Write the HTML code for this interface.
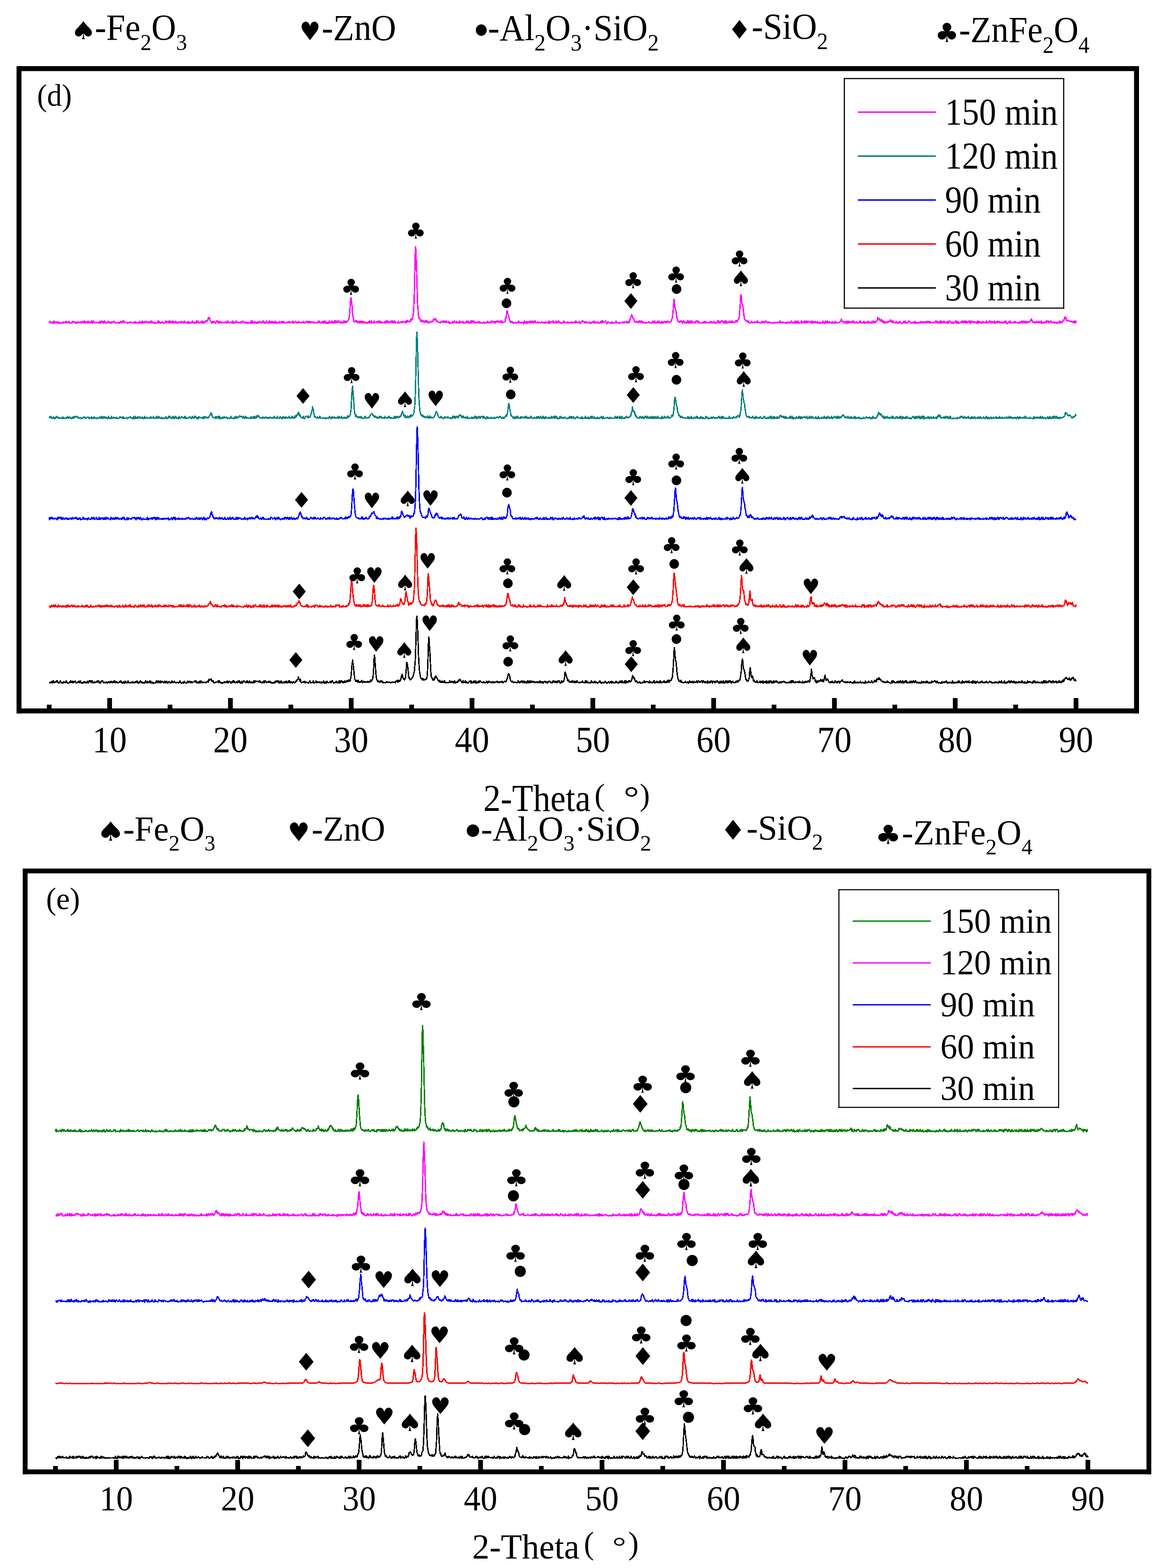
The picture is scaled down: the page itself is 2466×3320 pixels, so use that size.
<!DOCTYPE html><html><head><meta charset="utf-8"><title>XRD patterns (d) and (e)</title><style>html,body{margin:0;padding:0;background:#fff;width:2466px;height:3320px;overflow:hidden}svg{display:block}</style></head><body><svg width="2466" height="3320" viewBox="0 0 2466 3320"><rect width="2466" height="3320" fill="#fff"/><rect x="35.00" y="140.00" width="2376.00" height="10.50" fill="#000"/><rect x="35.00" y="1500.00" width="2376.00" height="10.50" fill="#000"/><rect x="35.00" y="140.00" width="10.50" height="1370.50" fill="#000"/><rect x="2400.50" y="140.00" width="10.50" height="1370.50" fill="#000"/><rect x="48.20" y="1839.00" width="2388.80" height="10.20" fill="#000"/><rect x="48.20" y="3111.30" width="2388.80" height="10.20" fill="#000"/><rect x="48.20" y="1839.00" width="10.20" height="1282.50" fill="#000"/><rect x="2426.80" y="1839.00" width="10.20" height="1282.50" fill="#000"/><rect x="99.20" y="1492.00" width="10.00" height="9.00" fill="#000"/><rect x="227.05" y="1478.00" width="10.00" height="23.00" fill="#000"/><rect x="354.90" y="1492.00" width="10.00" height="9.00" fill="#000"/><rect x="482.75" y="1478.00" width="10.00" height="23.00" fill="#000"/><rect x="610.60" y="1492.00" width="10.00" height="9.00" fill="#000"/><rect x="738.45" y="1478.00" width="10.00" height="23.00" fill="#000"/><rect x="866.30" y="1492.00" width="10.00" height="9.00" fill="#000"/><rect x="994.15" y="1478.00" width="10.00" height="23.00" fill="#000"/><rect x="1122.00" y="1492.00" width="10.00" height="9.00" fill="#000"/><rect x="1249.85" y="1478.00" width="10.00" height="23.00" fill="#000"/><rect x="1377.70" y="1492.00" width="10.00" height="9.00" fill="#000"/><rect x="1505.55" y="1478.00" width="10.00" height="23.00" fill="#000"/><rect x="1633.40" y="1492.00" width="10.00" height="9.00" fill="#000"/><rect x="1761.25" y="1478.00" width="10.00" height="23.00" fill="#000"/><rect x="1889.10" y="1492.00" width="10.00" height="9.00" fill="#000"/><rect x="2016.95" y="1478.00" width="10.00" height="23.00" fill="#000"/><rect x="2144.80" y="1492.00" width="10.00" height="9.00" fill="#000"/><rect x="2272.65" y="1478.00" width="10.00" height="23.00" fill="#000"/><rect x="112.40" y="3104.00" width="10.00" height="8.00" fill="#000"/><rect x="240.95" y="3091.00" width="10.00" height="21.00" fill="#000"/><rect x="369.50" y="3104.00" width="10.00" height="8.00" fill="#000"/><rect x="498.05" y="3091.00" width="10.00" height="21.00" fill="#000"/><rect x="626.60" y="3104.00" width="10.00" height="8.00" fill="#000"/><rect x="755.15" y="3091.00" width="10.00" height="21.00" fill="#000"/><rect x="883.70" y="3104.00" width="10.00" height="8.00" fill="#000"/><rect x="1012.25" y="3091.00" width="10.00" height="21.00" fill="#000"/><rect x="1140.80" y="3104.00" width="10.00" height="8.00" fill="#000"/><rect x="1269.35" y="3091.00" width="10.00" height="21.00" fill="#000"/><rect x="1397.90" y="3104.00" width="10.00" height="8.00" fill="#000"/><rect x="1526.45" y="3091.00" width="10.00" height="21.00" fill="#000"/><rect x="1655.00" y="3104.00" width="10.00" height="8.00" fill="#000"/><rect x="1783.55" y="3091.00" width="10.00" height="21.00" fill="#000"/><rect x="1912.10" y="3104.00" width="10.00" height="8.00" fill="#000"/><rect x="2040.65" y="3091.00" width="10.00" height="21.00" fill="#000"/><rect x="2169.20" y="3104.00" width="10.00" height="8.00" fill="#000"/><rect x="2297.75" y="3091.00" width="10.00" height="21.00" fill="#000"/><rect x="1786.00" y="165.10" width="466.70" height="2.40" fill="#000"/><rect x="1786.00" y="651.20" width="466.70" height="2.40" fill="#000"/><rect x="1786.00" y="165.10" width="2.40" height="488.50" fill="#000"/><rect x="2250.30" y="165.10" width="2.40" height="488.50" fill="#000"/><rect x="1774.60" y="1882.70" width="467.40" height="2.30" fill="#000"/><rect x="1774.60" y="2343.50" width="467.40" height="2.30" fill="#000"/><rect x="1774.60" y="1882.70" width="2.30" height="463.10" fill="#000"/><rect x="2239.70" y="1882.70" width="2.30" height="463.10" fill="#000"/><rect x="1816.00" y="235.90" width="165.00" height="3.00" fill="#ff00ff"/><rect x="1816.00" y="329.00" width="165.00" height="3.00" fill="#008080"/><rect x="1816.00" y="422.00" width="165.00" height="3.00" fill="#0000ff"/><rect x="1816.00" y="515.10" width="165.00" height="3.00" fill="#ff0000"/><rect x="1816.00" y="608.20" width="165.00" height="3.00" fill="#000000"/><rect x="1805.00" y="1948.90" width="165.30" height="2.80" fill="#008000"/><rect x="1805.00" y="2037.40" width="165.30" height="2.80" fill="#ff00ff"/><rect x="1805.00" y="2126.10" width="165.30" height="2.80" fill="#0000ff"/><rect x="1805.00" y="2215.20" width="165.30" height="2.80" fill="#ff0000"/><rect x="1805.00" y="2303.40" width="165.30" height="2.80" fill="#000000"/><path d="M104.2 683.1l0.8-3.2 1 0.4 1 3.3 1-0.1 1 0.1 1-1.7 1 1.4 1-1.9 1 3.2 1-5 1 3.7 1-1.7 1 1.7 1 0.2 1-1.4 1-0.8 1 2.1 1-0 1-1.8 1 2.3 1 0.4 1-2 1 1.4 1 0.9 1-0.8 1-0.2 1 0.5 1 0.3 1-1.2 1-2.1 1 2.3 1 0.4 1-1.4 1-0.9 1 2 1-1.6 1-1.2 1 2.7 1 0.4 1-1.4 1 0.3 1-2.1 1 3.6 1-0.5 1 0.2 1 0.6 1-1.5 1-1 1 1.7 1-3.8 1 1.3 1 0.5 1 0.5 1-1.3 1 3.3 1-2.4 1 0 1 2.7 1-2.1 1 1 1-2.1 1 2.2 1-0.3 1-0.8 1 1.4 1-2 1 1.5 1-1.3 1 1.6 1-3 1 1.1 1 1.6 1-1.7 1-1.5 1-0.5 1 4.7 1-3.3 1 1 1 1.1 1 0.7 1-3.8 1 3.9 1-2.2 1-1.7 1 4.2 1-0.9 1 0.8 1-1.6 1-3 1-0 1 4.9 1-0.9 1-2.1 1-1.9 1 2.6 1 1.6 1-1.2 1 0.7 1 0.2 1 0.4 1-1.5 1 0.2 1 0.8 1 0.1 1 0.8 1-0.6 1-3.3 1 3 1 0.9 1-4.2 1 1.9 1-2.3 1 3.4 1 0.5 1 0.8 1-4.3 1-0.4 1 4.2 1-0.1 1-1.9 1 2 1-0.4 1-0 1-0.7 1-2.2 1 2.6 1-2.1 1 2.5 1-1.1 1 2.3 1-0.4 1-2.9 1 2.3 1-1.8 1 0.1 1-1.9 1 1.2 1-0.5 1 2.6 1 0.4 1-0.1 1-0.2 1 0.5 1-0.4 1-0.3 1-0.7 1 0.9 1 1.1 1-1.3 1-0.6 1-2 1 1.2 1 1.8 1 0.1 1-4.1 1 1.7 1-1.7 1-0 1 4.1 1-1.5 1-0.2 1-0.2 1 0.1 1 0.8 1 0.1 1 1.5 1-1 1 0.4 1-0.8 1 0.6 1-1.8 1-0.5 1 1.3 1-0.1 1 0.6 1 0.5 1-0.2 1 0.2 1-1.3 1 0.9 1-1.4 1 2.4 1-3.1 1 2.7 1-0 1-0.4 1 0.2 1-1.1 1 1.1 1 0.4 1-0.2 1-3.7 1 3 1 0.9 1-0.8 1 1.1 1-4.8 1 4.7 1-2.2 1-0.2 1 2.4 1-1.8 1-1.7 1 1.3 1 0.5 1-1.7 1 1.9 1-0.4 1 0.9 1-1.6 1 2.2 1-2.6 1 2.3 1 0.4 1-1.7 1-2.7 1 1.4 1 2.7 1-2.1 1 2 1-0.2 1-0.3 1 1.9 1-2.2 1 1.2 1-0.2 1 0.6 1 0 1-0.4 1-2.6 1-1.6 1 3.6 1-2.6 1 2.8 1 1.2 1-1.8 1-0.7 1 1.4 1-1.1 1-0.7 1 2 1 0.5 1-0.9 1 0 1 0.1 1-2.7 1-1.2 1 3.9 1-2 1-0.5 1 0.5 1-0.8 1 2.8 1-2 1-1.9 1 1.7 1 2.4 1-1.9 1-1.6 1 2.2 1 1.3 1-4 1 4.5 1-2.1 1 1.2 1 0.8 1-3.8 1 2.1 1 1.7 1-2.3 1 1.8 1 1.1 1-0.9 1-1.1 1-0.9 1 1.1 1 0.2 1-1 1 1.2 1-2.9 1 2.4 1-0.3 1-0.6 1 2 1-0.2 1-4.2 1 2.8 1 1.1 1-1.1 1 1.2 1-1 1 1.2 1-1.1 1 1.8 1-4.4 1 3.6 1 0.7 1-0.9 1-0 1-0.6 1 1.2 1-1.7 1-2.7 1 4.6 1-1.8 1 1 1-0.6 1 1.7 1-0.5 1-1.9 1 1.2 1-3.7 1 4.1 1-0.9 1-3.2 1 4.1 1 0.1 1-0.7 1-0 1-2.1 1 1.7 1 0.8 1-1 1-3.1 1 0.5 1 5.1 1-2 1 0.5 1-2.2 1 1.5 1-3.9 1 1.1 1-0.3 1 0.8 1-0.8 1-2.7 1-4.2 1 0.6 0.3 1.5 0.7-2.9 1 4.2 1 2.4 1 2.1 1 1 1 0.7 1 2 1-4.3 1 1.3 1 1.6 1-2.6 1 1.5 1 0.2 1 2.7 1-1.6 1-1.5 1-2.3 1-0 1 0.2 1 4.3 1 0.8 1-3 1 1.3 1-2.2 1 2.4 1-0.6 1 1.6 1-2.1 1 1.4 1-1.1 1-0.3 1 1.2 1-0.9 1 0.8 1-1.9 1 0.6 1 1.6 1 0.1 1-4.1 1 3.7 1-2.4 1 1.4 1 1.4 1 0.1 1-0.8 1-0.4 1-0.8 1 2.4 1-0.5 1-0.3 1-3.7 1 5.3 1-2.7 1 1.4 1-1.4 1 1.4 1-1.2 1-2.8 1 2.8 1-0.2 1 0.2 1 1.4 1-1.8 1 1.4 1 0.5 1-0.6 1 0.1 1-2 1 1.9 1 0.4 1-3.9 1 1.1 1-0.7 1 1.6 1 1.5 1 0.2 1-0.1 1-2.5 1 2 1 1.3 1-1 1 1 1-1.4 1 1.3 1-0 1-1.2 1 0.3 1 1.2 1-3 1-1.8 1 4.7 1-4.7 1 4.1 1-0.1 1-0.3 1 0.9 1-4.1 1 1.9 1 1.7 1-0.3 1 0.9 1-0.9 1-2.5 1 3.5 1-0.9 1-0.7 1-2.2 1-0.7 1 3.5 1 0.2 1-1.6 1 1.3 1-0 1-2.9 1-1 1 3 1 0.8 1-1.5 1 2.8 1-1.4 1 0.8 1-4.3 1 1.9 1 1.4 1 0.4 1 1.7 1-3.5 1-1.8 1 4 1-2.1 1-0.1 1 2.9 1-3.4 1-1 1 2.7 1 0.6 1-1.9 1 3 1-1.3 1-2.4 1 3.4 1-3.3 1 2.7 1 1.2 1-1.4 1 0.6 1-1.5 1 1.5 1-3.3 1 3 1-1.4 1 1.3 1-0.2 1-3.1 1 2.4 1 0.8 1 0.6 1-3.7 1 1 1 2 1-0.9 1 1.4 1-0 1-0.2 1-1.4 1 0.1 1 1.3 1-2.3 1-0.2 1 1.5 1-2.1 1 2.8 1-0.2 1-1.2 1 1.2 1-2 1 2.9 1-4.4 1 4 1-0.5 1 0.9 1-2.4 1-1.6 1 0.5 1 0.6 1 3.1 1-0.6 1-0.2 1 0.3 1-3.3 1 2.2 1 0.5 1-1.2 1 1.9 1-0.1 1 0 1-1.8 1 0.4 1-0.6 1-1.2 1 3.6 1-0.6 1-0.7 1 1.3 1-0.5 1-2.9 1-0.2 1 0.1 1 2.5 1 0.2 1-2.8 1 2.9 1-1.1 1-2.4 1 3.5 1 0.1 1-0.4 1-1.4 1 0.2 1 0.8 1-1 1 2.5 1-0.6 1-0.9 1 1 1 0.3 1-0.1 1-0.2 1-0.5 1 0.6 1-1.3 1-3 1 3.6 1-3.1 1 2.4 1 1.4 1-0.6 1 0.5 1-2.5 1 2.7 1-4 1 1.8 1 2.8 1-3.3 1-1.7 1 4.2 1-3 1 3.7 1-1.9 1 1.8 1-2.3 1 2.4 1 0.6 1-2.9 1-2.6 1 4 1-2.4 1 1.7 1 0.6 1-1.7 1-2.2 1 4.5 1-2.2 1 0.6 1 1.8 1-4.6 1 0 1 4.2 1-4.3 1 3.5 1 0.3 1-3.7 1 3 1-0.3 1-2.8 1 0.5 1 1 1 3.1 1 0.1 1-3.8 1 3.3 1-1 1 1 1-0.6 1 0.7 1-4.6 1 4.2 1-0.8 1-0.1 1-3.2 1 3.7 1-1.3 1-0.3 1-2.1 1-0.9 1-0.4 1-5.2 1-7.4 1-14.8 1-13.9 0.9-5.5 0.1-0.5 1 5.5 1 9.4 1 16.8 1 8 1 2.3 1 7.6 1 1 1 0.3 1-0.3 1-3.3 1 2.9 1-1.8 1 3.2 1 1.8 1-0.1 1-4 1 2.1 1 1.4 1-3.6 1 3.9 1-3.8 1-0.7 1 4 1 0.3 1-2.8 1 2.9 1-2.8 1 2.9 1-2.8 1 1.8 1 0.5 1 0.4 1-1.2 1 1.9 1-1.1 1 0.1 1-1.9 1 2.5 1-4.5 1 3.8 1 0.6 1-4.1 1-0.3 1 3.8 1 0.5 1-0.7 1 0.6 1-0.3 1-3.8 1 2.6 1 0.6 1-0.6 1 0.9 1-2 1-0.1 1 2.4 1-0.6 1-3.3 1 2.6 1 1.1 1-3.8 1 3.6 1 0.8 1-2.4 1 2.2 1-0.3 1-1.1 1 0.8 1 0.5 1-0.2 1 0.1 1-3.3 1 3.3 1-0.1 1-4 1 4 1-3.9 1 0.4 1 3.2 1 1 1-2.1 1-0.6 1-0.7 1 2.1 1-2.7 1-0.4 1 4 1-4.1 1 3 1 0.8 1-0.1 1-3.9 1 1.2 1 3.7 1-1.5 1 0.3 1 0 1 0.2 1 0.7 1-3.1 1 2.7 1-0.5 1 0.2 1 0.1 1-2.4 1 0.8 1 1.4 1 0.2 1-0.3 1-2.7 1 1.9 1-0.3 1 0.8 1-0.1 1-0.8 1 1.7 1-5 1 4 1-0.3 1-3.8 1 2.5 1 0.2 1 0.2 1 0.4 1-2.1 1-3 1 2.7 1-4.9 1 2.6 1-2.3 1-5.2 1-5.8 1-16.5 1-26.3 1-43.6 1-42.9 0.7-11.9 0.3 1.6 1 22.2 1 31.1 1 38 1 29.3 1 11.9 1 13 1 4.8 1-1.5 1 1.7 1 4.8 1 1 1 0.3 1-3 1 3.4 1 0.6 1-0.3 1-2.7 1 4 1-0.6 1 0.8 1-4.5 1 0.1 1 1.3 1 2.4 1-1.6 1 3.2 1-2.2 1 1.7 1-0 1-0.5 1-0.3 1-1.7 1-0.4 1 0.8 1 0.9 1-3.1 1 0.5 1-4.6 1 1.8 1 0.6 1-0.9 1-2.3 1 4.2 1 2.6 1-1.5 1 1.4 1 0.4 1 1.7 1-0.5 1-0.2 1 0.9 1 0.4 1-1.1 1-1.9 1 0.8 1 0.4 1-0 1-2.4 1 3 1-1.8 1-1.1 1 3.5 1-0.5 1-1.8 1-1.1 1 2.9 1-0.1 1 0.7 1 1 1-3.5 1 2.9 1 1.1 1-1.2 1 1.2 1-0.5 1-0.8 1 0.7 1-3.2 1 3.6 1-1.7 1-0.7 1-2.2 1 1.3 1 1.7 1 0.3 1 0.3 1-2.8 1 3.2 1-1.8 1 1.4 1-0.7 1 0.8 1-3.8 1 4.1 1-1.1 1-0 1-0.9 1 0.4 1 0.1 1-1.4 1 3.5 1-1.2 1 1 1-1.5 1 1.4 1-0.1 1-0.7 1-3.4 1 2 1 0.7 1-2.7 1 4.1 1 0.8 1-1.2 1-0.1 1-3.2 1-0.6 1 4.5 1-4.6 1 0 1 1.6 1 1.1 1-2.7 1 3.4 1 0.6 1-0.7 1 1.3 1-2.1 1 1.2 1-0.9 1-0.1 1 1.7 1-4 1 3.9 1-2.9 1 3.3 1-2 1 1.5 1-0.7 1 0.6 1 1.1 1-0.7 1-1 1-1.3 1 2.5 1 0.5 1-0.9 1-0.5 1 0.3 1 0.1 1-2.6 1-0.3 1 0.5 1 2.4 1-0.9 1 0.4 1 0.9 1-3.2 1 1.9 1 0.6 1-3.7 1 1.5 1-0.3 1-0.8 1 1.1 1 2.6 1-0.6 1-2.8 1 3 1-0.6 1-0.9 1-2.5 1 0.3 1 1 1 2.3 1-2.4 1 0.9 1 1.4 1-3.4 1 2.1 1 1.6 1-3.7 1 3.2 1-1.7 1 2.4 1-1.3 1 0.4 1-0.5 1-0.3 1-7.1 1-0.4 1-7 1-8.5 0.7 1.1 0.3-1.1 1 5.4 1 2.2 1 5.1 1 2.9 1 4 1 3.3 1 1.3 1-0.1 1-2.2 1 0.9 1 0.2 1 2.6 1 0.5 1-1.4 1-0.1 1 0.2 1-1.2 1 1 1 0.7 1-0.2 1-1 1 0.2 1 0.2 1-3.6 1 3.8 1-0.5 1 1.1 1-0.5 1-1.5 1-0.2 1 1.5 1-1.1 1 0.8 1 1.5 1 0.7 1-5.6 1 1.6 1 2 1 1.3 1-0.4 1-4.1 1 5.2 1-1.7 1-2.3 1 1.7 1-1.5 1 1.9 1-3.7 1 4.3 1 0.2 1-1.6 1-2.8 1 3.5 1-2.5 1 2.9 1 0.4 1-4.2 1-0.2 1 0 1 3.9 1 0.5 1 0 1-0.6 1-1.6 1 0.2 1 2.2 1-1.5 1 0.4 1-0.1 1 0.2 1 0.2 1-1.6 1 1.1 1-0.2 1 1.1 1-1.4 1 1 1 1.4 1-2.7 1 1.4 1-2.5 1 2.4 1-0.1 1-0.5 1 0.5 1 0.3 1 1 1-5 1 4.7 1-0.9 1-1.8 1 0.7 1-0.5 1-0.5 1-1.2 1 2.3 1-2.9 1 4.3 1-1.2 1 0.7 1 0.2 1-1.1 1-2.8 1 4 1 0 1-2.3 1 0.5 1-2.3 1 1.1 1 2 1 0.8 1-0.8 1 0.7 1 0.9 1-1 1 0.1 1 0.1 1 0.1 1-3.8 1 1.9 1-0.6 1 2.7 1 0.3 1-0.5 1-0.8 1 0.8 1-0.1 1-2.5 1 1.6 1 1.4 1-0.4 1 0.2 1-0.9 1 1.2 1-0.7 1-1.8 1 1.6 1 0.7 1-0.2 1-0.7 1-0.9 1-0.8 1 2.1 1 0.8 1-4.4 1 2.7 1-0.2 1 0.2 1 1.5 1-0.5 1-0.8 1-1.9 1 2.4 1 2.2 1-1.8 1-1.1 1-2.2 1 1.3 1-1.9 1 0.2 1 0.2 1 1 1 3.2 1-3 1 0.6 1 1.8 1-1.8 1 0.4 1 1.4 1-0.3 1 0.1 1-0.8 1 0.8 1-1.6 1 2.7 1-1.2 1 1 1-0.9 1-1.6 1 1.2 1 0.1 1-0.2 1-3.4 1 4.4 1-3 1 3.3 1-0.8 1-0.7 1 1.1 1-1.2 1-1.2 1 2.6 1-0.8 1 0.2 1 1.2 1-1.2 1 0.4 1-3.7 1 3.8 1-4.2 1 3.9 1-3.9 1 2.3 1 0.2 1-0.8 1-0.3 1-1.2 1-0.2 1 3.9 1 0.7 1 1 1-1.7 1-2.1 1 0.9 1 0.6 1 0.5 1 0.3 1-0.3 1-1.1 1 2.2 1-3.1 1 2.8 1-1 1 0.4 1-0.2 1 0.5 1 0.1 1-0.7 1 0.6 1-4.4 1 3.9 1 0.2 1-0.2 1 0.4 1 1 1-1.6 1-0.9 1 1.8 1-1.1 1 0.8 1-0.8 1-0.9 1-0.3 1 0.1 1 1.5 1-2.6 1 2.4 1-1.1 1-0.9 1 1.8 1 0.7 1-2.4 1 2.2 1-0.3 1 0.1 1-3 1 1.9 1 1 1-4.3 1-3.9 1-3.6 1-0.6 1-3.3 0.1-1.1 0.9 0.7 1 4.7 1 2.5 1-0.9 1 2.7 1 4.7 1 0.7 1-0.2 1 1 1-1.1 1-0.5 1 0.7 1 1.4 1 1 1-2.4 1-1.8 1-0.3 1 3.7 1-0 1-3.4 1-0 1 2.6 1-0.9 1 2.3 1-1.9 1 1.9 1-0.4 1-0.1 1 0.3 1 1.1 1-0.9 1-1.4 1 0.9 1 0.2 1-1.3 1-0.6 1-0.3 1 2.5 1-0.6 1 0.2 1 0.4 1 0.5 1-1 1 0.5 1-4.2 1 3.7 1 0.1 1 0.1 1-3.9 1 4.3 1-0.6 1 0.5 1-0.5 1-0 1-2.7 1 3.7 1-1 1-3.7 1 4 1-0.2 1 0.5 1 1.2 1-1.8 1-2.9 1 3.1 1 1 1-2 1 0.4 1-2.3 1 0.2 1 2.3 1-1.2 1 2.2 1-4 1 2.2 1-2.3 1-0.1 1 2.7 1-0.3 1 0.3 1 0.5 1-1.7 1-1 1 0.1 1-4.2 1-2.3 1-8.4 1-10.7 1-13 0.8-8.1 0.2 0.8 1 9 1 8.2 1 3.7 1 4 1 7.3 1 7.6 1 1 1 5.2 1 0.3 1 0.6 1-0.4 1 2.1 1-3.8 1 1.5 1-0.2 1-1.1 1 3.7 1 1.4 1-2.7 1-2.3 1 0.5 1 3.2 1-0.3 1-0.7 1 2 1-0.9 1-0 1-4 1 4 1-4 1 3.6 1 1.2 1-4.8 1 4.3 1-2.1 1-2.1 1 4 1 0.5 1-3.4 1 2.4 1 1 1-0.1 1-0.4 1-2.6 1 2.5 1-1.7 1-2.1 1 0.6 1-0.4 1 0.4 1 4.2 1-4.1 1 2.1 1 0.9 1 0.7 1 0.4 1-0.4 1-0.8 1 0.9 1-0.3 1-0.1 1-2.1 1 1.8 1-0.1 1-3.3 1 3.4 1-1.6 1 2.1 1-1.5 1 0.4 1-0.1 1 0.7 1 0.4 1-0.5 1 0.2 1-2.9 1 0.3 1 3.1 1-2.4 1 1.8 1-1.5 1 1.5 1 0.7 1-3.5 1 1.3 1 2 1 0.4 1-1 1 0.5 1-0.6 1-1.7 1-2.1 1 3.8 1-3.6 1 0.6 1 3.1 1 0.9 1-3.3 1 0.6 1-2.1 1 0.1 1 1.6 1-1.7 1 4.3 1-1.2 1 0.7 1-3.8 1 2.2 1 3.4 1-5.3 1 3.9 1-2.5 1 2.2 1-0.9 1-0.9 1 1 1 1.2 1-4.1 1 2.3 1 1 1-1.8 1 2.1 1-4 1 3 1-0.4 1-0 1 1.4 1 0.1 1-1.6 1-0.5 1-2.7 1 1.9 1 1.5 1-2.7 1-1.5 1-1.7 1-1.2 1-4 1-14.9 1-13.5 1-17.6 0.5-0.1 0.5-0.7 1 14.8 1 6.5 1 1.9 1 3.1 1 11.1 1 8.2 1 5.8 1 1 1 2.4 1 1.3 1 0.2 1-0.3 1 0.2 1-1.8 1 3.8 1-0.4 1 1.9 1-0.3 1-0.4 1 0.4 1-1.3 1-1.9 1 2.9 1-0 1 0.1 1-0.7 1 0.8 1-1.5 1 0.4 1-0.1 1-1 1 1.8 1-0.2 1-3.2 1 3.6 1-1.9 1 1.8 1 0.4 1-0 1 0.3 1-0.6 1 0.5 1-0.2 1-3.2 1 3 1-2.8 1 2.1 1-1.4 1 2.5 1-0.8 1-3.2 1 1.6 1-0.5 1 1.9 1-1.5 1 2.9 1-0.2 1-1.7 1-0.9 1 2.2 1-0.1 1 0.1 1-0.1 1 0.7 1 0.1 1-0.9 1 1.2 1-0.6 1-0.2 1 0.3 1-1.3 1 0.9 1-0.3 1 0.7 1-0.2 1-1.8 1 0.4 1 1.2 1-1.2 1 0.4 1 0.1 1-3.3 1 3.9 1-1.3 1-0 1 1.1 1 0.7 1-2.4 1 1 1 0.5 1 0.1 1-0 1 0.7 1-1.3 1 2 1-1.3 1 1 1-0.7 1-2 1 1.9 1 0.1 1-1.4 1 1.3 1 0.1 1-0 1-3.8 1 2 1 0.5 1 1.9 1-2.2 1 2.3 1-2 1 1.8 1-4.4 1 4.9 1-4.1 1 1 1 3.1 1-1.1 1-3.6 1 0.8 1 3.8 1-0.9 1 0.5 1-0.1 1-0.3 1-4.1 1 3.4 1 0.4 1 0.1 1-1.8 1-0 1 2.2 1-4.2 1 4.2 1-0.5 1-1.2 1-2.7 1 4 1-0.9 1-2.4 1 1.6 1-1.1 1 0.2 1 1.9 1-0.9 1-0.7 1 2.2 1-3.7 1 5.1 1-0.8 1-4 1 2.5 1 1.4 1-1.3 1-1.7 1 2.9 1-2.1 1 1.9 1-0 1-0.1 1-2.6 1 3.4 1-0.6 1-1.7 1 2.4 1 0.2 1-2.4 1 1.3 1 0.1 1-0.4 1 0.9 1-4.3 1 4.3 1-0.4 1 0.7 1-0.7 1-3.9 1 3.6 1-1.4 1 1.7 1-4 1 3.4 1 1.1 1-2.7 1 2.1 1-1.7 1 1.2 1-0.4 1 0.3 1 0.9 1 0.4 1-3.3 1 2.3 1-0.7 1 1 1 1.1 1-0.5 1-4.2 1 3.8 1-0.3 1 0.7 1-0.7 1-0.1 1-0.1 1-0.3 1 0.2 1-0.5 1-1 1-1.6 1-0.1 1-4.2 1 3.7 1 1 1 1.7 1-2.2 1 3.5 1 0.7 1-0.4 1-2 1 2.2 1-3.7 1 3 1 1.1 1-0.9 1-3.8 1 4.3 1 0.3 1-2.1 1-1.9 1 0.7 1 2.5 1-0.6 1-0.4 1-2 1-0.9 1 3.7 1-3.1 1 3.2 1-1.5 1 2 1-0.2 1-1.4 1 1.5 1-2.7 1 2.4 1-0.4 1 0.1 1 0.2 1-0.5 1-2.3 1-1.1 1 4.5 1-1.4 1 0.7 1 0.5 1-1.2 1 1.3 1-0.6 1-2.9 1 4.3 1-2 1-0.4 1 1.6 1-1.8 1 0.4 1 1 1-3.1 1 3.7 1-2.3 1 1.6 1 0.6 1-0.7 1 0.1 1-2.1 1 2.9 1-1 1 0.2 1-4 1 4.4 1-3.3 1 3.5 1-2.2 1 0.6 1-1.5 1 0.4 1-0.5 1-2.2 1-6 1 1.8 1 1.7 1-1.3 1 3.6 1 0.5 1 0.6 1-2.9 1-0.1 1 5.4 1-0.6 1-1.2 1-1.1 1 5.5 1-1.8 1-1.2 1 2.5 1-1.9 1 0.5 1-1.3 1 2 1-1.5 1 1 1-2.2 1 0.4 1-0.2 1 0.5 1-4.4 1 1.9 1 1.2 1 3 1 0.1 1-3.8 1 2.2 1 2.3 1-0.6 1-0.2 1 0.4 1 0.6 1-3.6 1 1.7 1 1.4 1 1 1-0.7 1-0.4 1-2 1 2.2 1-2.7 1 2.3 1 0.7 1 1.4 1-1.1 1 0.3 1-1 1-0.8 1-2.6 1 3.3 1 0.8 1-4.5 1 3.1 1 0.8 1-0 1 0.8 1-2.4 1 0.6 1-2.8 1 1.1 1 0.5 1-0.9 1 3.1 1 0.1 1-0.3 1 0.9 1-0.8 1 0.1 1-1.7 1 1.5 1 1.3 1-1.3 1-3.3 1 4.6 1-0.8 1-0.5 1 0.9 1-0.5 1-0.5 1 1 1-1.6 1-0.3 1 1.8 1-0.9 1-2.5 1 2.7 1-1.1 1-0.5 1 1.6 1-2.4 1 1.5 1 1.5 1-1.9 1-0.8 1 0.2 1 2.3 1-1.5 1-2.2 1 2.7 1-2.3 1-0.3 1 3.1 1-1.5 1 1.7 1-2.7 1 2.6 1 0.3 1-0.4 1 0.1 1-1 1-0.2 1 1.9 1-0.4 1-1.2 1-0.4 1 1 1-3.5 1 1 1 2.7 1-1.8 1-1.4 1 2.3 1 2.1 1-1.5 1 0.2 1-3.5 1 4.9 1-5 1 3.8 1-2.4 1 2.5 1-0.7 1-2.3 1 2.6 1-2.4 1 2.6 1 0.3 1-0.1 1 0.2 1-0.3 1-3.4 1 4.1 1 0.4 1-1.3 1-3.6 1 1.1 1-0.7 1 0.2 1 3.5 1-0.8 1 2.2 1-1.4 1-1.9 1 2.5 1 0.4 1-0.6 1-1.5 1-2.3 1-0.7 1 0.1 1 4.6 1 0.5 1-2.1 1-2.1 1 3.7 1-0.7 1-0.1 1-0.4 1 0.2 1-1.4 1-1.3 1 2.4 1-1.7 1-1.6 1 4.3 1-0 1-2.1 1-2.3 1 3 1-2.2 1 3 1-2.6 1 2.8 1-2.2 1 0.6 1 0.1 1-2.4 1 0.7 1 3.2 1-2.8 1 3.5 1-3.7 1-1 1 2.1 1-0 1 1.1 1-1.9 1 2.5 1-2.1 1 1.9 1 0.2 1-0.8 1 0.4 1 1.4 1-4.8 1 2.9 1 1.8 1-4 1 2.6 1-0.5 1-1.3 1 2.6 1 1.4 1-2 1-0.9 1-1.8 1 3.2 1-0.4 1-1.4 1 1.4 1-0 1-1 1 1.6 1-4.3 1 4.2 1-1 1 0.6 1 0.2 1-2 1-1.1 1-0.9 1 1.9 1 1.9 1-2.6 1 3.3 1-1.3 1-1.1 1-0.2 1 2.4 1 0.3 1-4.6 1 3.9 1 0.9 1-0.3 1-1.1 1-2.8 1 2.8 1-2.9 1 2.4 1-0.6 1-1.2 1 2.8 1-1.1 1 1.2 1 0.1 1-2.2 1 2.3 1-0.9 1 1 1-0.5 1 0.3 1-3.2 1 2.5 1-0 1-3.2 1 5.5 1-1.2 1 1.2 1-2.1 1-1 1-0.5 1 0.9 1 1.3 1-4.2 1 2.8 1 1 1 0.6 1-1.9 1 1.4 1-0 1-0.9 1-0 1 1.2 1-3.7 1 3.8 1-0 1-1.6 1 0.4 1 0.2 1 0.5 1-0.5 1 0.6 1 0.7 1-2.9 1 2.5 1-0.5 1-2 1 1.7 1-3.5 1 4.7 1-0.5 1-0.8 1-3.1 1 3.5 1 0.8 1-3.8 1 3.4 1-0.5 1-2.4 1 2.6 1-0.2 1-1.7 1 1 1-1.3 1 0.5 1-1.7 1-0.4 1-0.3 1-4.2 1 3.6 1-0 1 3.7 1-0.1 1 0.4 1 1 1-2.2 1 1.9 1-0.3 1 1 1-3.5 1 0.6 1 0.8 1 1.7 1-0.3 1-3.3 1 3.1 1-0.8 1 0.3 1 1.1 1-4.3 1 5 1-2 1 0.7 1 1.1 1-2 1-0.4 1 1.1 1 0.8 1-1.7 1-1.6 1 2.1 1-3 1 1.5 1 0.2 1-1.5 1 3.8 1-0.1 1-1.6 1-0 1-2.3 1 0.8 1 2.4 1-0.1 1 0.7 1-0 1 0.1 1-2.5 1 2.5 1-0.1 1-0.6 1 0.7 1-0.2 1 1.4 1-2.5 1 1.1 1-0.7 1-0.5 1 2.2 1-4.9 1 3 1-0.1 1 1.7 1-3 1 0.3 1 1 1-1.7 1-3.6 1 1.8 1-1.8 1-6 0.8 1.9 0.2 1 1-2.5 1 4.8 1 2.3 1-0.3 1 1.2 1-1.5 1 0.1 1 1.7 1 0.7 1-0.3 1 0.5 1-0 1-0.2 1 1.4 1-0.6 1 1.8 1-0 1-2.9 1 4.1 1-2.4 1-2.4 1 4.8 0.65-4.8" fill="none" stroke="#ff00ff" stroke-width="2.8" stroke-linejoin="round" shape-rendering="crispEdges"/><path d="M104.2 885.2l0.8-2.5 1 0.7 1-0 1-1.8 1 4.4 1-0.4 1 0.5 1-0.9 1-2.4 1 2.4 1-1.3 1 2.6 1-1.7 1 0.9 1-4.2 1 1.5 1-0.2 1 2.4 1-1.6 1-0.1 1 1.8 1 0.2 1-0.3 1 0.3 1 0 1-0.2 1 0.3 1-2.3 1 2.9 1-3.1 1 2.4 1 0 1 0.6 1-0.9 1 0.1 1-0.6 1 0.8 1-0.6 1-3.3 1 2.6 1 1.4 1-2.7 1 2.3 1-1.5 1 0 1 1.8 1 1 1-1.1 1-1.6 1 1.6 1-1.3 1-1.3 1 2.7 1-3.3 1-0.6 1 1 1-0.2 1 0.1 1-1 1 3.2 1 0.4 1-1.5 1 2.1 1 0.5 1-0.5 1-1.5 1-0.2 1 2.3 1 0.2 1-1.1 1-0.1 1-0.1 1-1.6 1-1.3 1 2.4 1-1 1 2.3 1 0.1 1-1.4 1-1.1 1-0.1 1 0.3 1-0.4 1-0.1 1 3.3 1-0.7 1-1.6 1-0.4 1 2.5 1-3.8 1 3 1-0.1 1-0.9 1-1.1 1 2.8 1-3.4 1 2.1 1 0.8 1-0.4 1 1.4 1-1.2 1-0.9 1 1 1-0.3 1-0.1 1-0.2 1-2.4 1 2.5 1 0.2 1-1.5 1-2.3 1 3.8 1-1.5 1 2.4 1-4.4 1 1.7 1-1.6 1 3.3 1 0.6 1-2.8 1 0.3 1 2.4 1 0.5 1-2.1 1 1.2 1-3.7 1 4 1-0.1 1-0.3 1 1.1 1-0.5 1-4.3 1 3.7 1 0.3 1 0.5 1-2.4 1-0.1 1 0.9 1 0.9 1-1 1-0.2 1 1.4 1-1.9 1 3 1-0.6 1-0.7 1-0.1 1 0.7 1-1.6 1-1.8 1 1.5 1 0.5 1-1.5 1 1.1 1 1.8 1-0.7 1-3.2 1 3.9 1-1 1 0.5 1 0.4 1 0 1-0.9 1-0.6 1 0 1 1.9 1-0.9 1-1 1-1.5 1 0.7 1-0.4 1-0.6 1 0.7 1 2.5 1-0.7 1 0.7 1 1.2 1-0.5 1-4.8 1 4.4 1 0.8 1-1.2 1-4 1 3.6 1-1 1 1.1 1-0.1 1-3.1 1 1.2 1 2 1-2.3 1-0.4 1 2.7 1-0.8 1 0.1 1 1.1 1-3.3 1 2.9 1 0.3 1 0.7 1-0.3 1-4.5 1 4.5 1-1.9 1 1.3 1-1.5 1-0.2 1 1.9 1-0.3 1-0.4 1 0 1 0.2 1 0.2 1-1.7 1-1.7 1 1.9 1 1.9 1-1.5 1 0.8 1-1 1-2.5 1 3.8 1-0.2 1 0.7 1-0.4 1 0.2 1-4 1 2.8 1 1.1 1-4 1 4.6 1-3.1 1-0.3 1 1 1 1.6 1-0.1 1 0.2 1-2.1 1 3.6 1-1.3 1-0.8 1 0.8 1 0.9 1-1.1 1 0.3 1-2.4 1-1.5 1 3.2 1 1.5 1-1.2 1 0.5 1-2.3 1-2 1 2.9 1-2.8 1 0 1 1.9 1 2.4 1-1.2 1 1.5 1-3.7 1 2.1 1-3 1 2.6 1 2.3 1-3.2 1-0.7 1-1.1 1 4.2 1 0 1-1.1 1 1.2 1 0.3 1-0.2 1-4.3 1 4 1 0.2 1-0.4 1-0.5 1-3.1 1 0.8 1 0.3 1 1.8 1-0.3 1 1 1 0.6 1-4.6 1 3.9 1-2.9 1 2.8 1-0.1 1 0 1 0.9 1-0.9 1-1.1 1-1.1 1 0.8 1-1.3 1 1.7 1 0.7 1 1.6 1-1 1-4 1 3.2 1-1.7 1 2.3 1 0.3 1-4 1 2.5 1-2.5 1 2.1 1 1.7 1 1.4 1-2 1 1.5 1 0.4 1-4.7 1 1.2 1 0.2 1 1.4 1 0.2 1-1.1 1 0.6 1 0.2 1-1.6 1 3.7 1-4.1 1 2.8 1-2.7 1-0.8 1 3.5 1-2.7 1 0 1 2.3 1-0.3 1-1 1 1.4 1-2.3 1-2.2 1-1.2 1-1 1-1.7 1-3 1 2.2 1 5.2 1 2 1 0.5 1 0.5 1 0.9 1-0.1 1-1.6 1-0.7 1 4 1-4.1 1 2.1 1-2.4 1 2.8 1-1.1 1-2.5 1 5.6 1-5.6 1 3.2 1 1.8 1 0.6 1-2.6 1 1.5 1-3.2 1 1.9 1 0.6 1-2.5 1 1.9 1-1.3 1-0.2 1 1.2 1-1.1 1 0 1 2.9 1-0.8 1-0.1 1 0.2 1 0.9 1-0.7 1-1.2 1 0.3 1-3.1 1 4 1-0.1 1 0 1-0.2 1 0.3 1 0.9 1-2.2 1-1.6 1-0.3 1 3.4 1-0.7 1-3.7 1 3.6 1-1 1 0.9 1-2.7 1-0.1 1-1.7 1 1.7 1-0.8 1 1.1 1-1 1 0.6 1 0.7 1 1.6 1-3.2 1 4.1 1-1.2 1 1.7 1-1.7 1-2.7 1 4.2 1-1.4 1 1 1-0.7 1-0.4 1 1.5 1-0.4 1 0.3 1 0.1 1 0.4 1-3.3 1 2.9 1-2.2 1 0.3 1 2 1-3.2 1 3.1 1-2.2 1-2.1 1 4 1 0 1-0.2 1-4.7 1 3.2 1-0.3 1-3.8 1 1.7 1 0.3 1 1.6 1 1.8 1-0.4 1 0.7 1 0.7 1-0.3 1 0 1-2.6 1 0.3 1 0.4 1 1.7 1 0.5 1-1.6 1-0.4 1-1.3 1 2.5 1 0.1 1-0.9 1 1.4 1-0.1 1-2.1 1 2.4 1-0.8 1-1.9 1 1.3 1-0.5 1 1.9 1-0.7 1 0.1 1-1.7 1 0.5 1 0.9 1-3.5 1 2.3 1 1.5 1 0.2 1-0.4 1 0.4 1-4 1 2.3 1 1.5 1 0.3 1 0.3 1-0.5 1-3.4 1 1.1 1 2.1 1-0.4 1 1.7 1-3.2 1 2 1-3.5 1 3.4 1 0.3 1-1 1 1.1 1-3.7 1 2.5 1-0.2 1 0.1 1 1.1 1-1.5 1 0.7 1-3.1 1 3.3 1-0.7 1 1.3 1-0.1 1-0.1 1-3.5 1 2.9 1-2.2 1 2.6 1 0.1 1 1 1-3.7 1-1.7 1 3.3 1-4.5 1 0.1 1 0.9 1-4.7 1 0.9 0.7-0.9 0.3-3.2 1 3.7 1 3.4 1-2.4 1 5.9 1 0.3 1 0.7 1 0.1 1 0.7 1 0.7 1-4.6 1 4.2 1 0 1 1.1 1-2.2 1-2.8 1-0.3 1-0.1 1 0 1 2.3 1 0.9 1-3.5 1 3.3 1-0.9 1 0.8 1-2.1 1-5.3 1-0.5 1-7 1-2.2 0.5-5.8 0.5 3 1 1.5 1 8.2 1 5.8 1 3.1 1-1 1 2 1 1.1 1-0.4 1 0.6 1-2.2 1 2.1 1 0.7 1-0.8 1 0.4 1-3.9 1 3.9 1 0.7 1-0.8 1 0.1 1-0.7 1 0.1 1 1.3 1-0.7 1 0 1 0.8 1-0.4 1-0.8 1 1.5 1-0.4 1-0.4 1-0.2 1-1.2 1 2.2 1-1.6 1-0.8 1-2.2 1 3.9 1 0.4 1 0.4 1-2.3 1-1.8 1 3.5 1-1.5 1-1 1-0.3 1 2.5 1-1.8 1 1.5 1 0.6 1-1.3 1-0.2 1 1.5 1-1.8 1-2.5 1 4.6 1-2.8 1-0.5 1 2.1 1-0.7 1 1 1-3.5 1 3.9 1-0.6 1 1.3 1-2.2 1-0.2 1 2 1-0.6 1-1.8 1 1.4 1 0.4 1 0.7 1-2.8 1-3.1 1 3.7 1-1.8 1-0.6 1 0 1-2.2 1-4.2 1-7.7 1-19 1-18.9 1-8.9 0.2-3.3 0.8 8.7 1 12.9 1 13.4 1 16.4 1 7.7 1 2.2 1 4.2 1-4 1 2.5 1 1.7 1-0.7 1 2.5 1 0.2 1-2.5 1-0.2 1 2 1 0.4 1 0.4 1-3.7 1 4.5 1-0.4 1-0.1 1 0.7 1-0.2 1-0.2 1-3.2 1-1.2 1 2.8 1 1.9 1-0.7 1-0.4 1 0 1-0.1 1-1.7 1 2.2 1-1.7 1-2.2 1-3 1-1.1 1-1.2 0.8-0.3 0.2 0.4 1 0.2 1 2.2 1 2.3 1-1.8 1 1.2 1 3.9 1-1.4 1-1.2 1 2.4 1 0.4 1-0.8 1 2.5 1-0.1 1-2.3 1 0.6 1-2.5 1 3.7 1-3 1 0 1-1 1 4.2 1-0.3 1-1 1 0 1 1.5 1-0.3 1 0.5 1-4.5 1 3.6 1-0.1 1 0.5 1-0.5 1-1.9 1 2.2 1-0.3 1-3.5 1 1.2 1 1.7 1 0.9 1-0.4 1 0.6 1-1.3 1 1.2 1 0.1 1-0.2 1 0.4 1-1.3 1-3.1 1 4 1 0.7 1-3.6 1 2.4 1-3.8 1 2.6 1-1.4 1 2.6 1 0.4 1-1.3 1-2.3 1 1.3 1-1.1 1-2.9 1-2.5 1-1.8 0.5-0.4 0.5-3.5 1 4.8 1 2.3 1 2.5 1-0.9 1 4.1 1-3.9 1 3.7 1 1.3 1-1.3 1 0.4 1-3 1 3.8 1-1.5 1 0.2 1-2.3 1 2.6 1-0.5 1-4.7 1 1.9 1 1.6 1-2.6 1 0 1-1.8 1-2.3 1-7.9 1-7.1 1-21.3 1-37.1 1-50.9 1-41.4 0.4-6.3 0.6 9.9 1 27.7 1 39.7 1 37.9 1 27.6 1 15.5 1 9.8 1 3.7 1 3.4 1 1.4 1-1.3 1 3.3 1-2.1 1 0.5 1 3.3 1-1.5 1 2 1-1 1 1.4 1-1.1 1 0.5 1 1.1 1-4.3 1 1.5 1 3.5 1-1.9 1 1.1 1-3.9 1 3.7 1-0.9 1 1 1-1.6 1 1.7 1 0.2 1-0.5 1-0.3 1-2.4 1-0.3 1-2.3 1-4 1-2.7 0.4-1.2 0.6 2.3 1 0.7 1-0.1 1 6 1 2.4 1 0.8 1 1.3 1 0.2 1-1.8 1 2.1 1-4 1 2.5 1 1.3 1 0.4 1-0.2 1 1.4 1-2.1 1-1.5 1 0.7 1 1.7 1-1.7 1-0.1 1 1.6 1-0.9 1-1.6 1 1.3 1 1.4 1-0.3 1-0.3 1 1.5 1-1.4 1 0.3 1 1.5 1-0.4 1-4.8 1 3.4 1-3 1 3.4 1-3.9 1 2.3 1 1.8 1-1.1 1-3.1 1-0.1 1 2.2 1 1.3 1-0.2 1-3 1-2 1 1.2 1-0.3 0.3-2.1 0.7 1.1 1 1.2 1 3.2 1 0.1 1-3.2 1 4 1-3.4 1 2.7 1 1.2 1-0.8 1-0.7 1 2 1-1.1 1 0.9 1-3.8 1 3.9 1-0.6 1 1.4 1-0.1 1-0.9 1 0.6 1-0.4 1-0.8 1-0.8 1 2.4 1-1 1-1.7 1 2.1 1 0.5 1-0.5 1-4.1 1 3.6 1-3.6 1 3.9 1-3.1 1 3.9 1-0.9 1-0.3 1-3.4 1 2.4 1-1.5 1 3 1 0 1-3.4 1-0.4 1 0.5 1 0.1 1 3.2 1-4 1 3.2 1-2.7 1 1.3 1 3.1 1 0.1 1-0.2 1-1.2 1-2.7 1 2.9 1-2.2 1 2.9 1-0.4 1 0.2 1-0.8 1 1 1-0.8 1-1.5 1 1.7 1 0.3 1-0.3 1 0.6 1-0.1 1-2.7 1 1.1 1 1.9 1-0.9 1-1.3 1-0.8 1 0.3 1-0.8 1 2.4 1-0.1 1 0.2 1-2.8 1 0.6 1-1.6 1 0.9 1 3.2 1 0.4 1-0.1 1-0.4 1-2.2 1 2.4 1 0.3 1-1.6 1-2.3 1-0.2 1-2.4 1 2.5 1-2.1 1-5 1-6.7 1-8 0.7-5.5 0.3-0.2 1 4.3 1 6.6 1 5.9 1 4.4 1 5.6 1-0.5 1 0.6 1 2.6 1 0.2 1 1.5 1-2.9 1 0.1 1 3.9 1-1.5 1-1.1 1-2.8 1 4.3 1-0.6 1-3.5 1 2.5 1 1.2 1 0.2 1-0.3 1 0.6 1-3 1 3 1-1.9 1-0.9 1-0.7 1 2.6 1 0.3 1-0.8 1 0.5 1-2.4 1 2.8 1-3.6 1 0 1 4 1-1.6 1 1.9 1-2.7 1 0.8 1 1.3 1 0.6 1-1 1-3.4 1 0 1 2.5 1 1.5 1-0.5 1 0.6 1 0.4 1-0.3 1-2.2 1 0.7 1 0.3 1 1.3 1 0.2 1-3.5 1 2.7 1-3.1 1 3.4 1-2.9 1 1.8 1 0.9 1 0.1 1-3.9 1 1.2 1 2.5 1-0.7 1 1.7 1-4.7 1 0.2 1 3.7 1-1.5 1 3.2 1-4.4 1 1.2 1 0.6 1-1.4 1 1.3 1 1.5 1-0.3 1-0.3 1-2.3 1 2.1 1 0.6 1-1.4 1 1.8 1-4.5 1 2.8 1 1.5 1-1.1 1-2.2 1 1.3 1-2.3 1 4.6 1-4.6 1 3.6 1-2.1 1-1.4 1 4.4 1 0.2 1-0.8 1 1 1 0.2 1-1.6 1-2.6 1 3.1 1-1.5 1-2.4 1 2.8 1 1.1 1-0.2 1-1.1 1 1.2 1-1.9 1 1.1 1-1.7 1 1.9 1 0.4 1 0.7 1 0.3 1-0.8 1 0 1-1 1 0.8 1 0.2 1-3.9 1 2.8 1-2.2 1 3.7 1-3.2 1-0.4 1 1.8 1 1.7 1-3.7 1 3.5 1 0.6 1 0.1 1-1.3 1 0.5 1-2.4 1 0.4 1-1.7 1 2.5 1 0.5 1 0.3 1 0.6 1 0 1-0.1 1-1.1 1 1.2 1-0.5 1-2.7 1 4.3 1-1.1 1 0.1 1-0.7 1 1 1-0.6 1-4.1 1 4.7 1-0.9 1-0.6 1 0.7 1 0.7 1-3.2 1 3.7 1-0.7 1-0.5 1 0.3 1-3.3 1 3 1-3.9 1 3.7 1-3.6 1 2.7 1 1.1 1 0 1-2.5 1 2.7 1-0.3 1 0.5 1 1 1-2.6 1-0.3 1 2.3 1-1.9 1 1.2 1 1.2 1-0.7 1-2.1 1-0.9 1 1.6 1-2.9 1 3 1 1.3 1 0.5 1-4.6 1 3.9 1-0.1 1 0.3 1 0 1-0.3 1-1.3 1-0.2 1 0.4 1-1.4 1 2.5 1 0.4 1-0.7 1 1.5 1-3.6 1 0.9 1-0.1 1 2 1-0.4 1-0.4 1 0.7 1 0.1 1-0.7 1-0.4 1 0.8 1-3 1-1.1 1 2.2 1 1.5 1 0.1 1-3.8 1 2.8 1-0.7 1 0.9 1 1 1-4 1 3.7 1-0.5 1 1.9 1-5.2 1 1.8 1 1.9 1 0.5 1-0.1 1 0.7 1-2.4 1 1.8 1-1.7 1-0.1 1-2.6 1 3 1-0.2 1-0.6 1 1.6 1-0.5 1-1.2 1-2.4 1 0.3 1 0.4 1-6.3 1-1.9 1-5.1 0.9-7.3 0.1 3.5 1 3.2 1 3.8 1 1.4 1-1.5 1 6.9 1-0.9 1 5 1-1.8 1 3.1 1 0.7 1 0.2 1 0 1 0.8 1 0.1 1-1.9 1-2.1 1 2.6 1 0.3 1 1 1-3.5 1 0.2 1 3.5 1-1.1 1 0.6 1 0.8 1-4.6 1 0.5 1 2.1 1-2.5 1 3.9 1-1.2 1-2.5 1 3.6 1-1.1 1 1.6 1-2.4 1-1.2 1 3.6 1-0.1 1-0.5 1-3.6 1 3.9 1 0.2 1-0.5 1-3 1 4 1-1 1-3.4 1 3.3 1 0.2 1-2.4 1 3.1 1-4.5 1 2.3 1 1.5 1-0.6 1 0.3 1 0.2 1 0.6 1-0.7 1 1.1 1-4.6 1 4.2 1-0.3 1 0 1-2.3 1 1.8 1-3.6 1 3.8 1-0.8 1 0.4 1 0.2 1-3 1-0.3 1-0.3 1 4.1 1-1.9 1 1.5 1-0.1 1 0.2 1-0.8 1-2.4 1-2.5 1-1 1 2.8 1-3.3 1-7.4 1-10.8 1-13.6 1-5.3 1 4.6 1 6.8 1 5.1 1 4 1 6.8 1 6.1 1 0.9 1 4.9 1-0.1 1-0.4 1 4.8 1-2.1 1 0.7 1-1.9 1 3.5 1 0.1 1 0.3 1-0.8 1 0.7 1 0 1-0.8 1 1.1 1 0.4 1-0.4 1 0.1 1-1.3 1-2 1 3.2 1 1.5 1-3 1 1.4 1 0.6 1-0.4 1-3.8 1 4.7 1-0.2 1-0.8 1 1.9 1-1.6 1-2.6 1 1 1 0.4 1 1.1 1-0.1 1-3.8 1 3.2 1-2.7 1 4 1-1.4 1-0.2 1 0.5 1 1.9 1-1.3 1-3.7 1 2.2 1 1.8 1-2.6 1 3.4 1-2.7 1 0.6 1 1.2 1 0.3 1 0.4 1-1 1-3.8 1 1.7 1 1 1-1.2 1 2.6 1-1.6 1 3.1 1-1.6 1 0 1-0.3 1-0 1-1.5 1 1.8 1-2.6 1 2.3 1-2.2 1 1.9 1-1.8 1 0.9 1 1.4 1-0.7 1 1.3 1-1 1-0.7 1 1 1-0.1 1-2.4 1-0.5 1-0.6 1 3.7 1-0.1 1-2.1 1-0.2 1 3.3 1-4.9 1 0.9 1 3.6 1-3.6 1 3 1-0.2 1 0.6 1-0.2 1-0.3 1-0.4 1 0.9 1-0.8 1 0.4 1-0.1 1 0.2 1-0.2 1-4.1 1 4.8 1-0.2 1-0.9 1 0.3 1 0.3 1-1.6 1 1.7 1-0.9 1-2.2 1 0.8 1 1.5 1-0.4 1-0.4 1-1.1 1 1.9 1-3.8 1 1 1-2.2 1 1.3 1-1 1 3.5 1-3 1-6.8 1-3.4 1-10.4 1-18.8 1-13 0.4-2.4 0.6 4.7 1 10.7 1 6.4 1 5.4 1 2.3 1 9 1 6.5 1 6.9 1 3.7 1 0.9 1 0.6 1-0.9 1-0.6 1 2.6 1 0.3 1-1.5 1 2.2 1-0.3 1 0.1 1 0 1 0.4 1-4.1 1 1.5 1 2.4 1 1 1-0.7 1-1.6 1 2.7 1-5 1 3.7 1 0 1-1.4 1 2.4 1-1 1 0 1-1.6 1 2.4 1-2.1 1-1.4 1 2.2 1 1 1 0.2 1 0.7 1-0.8 1-1.6 1-2.4 1 1.1 1-0.4 1 3.2 1-0.1 1 0.9 1-0.7 1 0.3 1-0.6 1-1.8 1 1.7 1 0.2 1-1.8 1-2 1 1 1 3.7 1-4.8 1 3.9 1 0.7 1-0.7 1-2.7 1 4.3 1-5.1 1 2.6 1-0.8 1 2.2 1-0.6 1 0.4 1-3.6 1 3.3 1-1.5 1 1.1 1 0.4 1-3.7 1-1.4 1-1.5 1 3.6 1-0.1 1-0.9 1 1.6 1 0.8 1-2.9 1 4.1 1-2.2 1 2.4 1-3.6 1 3.5 1 0.6 1-2.5 1 1.7 1 0.4 1-0.1 1 0.2 1-1.6 1 0.5 1-2.9 1 4.1 1-3.9 1 2.2 1 2.3 1-4.6 1 4.8 1-2.4 1 2.5 1-2 1 0.9 1 0 1 1.2 1-0.9 1-3.3 1 1.3 1 1.5 1 0.1 1 0.4 1-4 1 3.5 1-2.6 1 3.7 1 0.1 1-4.5 1 4 1-0.5 1-1.4 1-1.1 1 0.7 1 0.2 1-2.1 1 2.9 1-1.6 1 2.1 1-0.3 1-3.1 1 3.8 1 1.6 1-2.1 1-0.3 1-3 1 3.8 1 0.6 1-1.2 1-3.2 1 3.8 1-3.4 1 1.8 1-0.3 1 2.2 1-0.8 1 0.8 1-0.6 1 0.6 1-3.2 1 3 1-0.2 1 1.5 1-0.9 1-4.4 1 3.9 1 0.9 1-1.2 1 0.2 1 0.2 1-0.1 1 0.1 1-2.5 1 3 1-1.3 1-1.5 1 2.6 1-4.2 1 3.5 1 0.1 1 0.3 1-2.2 1 3 1-2.5 1-2.3 1 2.8 1-1.1 1 2.6 1-2.6 1 2.5 1-0.3 1-0.3 1-3.6 1 4 1 1 1-1.7 1-1.6 1 0.2 1 1.1 1-2.8 1 1.1 1 0.1 1 2.4 1 0.7 1-4.6 1 4.1 1-3.8 1 0.2 1 3.8 1-0.5 1-1.7 1-1.7 1 2.6 1-1.4 1-0.9 1-1.4 1-2.3 0.4 0.6 0.6 1.4 1-1.3 1 2.9 1 1.2 1 1.6 1-2.2 1 1.3 1 0.1 1 1 1-0.9 1-2.7 1 3.2 1-0.1 1 0.9 1-2 1 1.9 1 0.3 1-3.3 1 2.9 1 0.5 1-0.1 1-0.1 1 0.5 1-4.4 1 2.1 1 2.5 1-3.9 1 3.1 1-1 1 1 1-1.4 1 0.1 1-0.9 1-0.2 1 4 1-1.5 1-0.3 1 0.1 1 0.9 1-0.8 1-0.1 1 1.4 1-0.9 1-2.2 1 2.1 1-0.4 1-0.1 1-1.2 1-0.5 1-0.8 1 2.2 1-0.2 1 0.4 1-0.5 1 0.5 1-1.8 1 0.1 1 2.6 1 0.7 1-2.7 1 1.4 1 0.7 1-3.3 1-1.4 1 4.3 1-0.2 1-0.3 1-0 1-0.6 1 0.5 1-1.2 1-0.4 1-3.9 1 0.7 1-4.3 1-3.3 0.7 1.8 0.3-0.2 1 3 1 1.2 1-2.7 1 0.8 1 3.5 1 1.1 1 0.9 1-1.6 1 4.7 1-1.5 1 1.7 1-4.1 1 4.5 1-3.1 1 2.4 1-0.2 1-3.6 1 3.7 1-1.6 1 0.8 1 1.6 1-0.7 1-2.3 1 1.5 1 0.4 1 0.9 1-4.2 1 4.1 1-4.1 1 3.2 1-1.2 1 2.7 1-1.2 1 0.8 1-0.8 1-2.7 1 2 1 0.3 1-1.8 1 3.2 1-1.1 1 0.6 1-3 1 3.1 1-4.1 1 0 1 5.2 1-1.4 1 1 1-4.2 1 3.7 1-2.2 1 0.8 1 1.5 1 0.4 1-3.8 1 3.1 1-1.1 1-2.8 1 3.5 1 0.2 1 0.5 1-1.9 1 1.8 1 0.7 1-0.9 1 0.1 1 0.8 1-1.1 1-2.1 1 0.5 1-2.2 1 0.8 1 2.1 1 2.2 1-2.1 1-2.4 1 3.1 1-3.7 1 4.2 1-1.3 1-1.4 1-1.5 1 3.6 1-3.6 1 3.8 1 1.1 1-1.3 1-3.5 1 3.7 1-3.9 1 3.7 1-3.7 1 5.2 1-5.2 1 5.1 1-1.5 1 0.8 1-1.6 1 0.9 1 0.1 1-1.8 1-0.8 1 2.7 1-3.4 1 4.4 1-0.5 1 0.2 1-2.2 1-1.1 1 2.5 1 0.2 1 0.4 1-2.6 1-1.1 1 3.2 1-0.3 1 0.1 1-0.3 1-1.2 1 2.6 1-1.4 1-2.9 1 2 1-4.7 1-1.3 1 3.9 1 0.2 1-3 1 5.4 1 0.3 1 0.9 1-1 1-0.7 1-0.3 1 0.6 1 1.8 1-3.9 1 3 1 0.3 1-3.9 1 3.3 1-0.6 1-1.2 1-1.5 1 3.6 1-1.7 1 3.5 1-1 1-4.3 1-0 1 3.7 1 0.5 1 0.4 1-0.1 1-0.5 1 0.8 1-1.2 1-0 1 0.8 1 0.1 1-0.1 1-0.5 1-0.3 1-1.5 1 2.7 1-1.1 1-0.3 1-0.7 1-1.3 1 2.4 1-3.3 1-0.6 1 2.5 1-2.5 1 1.2 1 1.2 1 1.4 1-0.8 1-3 1 3.4 1 0.8 1-0.2 1-2.3 1 2.4 1-2.7 1 0.4 1 1.2 1-2.9 1 4.5 1-0.5 1-0.3 1-1.2 1 2.1 1-0.6 1-3.7 1 3.5 1-2.6 1 2.5 1 0.4 1-1.9 1-1.9 1 3.2 1 1 1-0.5 1-0.2 1-0.1 1 0.5 1-2.4 1 2.4 1-3.1 1 3.2 1-0.1 1-3.5 1 1.1 1 1.9 1 0.2 1-0.2 1-0.3 1-0.5 1-1.9 1 3.1 1-0.6 1-0.1 1 1.1 1-3.8 1-0.8 1 3.6 1 1.3 1-0.6 1-2.9 1 3.8 1-0 1-1.1 1-1.5 1-0.8 1-0.5 1 4.2 1-1.4 1 0.3 1 0.1 1-2.6 1 0.9 1 1.5 1-1 1-0 1-2.6 1 3.5 1-1.9 1 2 1-1.5 1 1 1-0.6 1 0.6 1-3.6 1 4.1 1 0.1 1-0.3 1-1.5 1-0.7 1 1.8 1 0.4 1-0.2 1 0.2 1-1.8 1 1.3 1-0.7 1 0.4 1-0 1-2.5 1 3.1 1-1.4 1-0.1 1 1.7 1-4.1 1 2.9 1 1.5 1-3.2 1 1 1-0.3 1 1.8 1 0.1 1-0.6 1 1.4 1-1.4 1 0.3 1-1.9 1 2.2 1-1.5 1 2.4 1-0.4 1-2.4 1-1.6 1 1.3 1 3.1 1-0.3 1-0.3 1-3.3 1 3.4 1-1 1-0.5 1-0.1 1 1.2 1-0.8 1-1.3 1 1.6 1 0.5 1-1.9 1-1.8 1-0 1 4.4 1-1.5 1 0.4 1 1 1-0.6 1 0.3 1 0.2 1-0.3 1-1.9 1 2.2 1-0.3 1-0.3 1 0.6 1 0.2 1 0.2 1-0.6 1-3.7 1 4.4 1-3.1 1 2.6 1-0 1-2.4 1 0.5 1-0.2 1 1.4 1-1.9 1 2.4 1-1.2 1-1.5 1 2.3 1 0.6 1-4.2 1 3.8 1 0.5 1-2.1 1-1.5 1 1.7 1 2.1 1-1 1-0.5 1-0.8 1 2.5 1-0.1 1-1.3 1 0.4 1-1 1-1.7 1 3.6 1-0.1 1-0.4 1-4 1 3.6 1-2.4 1 3.9 1-2.2 1-1.6 1-1.2 1 3.8 1-4.2 1 4.2 1-4 1-0.2 1 3.6 1 0.9 1-4.6 1 2.6 1 1.8 1-2.1 1 1.9 1-1.2 1 1.1 1 0.8 1-3.2 1 2.1 1-0.5 1-0.4 1 0.3 1 0.3 1-1.6 1-1 1 0.1 1-0.4 1-2.2 1-5.7 1-1.1 0.6 2.7 0.4-1.6 1 1.5 1 1.9 1 2.6 1-0.5 1 1.4 1-2.3 1 0.4 1 0.3 1 1 1 1.1 1 2.7 1 0.6 1-1.2 1 0.7 1-2.5 1 1.8 1-1 1-0.5 1-1.8 0.6-0 0.4-3 0.65 3" fill="none" stroke="#008080" stroke-width="2.8" stroke-linejoin="round" shape-rendering="crispEdges"/><path d="M104.2 1095.1l0.8 5.6 1-4.3 1 2.2 1-3 1 2.2 1-2.6 1 3.5 1 0.5 1-1.8 1 0.4 1 1.2 1-0 1-1.9 1-0 1 2.1 1-0.1 1 1.1 1-4.9 1 3.7 1-3.3 1 2.2 1-2.6 1-0 1 2.8 1-2.7 1 4.2 1-3.8 1 4.1 1-1.8 1-1.8 1 2 1 0.8 1 0.2 1-0.3 1-2.8 1 0.4 1 2.3 1 0.8 1-2.6 1 2.7 1-0.7 1 0.2 1-2.4 1 1.3 1-0.5 1 0.4 1 1.2 1-1.8 1-2.1 1 3.4 1-1.6 1 1.7 1-2.6 1 0.9 1-0.5 1 1.3 1-2.8 1 3.9 1-0 1 0.2 1-1.9 1 1.9 1-0 1-2.2 1-1 1 1.4 1 3.2 1-1.2 1 0.1 1 0.1 1-0.6 1-3.9 1 3.9 1 0.3 1-2.2 1 1.5 1-0.1 1 0.8 1-0.5 1-1 1 2.4 1-0.3 1-3.7 1 0.5 1 2.4 1 0.4 1-0.6 1 0.7 1-0.6 1-3.8 1 3.2 1-2.4 1 2.9 1-1 1-2.5 1 4.3 1-0.7 1-0.1 1-0.9 1-2.9 1 1.9 1 2.7 1-0.8 1 0.4 1-0 1-4.2 1 4.3 1-1.3 1 1.1 1-2.6 1 1.3 1 0.5 1 0.3 1-2.8 1 3.4 1-0.1 1 0.3 1-4.1 1 3.5 1 0.5 1-0.5 1-3.9 1 3.7 1-2.1 1 1 1 1.1 1 0.4 1-0.2 1-0.1 1 1.4 1-5.2 1 1.4 1 1.9 1 0.5 1 0.4 1-2.9 1 2.5 1-1.3 1 2.1 1-1.9 1-2.7 1 3.8 1-2.1 1 1.9 1-2.6 1 0.1 1 2.4 1 0.6 1-1.1 1 0.5 1 0.6 1-1.5 1 0.1 1 1.7 1-0.6 1-3.7 1 1.7 1 1.7 1-3.3 1 3.9 1 1.5 1-0.4 1-0.3 1-1.7 1-1.7 1 3.9 1-4.2 1 3.5 1-1.5 1-0.5 1 0.1 1 1 1-0.4 1 1.2 1-1.4 1-1.8 1 0.1 1-1.3 1 1 1 0.8 1-1.8 1 3 1 1.5 1 0.7 1-4.7 1 1.7 1-0.7 1 2.2 1-1 1-2.8 1 2.8 1 1.6 1-0.5 1-3.6 1 4 1 1.1 1-0.2 1-0.6 1-2.9 1 1.7 1 0.7 1 0.4 1-0.8 1-0 1 0.3 1-0.2 1 0.3 1-4.1 1 5.3 1-2 1 1 1-2.4 1 1.9 1-1.1 1-0.4 1 0.8 1-1.9 1 3.4 1-3.3 1 2.5 1-1.1 1-2.7 1 0.9 1-1 1 5.3 1-0.9 1-3 1 3.1 1-0.7 1-3.7 1 1.5 1 2.8 1-1.8 1-0.4 1 1.4 1 0.2 1-0.4 1 1.4 1-1.4 1 1 1-1.6 1-0.1 1 1.7 1-2.2 1 0.7 1 0.9 1-1.8 1 2 1-0.1 1-0.4 1 0.2 1-2.8 1 4.5 1-1.5 1 1.2 1-1.1 1-0.9 1 0.6 1-2.3 1 1.5 1 2.7 1-1.1 1-4.5 1-0 1 3.5 1 1.2 1-4.7 1 5.2 1-2.2 1 0.7 1-0.5 1 1.3 1-0.6 1-2.7 1 2.9 1 0.6 1-1 1-0.1 1 0.2 1 0.5 1-1.8 1 1.3 1 0.7 1-1.2 1 0.3 1-0.2 1 1.5 1-0.7 1-1.5 1-1.2 1 1.4 1 0.5 1-1.4 1-0.6 1-1.4 1 2.6 1 1.4 1-1.5 1 2.5 1-1.5 1 0.4 1-0.3 1-1.1 1 1 1 1.1 1-0.8 1 0.4 1-0.6 1-0.9 1 1.6 1-2.5 1-1.3 1 3.3 1-2 1 2.8 1-0.7 1-2.7 1 3.6 1-0.9 1 0.3 1-3.4 1-0 1 3.2 1-0.7 1 2.1 1-3.9 1 1.2 1-2.4 1 4.9 1-2.6 1 1 1 1.7 1-1.5 1-0.5 1-2.1 1 1.3 1 0.6 1-1.8 1 0.2 1-1.6 1-3.1 1-5.1 1-2.1 1-1.4 1 7.8 1-0.6 1 4.9 1-1 1 4 1 0.2 1-0.2 1-2.3 1 1.8 1-1.3 1 1.1 1-1.6 1 2 1 0.9 1-1.6 1 1 1-3.3 1 3.7 1-0.4 1 0.5 1-3 1 0.7 1 0.6 1 2.4 1 0.2 1-1.7 1-1.1 1-1.8 1 4.9 1-1.2 1 1.1 1-0.5 1-0.5 1-2.5 1 2.7 1 0.2 1-0.3 1-3.3 1-0.5 1 4.7 1-1 1 0.2 1-3.2 1 1.8 1-2.5 1 4.3 1-0.8 1 0.4 1 0.4 1-0.6 1 0.7 1-4.5 1 2.6 1 1.7 1-0.3 1-4 1 3.9 1-2 1 0.2 1-1.2 1 1.1 1 1.7 1 0.2 1 0.9 1-1.3 1-0.3 1 0.5 1-0.1 1 0.8 1-4.5 1 3.9 1 0.4 1-0.3 1-0.3 1-1.9 1 3.5 1-3 1 1.7 1-0.3 1-2.6 1 0.6 1 2.3 1-0.4 1-3.7 1 0.3 1 1.2 1 2 1-2.3 1 1.3 1 1.2 1 0.1 1-2.3 1-0.4 1-2.8 1 2.3 1-4.1 1 4 1-2.3 1 2.6 1 2.4 1 0.7 1-0.3 1 0.2 1-2.3 1 2.7 1 0.6 1-1 1-3.6 1-0 1 4.1 1-0.3 1-0.9 1 1.2 1-0.3 1-0 1 0.6 1-0.4 1-0.1 1-0.9 1 1.4 1-1.1 1 1 1-0.1 1 0.2 1-4.4 1 0.6 1-0.2 1 1.2 1 2.1 1-0.3 1-0.5 1-0.4 1-0.4 1-2.2 1 5.7 1-1.6 1-2.1 1 1.9 1-0.2 1-3.7 1 3.2 1-3.1 1 3.6 1-0.6 1 1.3 1 0.7 1-1.2 1-0.4 1 0.4 1 0.7 1-2.6 1 1.4 1 0.2 1 0.6 1-4.2 1 0.1 1 2.8 1 0.9 1-0.7 1-3 1-0 1 3.6 1 0.3 1 1 1-4.9 1 4.4 1-2.9 1 0.9 1-2.1 1 3.8 1 0.6 1-1.6 1-0.6 1-1.8 1 3.9 1-0.9 1-0.2 1 0.7 1-0.9 1-2.2 1 1.7 1 0.7 1-2.7 1-2.8 1-2 1-4.6 1-0 0.4-2.6 0.6 0.3 1 4.6 1 3.3 1 3.4 1-1.9 1 4 1 0.9 1-0.9 1 0.3 1-1.2 1 2.3 1-0.1 1-1.4 1-2.6 1 2.5 1 2.1 1-1.4 1 1 1 0.8 1-0.8 1-0.1 1-1.5 1-2.1 1 0.4 1 0.8 1 2.3 1-0.7 1 0.4 1-3.4 1 3.8 1-0 1-4 1 2.1 1 1.8 1-0.8 1-0 1-0.1 1-1.4 1 1.1 1 0.9 1 0.3 1 0.9 1-0.9 1-3.2 1 2.2 1 1.1 1-0.3 1 0.4 1-1.3 1-2.9 1-0 1 0.7 1 1.1 1 2 1 0.7 1-0.9 1 0.4 1-2.3 1 1.6 1 0.8 1-1.5 1-2.5 1 4.2 1-3.4 1 1.3 1 1.5 1 0.5 1-0.6 1-0.5 1-1.3 1 0.2 1 0.9 1 1.3 1-1.3 1 1.1 1 0.4 1-2.9 1 2.6 1 0.4 1-1.1 1 1.6 1-1.4 1-1.1 1 1.3 1-0.9 1-3 1 0.2 1 1.1 1 0.8 1 1.8 1-0.3 1 0.1 1-0.4 1-0.3 1 0.9 1-4.3 1 4.2 1-1.7 1-1.7 1 2.3 1 0.3 1-0.9 1-3.8 1 1.6 1 1.1 1-2.7 1-0.4 1-2.8 1-10.3 1-16.4 1-19 1-8.9 0.2 0.7 0.8 0.5 1 16.1 1 14.1 1 11.7 1 9.5 1 4.7 1 2.4 1 0.9 1 0.3 1 0.8 1-0.9 1 2.6 1-0.5 1-0.6 1 0.6 1-0 1 0.5 1-2.3 1-2 1 4.4 1-3.5 1 3.8 1-1.3 1 1.8 1-2.6 1 1.1 1-0.3 1-2.6 1 1.5 1 1.4 1 0.5 1-0.8 1 0.4 1-0.4 1-4.2 1 0.7 1-0.2 1-3.5 1-1.1 1-3.3 1 1.4 1-0.6 1-2.1 1-1.1 0.5-0.6 0.5 2.2 1 2.9 1 3.1 1-0.5 1 2.1 1 5.1 1-0.8 1-2.6 1 3.4 1-0.5 1 1 1 0.5 1-1 1 0.5 1-0.1 1 1 1-0.2 1-0.7 1 0.3 1-1.5 1 1.9 1-2.3 1 0.4 1 1.1 1-1.2 1 1.4 1-0 1-0.1 1 0.9 1-0.9 1-1.7 1 2.8 1-2.5 1 1.8 1-0.3 1-0.3 1-0.3 1-2.6 1 3 1-3.9 1 3.7 1-0.9 1-0.5 1 1.8 1 0.3 1-0.8 1-1.4 1-0.5 1 2.1 1-4 1 3.6 1 0.2 1-3.2 1-0.5 1 2.9 1-3.7 1 0.6 1-4.3 1-7.2 0.8-0.5 0.2 1.4 1 1.6 1 4.6 1 1.5 1 1.7 1 2.9 1-1.1 1-1.4 1-0.3 1-2 1-0.1 0.7 0.2 0.3-0.9 1 2.5 1 0.6 1-2 1-0 1 2.9 1 2.9 1-5.1 1 1.6 1 1.1 1-2.6 1-0.3 1 1.2 1-1.4 1-5.6 1 1 1-9.4 1-12.4 1-28.3 1-46.5 1-55.8 1-31.3 0.1 1.2 0.9 16.2 1 33.5 1 45.8 1 39.6 1 24.6 1 14.9 1 6.2 1-0.3 1 4.3 1 3 1 1.4 1 1.6 1-0.3 1 0.6 1-0.3 1-0 1 0.4 1 1.4 1-5 1 2 1 0.1 1-1.7 1-5.3 1-7.7 1-3.5 0.5 1.7 0.5 0.6 1 4 1 2.2 1 3.1 1 2.2 1 4.5 1-0.6 1 3 1-1.8 1 1.2 1-0.2 1-0.4 1-5.7 1 2.1 1-5.2 1 1.1 0.1-2.1 0.9 2.5 1-0.6 1 4.1 1 2.5 1 1.2 1 1.9 1-1.2 1-1.5 1 1.7 1 0.9 1-2.7 1 4 1-2.1 1 1.4 1 0.5 1-1.6 1 2.1 1-0.7 1-0.9 1 1.7 1-0.6 1-1.5 1-1 1 3 1-2.8 1 2.4 1-0.5 1 0.7 1-2.3 1 2.4 1-1.2 1-0.2 1-0.9 1 2.5 1-2.6 1 1.8 1-3.4 1 3.6 1 0.1 1-0.4 1-0 1-0.3 1 0.5 1 0.1 1-1.3 1-2.1 1-3.4 1-0.6 1-0.5 0.2-0.6 0.8 0.1 1-2.3 1 2.1 1 4.3 1 2.8 1-0 1 0.7 1-1.2 1-2.1 1 3.8 1 1.4 1-1.3 1 1.2 1-3.2 1-0.6 1 1.9 1 1.9 1-1 1-3 1 3.6 1-0.2 1-1 1-0.6 1 1 1-0.6 1 0.3 1 0.9 1-0.3 1-0.7 1 1.4 1-1.2 1 0.2 1-0.9 1 0.3 1 1.6 1 0.2 1-1.5 1 0.7 1-0.3 1 0.6 1 0.5 1-1.5 1 0.7 1-1.6 1-1.1 1-0 1 0.2 1 3.1 1 0.9 1-1.1 1 0.4 1 0.1 1-2.6 1 2.8 1-3.4 1-0.4 1-1 1 1.1 1-1.1 1 4.1 1-0 1-2.9 1 3.3 1-3.6 1 2.9 1 1.2 1-5 1 4.4 1-4.4 1 4.6 1-0.4 1-1.1 1 0.5 1 1.1 1-1.4 1-0.1 1-0.7 1 2.3 1-0.7 1-0.4 1-2 1 1.5 1 0.6 1-0 1-3.8 1 4 1-1.3 1 2.2 1-5.2 1 2.4 1 2.4 1-2.8 1-2 1 1.2 1 1.7 1-2.2 1 2.1 1-1 1-1.2 1-3.2 1-4.4 1-12.3 1-5 0.7-1.6 0.3-0.3 1 3.1 1 5.6 1 3 1 8.6 1 4.5 1 0.7 1-0.6 1 4.4 1 0.8 1-0.4 1-0.3 1 0.8 1-1 1 1.1 1-2.7 1 3 1-0.1 1-0.8 1-1.4 1-0.6 1 2.7 1-0.5 1-1.2 1-2.1 1 4.1 1 0.2 1-2 1 1.4 1-3.4 1 3.1 1-0.6 1 1.3 1-1.2 1-2.3 1 3.1 1 0.7 1-3 1 2.3 1-0.3 1 0.6 1-2.7 1 2.8 1-0.2 1-0.4 1 0.1 1 1.5 1-2.7 1 1.9 1-1.5 1 1 1-0.3 1 0.5 1 0.2 1-1.1 1-0.1 1-2 1 1.2 1 1.7 1-3.2 1-0.9 1 2 1 1.8 1 0.6 1-0.9 1 1.1 1-2.9 1 2.1 1 0.2 1-1 1 1.5 1 0.4 1-0.9 1-3.2 1 3.5 1-2.6 1 3.3 1-1.2 1-1.2 1-2.5 1 4.9 1-1.2 1 0.6 1-1.3 1 1.1 1-0.6 1 0.7 1-0.1 1-1.3 1-2.6 1 3.1 1 0.2 1 0.6 1-4 1 5.1 1-0 1-0.9 1-1.6 1-1.2 1 0.9 1-0.4 1 1.5 1 0.6 1 0.4 1-1.8 1 1.7 1-1.7 1-0.7 1 2.1 1-0.1 1 0.1 1-2 1 1.2 1 0.9 1-1.1 1-2.9 1 2.9 1 0.4 1 0.5 1 0.4 1-0.7 1-0.1 1 0.3 1-3 1 3 1-0.1 1-0.6 1-0.8 1 2.5 1-1.8 1-2.4 1 3.8 1-1.7 1 1.2 1 0.3 1-1.2 1 0.6 1 1.4 1-1.1 1-2.3 1 2.3 1 0.1 1-0.3 1-0 1-2 1 2.3 1 0.2 1-1.9 1-1.3 1 0.6 1-0.4 1 2.3 1 0.3 1-0.9 1-1.2 1 0.3 1-1.9 1-2 1 2.3 1-3.2 1 2.7 1 3.3 1 0.4 1-0.1 1-2 1 0.7 1 1.5 1-0.7 1-1.4 1 0.6 1 2.4 1-0.4 1-0.1 1 0.6 1-3.2 1 2.4 1-0 1 0.2 1-1.3 1-0.6 1-0.2 1-1.4 1 3.6 1-4.2 1-0.1 1 4 1-0.1 1-1.7 1-1.5 1 3.2 1 0.4 1-4.2 1 3.9 1 1.6 1-3.2 1-1.1 1-1.2 1-0 1-0 1 4 1 0.3 1 0.4 1-4.7 1 3.9 1 0.9 1 0.3 1-1.8 1 0.5 1-1 1 1.4 1-0.1 1-1.7 1 1.3 1-1.5 1 1.4 1 0.1 1-1 1 1 1-0.6 1-0.6 1 1.4 1-0.3 1-0.3 1-1.3 1 1 1-0 1-0.5 1 1.3 1-1.1 1 1.4 1 0.8 1-2.3 1 2.4 1-1.3 1-3.8 1 1.9 1 2.5 1-2.5 1 1.1 1 1.2 1-0.6 1 0.4 1-0.2 1-1.1 1 1.9 1-3.2 1-1.6 1 3.7 1 0.5 1-0.4 1-3.3 1 3.3 1-1.6 1-2.6 1 4 1-0.9 1 0.4 1-0.6 1-1.4 1-1 1-5.2 1-4.8 1-7.6 0.6-0 0.4 1.2 1 0.6 1 6.5 1 0.2 1 4.6 1-0.8 1 6.2 1-1.5 1 3.5 1-0.8 1 1.6 1-0.1 1 0.2 1-1.7 1-0.1 1-0.5 1 0.8 1 1.3 1-1.9 1-1.8 1 3.8 1 0.3 1-2 1-2 1 3.6 1 0.2 1 0.5 1-0.3 1 0.2 1 0.1 1-3.4 1-0.5 1 2.8 1-0 1-1.7 1 1.8 1-0.2 1-1.2 1 1.6 1-3.2 1-0.3 1 3.3 1-0.6 1 1.4 1-0.3 1-0.7 1-0.8 1 1.3 1 0.7 1-2 1 1.6 1-1.6 1 1.4 1-0.1 1-0.2 1 1.6 1-4.7 1 3.8 1-1.7 1-0.5 1 2 1 0.5 1-2.6 1 2.3 1-0.7 1-1.3 1 1.6 1 0.8 1-0.8 1-1.8 1 1.9 1-2.9 1 3.3 1-0.5 1 0.5 1-0.7 1-4.3 1 1.8 1 1.6 1-0 1-3.6 1 2.6 1 0.1 1-5.1 1 3.2 1-4.1 1-6.5 1-11.6 1-18.2 1-16.4 0.7-2.5 0.3-2.5 1 12.9 1 12 1 4.5 1 5.6 1 10.5 1 5.8 1 5.2 1 3.1 1 3.3 1 0.2 1-2.4 1 2.3 1 1.4 1 0.6 1-0.3 1-3 1 3.1 1-3.4 1 0.1 1 1.9 1 3 1-0.9 1-3.3 1 3.5 1 0.2 1-0.5 1-3.5 1 4 1 1 1-2.1 1-0.2 1-0.8 1 1.6 1-0.7 1 1.2 1-2.6 1 2.3 1-1.2 1 1.8 1-3.9 1 2.7 1 1 1-0.4 1 0.9 1-0.4 1-2.4 1 0.5 1-0.5 1 0.3 1 2 1-0.5 1-3.4 1 3.7 1 1 1-1.1 1 0.3 1-0.2 1-0.1 1 0.7 1-1.6 1 1.1 1-1.5 1 1.9 1 0.2 1-0.4 1-3.9 1 4.9 1-3.9 1 2.6 1-2.8 1 3 1-1.1 1-0 1-2.8 1 3.7 1-0.5 1 1 1-1.2 1 1.1 1-0.4 1-0.9 1-0.4 1 1.9 1-0 1-3.3 1 3 1-0.7 1 0.5 1 1 1-1.1 1-0 1-3.7 1 5 1-1 1-1.7 1 1.8 1 1.1 1-3 1 1.1 1 0.9 1 0.1 1-0.2 1-0.8 1 0.5 1 0.3 1-1.2 1-1.7 1 2.9 1-4.1 1 3.6 1-1.3 1 0.4 1-0.2 1 0.6 1 2.1 1-1 1-2.7 1 2.7 1-0.9 1 1.1 1-0.7 1-4 1 3 1 1 1-0.2 1 0.7 1-2.3 1 1 1-1.9 1-0.3 1 1.6 1 0.1 1-0.3 1-1.1 1-1.3 1-4.7 1 0.5 1-8.4 1-11.4 1-19.3 1-18.2 0.4-1.3 0.6 5 1 14 1 7.1 1 5.2 1 3.1 1 9.1 1 4.5 1 6.2 1 6 1-1.1 1 3.5 1 1.6 1-1.3 1-2.4 1 3.4 1-4.6 1-0.8 0.8-1.1 0.2 2.5 1-0.7 1 5 1-0 1-1.6 1 1.7 1 1 1 1.7 1-0.7 1 1.3 1-1 1-0.9 1 1.1 1-1.4 1 1.2 1-2.1 1 2.4 1 0.9 1-0.2 1-0.4 1-0.5 1-0.2 1 0.8 1-0.8 1 0.7 1-1.9 1 2.5 1-3.8 1 2.1 1 1 1 0.5 1-2.1 1 1.8 1-2 1-2 1 3.1 1-0.2 1-0.8 1 1.8 1-4 1 3.7 1-1.9 1 0.8 1 1.3 1-3.8 1 2.3 1 1.6 1-0.1 1 0.9 1-0.6 1-3 1-0.1 1 3 1-2.5 1-0.8 1 0.5 1-1.2 1 4.6 1-2.1 1 1.5 1-2.6 1 2.5 1-1.1 1-1.8 1 3.5 1-0.7 1 0.1 1-0.7 1 1.3 1-3.2 1-1.4 1 3.7 1-1.6 1 3.3 1-1 1-2.6 1 0.9 1-0.9 1-1.6 1 2.9 1 0.5 1 0.2 1-0.7 1 1.9 1-5.1 1 5.1 1-0.4 1-1.4 1-2 1 0.9 1-2.3 1 4 1 0.1 1-1.8 1 2.2 1-1.4 1-0.7 1 0.5 1 2.2 1-1.3 1 1.4 1-3.6 1 2.4 1-2.7 1-0.7 1 4.1 1-3.1 1 1.2 1-2.6 1 4.4 1-0 1-0.3 1 0.8 1-1.7 1 0.9 1-1 1-0.4 1-1.2 1 2.9 1-2.7 1-0 1 2.4 1-0.3 1 0.5 1-4.1 1-0.6 1 3.2 1-1.3 1-2.1 1-1.9 1 1.2 1-3.2 1 5.4 1-1.5 1 2.7 1 0.1 1 1.5 1 0.8 1-0.8 1-1.4 1 1.7 1 0.7 1-1 1-0.1 1 0.8 1-0.6 1-1 1 0.4 1-1.7 1-0.6 1 2.8 1 0.6 1 0.7 1-3.6 1 1.5 1-1.6 1 3 1-0.8 1 0.7 1 0.1 1 0.4 1-0.9 1-1.3 1-0.7 1 1.3 1 0.7 1-3.9 1-0 1 1.2 1 2.1 1-2.7 1 3.4 1 0.4 1-2.4 1 1.1 1-2.1 1 3 1-1.2 1 1.4 1-0.5 1-1.3 1 1 1 0.7 1 0.3 1-0.7 1 0.3 1 0.3 1-1.2 1 0.8 1-3.8 1-0.9 1 0.6 1-1.7 1 3.5 1-0.8 1-2 0.4 1.1 0.6-1.3 1-0.8 1 1.4 1 0.5 1 3 1 0.3 1-0.3 1 0.6 1-2.1 1 2.5 1-0.2 1 0.5 1-2.7 1 2 1-0 1 0.7 1 0.9 1-1 1 1.3 1-1.5 1 0.8 1-3.9 1 3.5 1-0.4 1 0.3 1 0.5 1 0.3 1 0.7 1-1.3 1 1 1-4.1 1 3.6 1-0.5 1-0.4 1 0.1 1-2.8 1 2.7 1 0.3 1-0.2 1-3.7 1 1.8 1 3.2 1-1.3 1 0.6 1-0.7 1-1.5 1 1.4 1-1.3 1-2.2 1 4.8 1-1.3 1-0.1 1-1 1 0.8 1-2 1 2.2 1-1.1 1 2.1 1-1.5 1 1.3 1-2.3 1-2.3 1 3.7 1-1.1 1-0.8 1-1.6 1 1.4 1-1.1 1 3.2 1-0.4 1 0.8 1-4.9 1 4 1-4 1-0.2 1-3.2 1-2.6 0.8-2.1 0.2-0.1 1 1.7 1 4.3 1 0.7 1 1.1 1-4.1 1 4.2 1-2.3 1 5.2 1 1.2 1-0.5 1 0.8 1-2.6 1-0.3 1 3.5 1 0.1 1 0.1 1-1.8 1-1.2 1 0.7 1 1.7 1-0.5 1-1.9 1-2.1 1 2.1 1-3.8 1 2.7 1-0.3 1-1.4 1 4.3 1 1.3 1-0 1-0.5 1 0.8 1-0.6 1-3.4 1 3.7 1-3.5 1 1.1 1 2.9 1-3.1 1 0.2 1-0.3 1 1.9 1-0.2 1 1.2 1 0.2 1-0.6 1-1.7 1 2.2 1-4 1 3.9 1-1.2 1 1.9 1-4.5 1 1.6 1-1.3 1 4.1 1-4.4 1 2.2 1 1.8 1-0.2 1 0.8 1-1 1-2.4 1 2.9 1-1.7 1 1.9 1 1.1 1-1.8 1-3.7 1 0.5 1 3.5 1-3.7 1 0.6 1 1.6 1 1.3 1-2.7 1 2.5 1 0.2 1-2.9 1 3.1 1-2.2 1-1.8 1 4 1-1 1-0.9 1 2.7 1-1 1 0.1 1-0 1 0.2 1-3.7 1 3.8 1-0.5 1-1.5 1-2.1 1 4.7 1-0.2 1-0.2 1-0.6 1-2.4 1 2.4 1-0.5 1-3.2 1 3.8 1-0.6 1-3.2 1 1.7 1 2.4 1-0 1-3.2 1 3.6 1-0.2 1-2.6 1-1.3 1-0.3 1 4.3 1-2 1 3.3 1-1.5 1-4.2 1-0 1 1.8 1 2.5 1 0.2 1-3.6 1 2.8 1 0.5 1-2.4 1 0.1 1 2.3 1-0.2 1-3.9 1 4.3 1-3.3 1 3 1 0.1 1 0.2 1-0.7 1-0.2 1-1.8 1 2.4 1-1.6 1 1.5 1 0.1 1-2.2 1 0.5 1 2.3 1-1.6 1 1.7 1-0.5 1-4.4 1 0.3 1 3.4 1-1.7 1-1.6 1-0.4 1-0.1 1 4.2 1-0.5 1-0.4 1 2.1 1-1.2 1-1.5 1 1.1 1 0.3 1 0.4 1-0.4 1-0.4 1 0.3 1-3 1 0.8 1 2.9 1-3.2 1 2.2 1-1.7 1 2.3 1-2.6 1 2.6 1-2.9 1 2.4 1 0.2 1 0.8 1 0.2 1-3.2 1 2.9 1-0 1-1.8 1 0.9 1-1.3 1 2.3 1 0.6 1-0.9 1-3.1 1 2.4 1-1.1 1-0.2 1 0.9 1-0 1 0.5 1-0.6 1-0.3 1 1.2 1-1.8 1 1.4 1 0.1 1-0 1-2.3 1 2.2 1-2.9 1 3.5 1-2 1 2.4 1-1.2 1 0.5 1-0 1 0.4 1-0.7 1-1.3 1 2.6 1-1.2 1-0.6 1-1 1 0.6 1 1.7 1-3.2 1 3 1-1.8 1 0.8 1 0.8 1 0.3 1-0.5 1-3.6 1 1.9 1 1.9 1-2.1 1-1.9 1-0 1 4.8 1-2.9 1-0.3 1 2.6 1 0.8 1-4.4 1 3.4 1 0.8 1-0.4 1-2.5 1-1.8 1 1.3 1 2.9 1-3.7 1 4.4 1-3.8 1 0.2 1-1.4 1 1.3 1-0.4 1 2.5 1 0.5 1-0.3 1-3.5 1 4 1-0.4 1 0.3 1-2 1 0.4 1-2.4 1-0 1 0.9 1 0.6 1 2.3 1 0.9 1-1.5 1 0.3 1 1 1-1.3 1-1.8 1 3 1-2.8 1 1.2 1 1.4 1-0.7 1-1.6 1 2 1-0.1 1-3.3 1 1.8 1 0.1 1 1.7 1-2.1 1-1.7 1 4.2 1 0.5 1-0.6 1-0.5 1 0.6 1 0.5 1-4.9 1 3.9 1 0.3 1 1.4 1-4.3 1 3.4 1-4.4 1 1.8 1 0.8 1 0.8 1-2.5 1 2.7 1-1.3 1 1.3 1-0.1 1-3.9 1 0.9 1 3.4 1-0.1 1-0.8 1 0.3 1-1.3 1 1.5 1 0.5 1-2.8 1 2.2 1-1.8 1 2.3 1-4.2 1 2.9 1-0 1-0.3 1 2.1 1-2.8 1 2.1 1 0.4 1-1.8 1-2.6 1 4.1 1-4.1 1 5.2 1-2.4 1 1.2 1-1 1-3 1 1.9 1 2.8 1-4.7 1 4.3 1-0.4 1 0.3 1-1 1 0.4 1-3.7 1 2.7 1-0.8 1 1.8 1-2.9 1 3.6 1 0.2 1-3.3 1 0.4 1 1.7 1-3.4 1 4.2 1-4.2 1-0.1 1 4.5 1-2.4 1-0.5 1 2 1-0 1-0.1 1 0.6 1 0.4 1-3 1 1.4 1 0.4 1-1.2 1 1.9 1-0.1 1-2.5 1 1.9 1-1.2 1-1.4 1-0.9 1 4.2 1-0.3 1 0.6 1-0.6 1-2 1 1.5 1-4.2 1 3.2 1-0.4 1-3.4 1-8.3 1 0.3 0.5-1.3 0.5 1.2 1 4 1 0.1 1 5.9 1 0.8 1-1.8 1-1.5 1-1.7 1 2.4 1-0.9 1 4.5 1-0.6 1 0.2 1-1.1 1 3.5 1-0.6 1 1.8 1-1.3 1 0.3 0.65-0.2" fill="none" stroke="#0000ff" stroke-width="2.8" stroke-linejoin="round" shape-rendering="crispEdges"/><path d="M104.2 1282.6l0.8 2.4 1 0.5 1 0.8 1-1.7 1-3.2 1 2.9 1-1.2 1-1.2 1 3.1 1-4.2 1 4.2 1-1.6 1-2.7 1 3.7 1-0.3 1 0.6 1-1.1 1 2.3 1-1 1-4.1 1 3.1 1 0.7 1-1 1-0.1 1 0.6 1-1 1 2.6 1-2.6 1 1.9 1-2.4 1 1.9 1 0.7 1-0.7 1 0.7 1-3.2 1 2.5 1-2.1 1 2.9 1-4.4 1 3.8 1-3.5 1 1.2 1 2.8 1-1.6 1 1.2 1-1.4 1-2.5 1 1.8 1-0.9 1 3.4 1-1.4 1-0.4 1-1.7 1 3 1-1.8 1 0.3 1 2.2 1-0.3 1-1.8 1 1.9 1 0.1 1-3.1 1 1.5 1 0.8 1-0.4 1 0.6 1 0.1 1-0.1 1-1.2 1-2.2 1 3.5 1-0.3 1 0.1 1 0.8 1-1.5 1-1.5 1 2.7 1-2.7 1 2.5 1-3.2 1-0.2 1 3.2 1 1.2 1-1.2 1 0.7 1 0 1-0.8 1-3.4 1 3.3 1 0.1 1 1.1 1-0.8 1 0.5 1-2.3 1 1.7 1-0.4 1 0 1 0.1 1-2.4 1 1.1 1 1.4 1-0.6 1-0.9 1-2 1 3 1-3.1 1 3.9 1-0.3 1 0.8 1-3 1 2.7 1 0 1-2.8 1 2.5 1 0.1 1-2.8 1 2.4 1-2.4 1 2.5 1-2 1-0.8 1 2.3 1-3.3 1 3.9 1-0.2 1-0.3 1-2.2 1 2.6 1 0 1-0.9 1-2.4 1 3.3 1 0.6 1-0.8 1-1.6 1 1.9 1-0.6 1 1.6 1-1.4 1-0.1 1-1.2 1 0.7 1-1.1 1 2.6 1-2.3 1 2.8 1-0.8 1-3.1 1 0.6 1 3.3 1-2.7 1 1.7 1 0.2 1-1 1 0.2 1-3.1 1 4.4 1-0.7 1-0.2 1 1.2 1-4.1 1-0.9 1 4 1-1.4 1 1.1 1-0.8 1 1.1 1-2.5 1 2.8 1-4.1 1 2.4 1-2.7 1 4.8 1-1.2 1 0.9 1-0.8 1-1.1 1 1.7 1 0.3 1 0.2 1-1.7 1-2.6 1 0.3 1 2.7 1 0.8 1-0.5 1 0.9 1 0 1-3.7 1 2.8 1-1 1 1 1-3.4 1-0.3 1 4.1 1-0.3 1 0.2 1-3.6 1 0.2 1 3.2 1-3.8 1 3.5 1 0.9 1 0.7 1-1.4 1-0.9 1 1.2 1-1.3 1-2 1 2.9 1-2 1-1.6 1 2.5 1 1.6 1-1.4 1-0.3 1-2.3 1 3.9 1 0.8 1-1.9 1 0 1 1 1-1.7 1 0.7 1-2.2 1 3.5 1-0.1 1-0.5 1 0.3 1-3.3 1 1.7 1 1.3 1-3.6 1 2.4 1-1.2 1 0.5 1 2.1 1-0.1 1-0.1 1 0.8 1-0.5 1-2.3 1 1.3 1 1.4 1-4.2 1 4.3 1-2.2 1-0.2 1-1.3 1 3.6 1-0.6 1 0.2 1-2.9 1 1.8 1-0.1 1-0.3 1-2.2 1 1.9 1-0.5 1 2.8 1-2.4 1 2.6 1-3.2 1 1.9 1 1.1 1 0.2 1-0.8 1-0.4 1 0.7 1-0.1 1-0.1 1 0.2 1-0.3 1-0.9 1-2.4 1 1.5 1 2.1 1-4 1 0.6 1 3.1 1-2.8 1 3 1 0.1 1 0 1-4 1 3 1-0.4 1 0.5 1 0.7 1-1.7 1-0.5 1-1.7 1 4.1 1-4.1 1 1.7 1 3.1 1-3.8 1-0.9 1 0.6 1 2 1 0.2 1 2.1 1-2.5 1 0.4 1 1.3 1-1.4 1 1.2 1-4 1 4.4 1-0.3 1 0.9 1-1.2 1-0.8 1 0.3 1 0.7 1-2.7 1 1.6 1-2.3 1 3 1 1.2 1-1.2 1 0.7 1-2.9 1 2.5 1-0.2 1-0.3 1 1.2 1-0.8 1-2.5 1 2.5 1-0.3 1-0.7 1 0.8 1-0.6 1-1.8 1 0.5 1-1.9 1-1.5 1-1.1 1-0.6 1-3.8 1 1.9 1 5.2 1-1 1 0.6 1 0.8 1 2.9 1 0.9 1 0 1-0.7 1-3.4 1-0.2 1 3.7 1 0.1 1-3.1 1-0.6 1 4.2 1-1.8 1 0.8 1 0.6 1 0 1 0 1-0.2 1 1.1 1-1.1 1-1.8 1 0 1 0 1 1.1 1 0.3 1-3.1 1 3.8 1-0.6 1-2.6 1 2.9 1 1.1 1-0.5 1-0.1 1-0.2 1 0.2 1-2.7 1 0.6 1 0.5 1 1.5 1-2.8 1 0.1 1-1.2 1 4.1 1-0.4 1-3.5 1 4.1 1-1.4 1 0.1 1 0.4 1 0.9 1-0.9 1 1.3 1-4 1 3.3 1-0.8 1 0.3 1-0.4 1 0.1 1-0.7 1 1.3 1-0.3 1 1 1-0.1 1-0.1 1 0.1 1 0.2 1-0.5 1-2 1 0.6 1 1.3 1-1.1 1-0.1 1-2.7 1 4.7 1-1.8 1 1.6 1-4 1 3.2 1-1.2 1 0.5 1-1.1 1 3.7 1-1.2 1-1.1 1 1.2 1-2.3 1-1.7 1 4 1-0.6 1-1.9 1-2 1 1.1 1 0.7 1 2.4 1-0.8 1-0.2 1 0.8 1-1.5 1 1.3 1 0.1 1-3.9 1 3.7 1-3.7 1 3.9 1-0.2 1 0.8 1-0.5 1-4 1 3.5 1 1.5 1-4.8 1 4.1 1-0.4 1-0.2 1 1.3 1-4.9 1 0.5 1 3.3 1-1.1 1 1.1 1 0.2 1-0.3 1 0.9 1-0.7 1 0.1 1-4 1 4.6 1-4.1 1 1.3 1 1.4 1 0.8 1-4 1 0.1 1 3.5 1 0.1 1-0.6 1-3.1 1 4.2 1-0.9 1-2.5 1 3.7 1-1 1-2.7 1 3 1-0.3 1 1.1 1-2.1 1 1.8 1-0.6 1-1 1 1.1 1-2.4 1 0.3 1 0.6 1-1.3 1 2.5 1 1.4 1-3.6 1 0.2 1 2.2 1 0.3 1-3.4 1 3.1 1-0.1 1 0.1 1-3.9 1 4.1 1 1.3 1-1.8 1 0.6 1 0.6 1-1.5 1 0.5 1-2.4 1 2 1-3 1 0.2 1 1.6 1-2.5 1-3.5 1 0.2 1 0.2 1-2.8 0.5-0.4 0.5-2.3 1 4.3 1-0.4 1 4.6 1 1.4 1 1.1 1 0.4 1 0.4 1-0.6 1 1.3 1 0.3 1-0.6 1-0.2 1 0.5 1-1 1 0.2 1-3.1 1 4.7 1-4.7 1 5.4 1-0.4 1-1.6 1 1.1 1-0.4 1 0 1 0.7 1 0.1 1-0.7 1-0.8 1-0.6 1 1 1 0.3 1-2.7 1 4.1 1-1.6 1-2.6 1-0.8 1 1 1-0.4 1 0.8 1 2 1 1.6 1-1.2 1-0.2 1-3.6 1 3.7 1 0 1-1.6 1 2 1-0.7 1-1 1 1.2 1-0.2 1 1.3 1-0.4 1-0.7 1-2.6 1 2.9 1 0.2 1-0.1 1-1.8 1 2.2 1-1.1 1 0.4 1-0.3 1 0.5 1-0.5 1-2.9 1 3.1 1 0.2 1 1.4 1-2.7 1 1.4 1-1.1 1 0.5 1 0.7 1-0.2 1 0.5 1-4.7 1 1.8 1 0.2 1-0.9 1-0.5 1 1.3 1-0.4 1-1.5 1 4.9 1-1.5 1 0.7 1-0.5 1 1.8 1-1 1-2.6 1 2.6 1-2.1 1 1.7 1-0.6 1 0.9 1-0.7 1 0.5 1-2.4 1 2.2 1-2.3 1 0.7 1-0.8 1-4.3 1 1.9 1-2.9 1-7.3 1-13.5 1-14.2 1-15.3 0.3 2.5 0.7 3.7 1 11.1 1 13.5 1 9.9 1 5.8 1 5.9 1 2.4 1 0.5 1 2.1 1-3.8 1 0.9 1 2.3 1-1.6 1 2.5 1-4.1 1 3.7 1 0.3 1-3.8 1 4.2 1-2 1 1.9 1-0.2 1-0.1 1 0.2 1-3.9 1 0.3 1 3.5 1-3.8 1 3 1 0.3 1-1.4 1 2.1 1-4.1 1 4 1 0.2 1-3.9 1 3.5 1-0.7 1 0.4 1-0.9 1-1.4 1 1.4 1-4 1-4.7 1-15.3 1-15.4 0.8-3.8 0.2 0.2 1 6.1 1 10.2 1 14.7 1 7 1 2.8 1 2.2 1-0.1 1-0.2 1 1.3 1-1.6 1-2.2 1 3.4 1-0.8 1 1.2 1 0.1 1 0.4 1 0.4 1-2.2 1-1.2 1 2.7 1-0.3 1 1.3 1-0.8 1-0.9 1 0.8 1-0.2 1 0.8 1 0.2 1-0.8 1-3.7 1 3.8 1 0.8 1-0.6 1-0.3 1-3 1 0.3 1 3.1 1 0.1 1-0.6 1-0.2 1 0.7 1-3 1 2.6 1-1 1 0.7 1-1.4 1 1.2 1-0.7 1-2.5 1 2.3 1-3.1 1 3.9 1-1.4 1-0.7 1-2.2 1-4.7 1-7.1 0.6 2.4 0.4-1.6 1 5.5 1 0.8 1 4 1 0.6 1-1.1 1 2.4 1-4.4 1-1.7 1-9.7 1-9.5 0.5-2.2 0.5 1.4 1 7.1 1 5.2 1 7.1 1 0.3 1 7.5 1-1.1 1-1.5 1-2.1 1 0.6 1 2.4 1-3.9 1 2.3 1-1.4 1-2 1-3.8 1-11.3 1-11.6 1-30.6 1-48.7 1-41.2 0.6-9.4 0.4 5 1 22.4 1 35.7 1 37.2 1 27.5 1 15.8 1 8.4 1 4.5 1-1.4 1 4.2 1 2 1 1.4 1-0.3 1 1.4 1-0.3 1 0.3 1-0.1 1-0.9 1 1.7 1-5.3 1 1.6 1-0.6 1-3.4 1-11 1-17.6 1-28.1 0.7-3.6 0.3 1.8 1 12.8 1 12.3 1 13.8 1 15.3 1 3.1 1 3.8 1 3 1-2.2 1 4.1 1 0.1 1-2.8 1-2.6 1-3.3 1-2.8 0.6 0.5 0.4-1.6 1 3 1 0.8 1 4.4 1 3.2 1-0.4 1 0.2 1 0.5 1 2.1 1 0.4 1-2.1 1 1.6 1 0.1 1-1.9 1-0.1 1 1.4 1 1 1-3.3 1 3.9 1-0.7 1-0.4 1 1.4 1-0.5 1-2.2 1 1.8 1 0.7 1-4.2 1 3.4 1 0.1 1-3.7 1 4.8 1-0.6 1 0.2 1-3.4 1 3.3 1-4.3 1 3 1 0.4 1-1.7 1 2.1 1 0.5 1-0.3 1-0.5 1 0.6 1-1 1 0.1 1-1 1-1.1 1-4.7 1-1.1 0.4-0.1 0.6 4 1 1.3 1-1.7 1 0.2 1 1.6 1 3 1-1 1 1 1-2.5 1 0.3 1 1.7 1 0.8 1-3.8 1 3.1 1-1.5 1 0.6 1-0.6 1-0.9 1 3.1 1 0.1 1-1.8 1 3.6 1-2 1 0.3 1-2.2 1 0.9 1 1 1 0.7 1-0.7 1 0.1 1-0.5 1-0.3 1 1.1 1-1.9 1 1.7 1-1.4 1 0.4 1-2.3 1 3 1-3.5 1 3.8 1 0.4 1-2.2 1 2.4 1-1.8 1 0 1 0.4 1-0.5 1 0.4 1-2.5 1 3.1 1 1.4 1-1.2 1-2.3 1-0.4 1 0.8 1 1.5 1 0.9 1-4.3 1 4 1 0.4 1 0.9 1-5.3 1 3.6 1 1.3 1-3.4 1 0.4 1 2.9 1-3.1 1 1.8 1-1.6 1-1.6 1 3.6 1-3.9 1 3.6 1 0.4 1-3.2 1 3.3 1-0.3 1-2.1 1 2.5 1 0.4 1-1.6 1 0.6 1 0.4 1-2.6 1 3 1-2.5 1 2.4 1-1.8 1 1.8 1-2.3 1 1.3 1 0.2 1-0.6 1-0.1 1-2.2 1 1.7 1-2.2 1-1.2 1-4.2 1-7.1 1-7.7 0.9-4.5 0.1 0.4 1 2.7 1 6.1 1 4 1 1.9 1 4.7 1 5.2 1 1.3 1 0.5 1-1.7 1-0.8 1 3 1 0.2 1 0.4 1-0.4 1-3.1 1 4.2 1-1.8 1 2.2 1-0 1 0.4 1-0.7 1-3.7 1-0.4 1 2 1 1.7 1-2.3 1 3.1 1 0.2 1-0.3 1-0.5 1 1.2 1-0.8 1-4.2 1 3.8 1 0.2 1 0.2 1-1.9 1 0.1 1 1.2 1 0.2 1 1.5 1-0.5 1-0.7 1 0.1 1-0.2 1 0.1 1-4.1 1 1.5 1 3.1 1-2.2 1 0.8 1 0.6 1 0.2 1-0.6 1-3.3 1 4.1 1-0.3 1-0 1 1.1 1-1.2 1 0.6 1-0.9 1-0.3 1-3.1 1 3.9 1 0.1 1-1.7 1-2.3 1 3.6 1-0.8 1-0.1 1 0.2 1 1.2 1 0.2 1-0.1 1-0.2 1-0.7 1 1 1-0.1 1-0.6 1 0.1 1-0.1 1 0.9 1-4.6 1 3.8 1 0.1 1 0.4 1-1.4 1-1.4 1 2.2 1-0 1 0.1 1-3.9 1 2.5 1 1.4 1-0.4 1-2.1 1 2.1 1-0.4 1 0.3 1 0.3 1-1.2 1-2.5 1 2.7 1 1.1 1 0.4 1-0.6 1 0.3 1 0.2 1-1.9 1 0.7 1-1.9 1 1.3 1 1.1 1-2.5 1 0.8 1-3.3 1 1.2 1-5.8 1-5.7 0.3-3.8 0.7 4.4 1 5.7 1 1.1 1-0 1 5.2 1 1.4 1 0.6 1 0.6 1-0.6 1-1.1 1 1.3 1 1.5 1-3.8 1 0.7 1 2.9 1-0.3 1 0.7 1-4.1 1 3.5 1-1.2 1-0.1 1-1.8 1 2.6 1 0.4 1-1.5 1-0.9 1 2.5 1-0.3 1 1.1 1-4.2 1 3.6 1-2.5 1 0.2 1 0.2 1-0.4 1 2.7 1-1 1 0.9 1-0.4 1 0.4 1-4.1 1 3.2 1-1.8 1 2.7 1-4.1 1 3.7 1-0 1 0.1 1 0.9 1 0.3 1-1.9 1 1.3 1-0.6 1-3.8 1 3.8 1-3.8 1 2.8 1 1.5 1-2.1 1-1.3 1 0.8 1 2.3 1 0.3 1-2.8 1-1.6 1-0 1 3.8 1-0.1 1-0.8 1-1.9 1 1.5 1-0 1 1 1 1.9 1-1 1-1.2 1 1.4 1-4.6 1 4.1 1-2.2 1-0.6 1-0.5 1 3.6 1-0.7 1-3.7 1 3.3 1-1.8 1 3.8 1-2.8 1 0.6 1 0.6 1 1.1 1-0.7 1-0.3 1 0.1 1 0.4 1-3.3 1 0.3 1 2.5 1-3.7 1 4.3 1-1.6 1-2.8 1 2.1 1 1.6 1-1.4 1 1.3 1 0.3 1 0.2 1-0.7 1 0.2 1-0.9 1 1.4 1-1.3 1-1.6 1 2.8 1-4 1 4.1 1-0.1 1-0 1 0.4 1 0.2 1-0.2 1-0.7 1 0.4 1-4.1 1 3.6 1 0.1 1 0.1 1-1.5 1 0.8 1-0.6 1-1.2 1-1.8 1 4.1 1-2.5 1 1.3 1-0.9 1 0.2 1-3.7 1-3.4 1-4.7 1-3.7 0.6-3.3 0.4 2.8 1 3.6 1-0.3 1 3.7 1 3.6 1 2.4 1 1.6 1-0.9 1 3.1 1 0.8 1 0.3 1 0.4 1-0.8 1 0.5 1-2 1 2 1-2.9 1 2.7 1-0.3 1 0.2 1 0.1 1-3.7 1 4.1 1-0.1 1-0.2 1-1.7 1 2.2 1-4.1 1 4.1 1-0.3 1-0.6 1-0.2 1 1.1 1-2.7 1-1.5 1 3.5 1-1.7 1 0 1-1.8 1 3 1-0.5 1 1.3 1-1.1 1 1 1 0.1 1-0.1 1-2.3 1 2.4 1-2.3 1 2.2 1-2.9 1 3.6 1 0 1-2.3 1-2.1 1 3.8 1 1.2 1-4.1 1 1.4 1 1.7 1-3.8 1-0 1 3.6 1-0.2 1-1.9 1-0.1 1-1.6 1 2 1-2.4 1 3.8 1 0.3 1-0.2 1 0 1-0.5 1 0.3 1-2.5 1-1.1 1-1.1 1 3.6 1 0.2 1-1.2 1-1.2 1-0.7 1-3.6 1-4.6 1-9 1-15.3 1-23.8 1-10.5 0.1 0.9 0.9 6 1 10.9 1 9.9 1 6.2 1 8.8 1 8 1 9.8 1 4.4 1 3 1 0.3 1 1.1 1-3 1 3.1 1-0.9 1 2.8 1-0.9 1-1.3 1-2 1 1 1 3.2 1-4.3 1 4 1 0.1 1 0.1 1 0.6 1-0.5 1 0.2 1-0.1 1 0.1 1-0.2 1-1.3 1 1.6 1 0.3 1-1.7 1 0.9 1-1.1 1 1.8 1-0.5 1 0.5 1 0.3 1-0.6 1-0.2 1-0.3 1 1.1 1-2.1 1-0.7 1 1.7 1 0.6 1 0.3 1-2.3 1 2.3 1-3.1 1 3.8 1 0.1 1-1.9 1 1.4 1-2.7 1 2.2 1 0 1-0.6 1-1.8 1 0.5 1 1.6 1 0.1 1-1.7 1 2 1 0.1 1 0 1-4.4 1 0.6 1 2.2 1 1.1 1-1.3 1 2.2 1-1 1-2.1 1 1.6 1 1.1 1-0.8 1 0.1 1-3.2 1 1.3 1 1.5 1-3.4 1 3.9 1-3 1 1.6 1 1.1 1 0.3 1-1.6 1-2.3 1 4.7 1-1.5 1-1.9 1 2.8 1-0.1 1-3.8 1 3.5 1 0.1 1-1.4 1 0.3 1-0.6 1-0.1 1-2 1 2.5 1-1.3 1 2.8 1-1.2 1 1.1 1-3.9 1 2.6 1-2 1 3 1 0.5 1-2.6 1 2.1 1 0.9 1-0.9 1 0.3 1-3.9 1 3.4 1-1.9 1 0.4 1-1.6 1 1.6 1-0.2 1 0.2 1 1.9 1-1.2 1 0.8 1-0.2 1-1.2 1 1.1 1-1.5 1-2.9 1 1.4 1-3 1-0.4 1-6.8 1-9.9 1-18.5 1-16.6 0.5-6.8 0.5 2.4 1 17.9 1 9 1 3.1 1-1.4 1 9.3 1 10.5 1 4.2 1 2.5 1 4.5 1-1.7 1 1.2 1-0.4 1 2.4 1-2.3 1-2.4 1-11.6 1-9.8 0.3-4.4 0.7 4.2 1 15 1-0.4 1 1.5 1-3.3 1 6.9 1 4.8 1 1.9 1 0.9 1-3.2 1 3.4 1 1 1-2.1 1 1.9 1-1.3 1 1.7 1-1.3 1 1.5 1-0.1 1-1.2 1-1.3 1 1.7 1 0.4 1-3.7 1 3.8 1 1.7 1-3.1 1 1.7 1 0.6 1-3.4 1 0.5 1 2.1 1 0.1 1-0.4 1-2.3 1 3 1-3.7 1 2.5 1-0.4 1-2.7 1 3.8 1-1.6 1 1.4 1 2.1 1-1.9 1-0.1 1 0.1 1-2.9 1 3.2 1-1.5 1 0.4 1-0.2 1 2.2 1-0.9 1 0 1-3.9 1 3.8 1-1.5 1 0.9 1 1.4 1-0.2 1-1.2 1-1.1 1-2 1 3.7 1 0.7 1-0.9 1 1 1-3.9 1 3.2 1-0.2 1-3.8 1 3 1 1.7 1-1.7 1 1.2 1 0.5 1-0.3 1 0.4 1-1.9 1 1.5 1-0.3 1-2.4 1 2.2 1 0.2 1-0.4 1 0.5 1-0.4 1 0.2 1-2 1 2.1 1 0.4 1-0.3 1 1.2 1-1.4 1-1.8 1-2 1 3 1-2.1 1 4.1 1-4.3 1 2.1 1-1.8 1 3 1-1.1 1 0.5 1 0.6 1-0.2 1-3.4 1 4.4 1-0.9 1-1.1 1-2.2 1 3.8 1 0.1 1 0.5 1-2 1 0.6 1-0.1 1-0.1 1 1.1 1-3.6 1 0.2 1 2.7 1-0.8 1-0.6 1-2.4 1-9.7 1-6.1 0.5 1.1 0.5-2.8 1 10.1 1 5 1 0.6 1-2.4 1 0.4 1-0.3 1 6.6 1 0.6 1-2.1 1 1.8 1 1 1-4.1 1 3.8 1 0.3 1-0.3 1-1.5 1-0.2 1-0.7 1 1.5 1 1 1-3.7 1 3.4 1 0.1 1-2.3 1-1.6 1 1.9 1-2.7 1-3 0.3 0.2 0.7 0.8 1 0.9 1 1.7 1 3 1-6 1 0.7 1 5.4 1-3.2 1 4.8 1-4.2 1 3.9 1-1.5 1 0.7 1-0.9 1 2.4 1-4.5 1 1.8 1 1.3 1-2.5 1 3 1-3.6 1 0.3 1-0.3 1 4.1 1-1.2 1 2 1-1.9 1 1 1 0 1-2.7 1 2 1-2.8 1 3 1-0.9 1-2.1 1 1.3 1-1.3 0.2-0.8 0.8 1.6 1-1.3 1 2.4 1-1.6 1 2.6 1-3.5 1 4.7 1-3.8 1 3.7 1-4 1 3.1 1 1.3 1-2.6 1 1.6 1-0.2 1-0.1 1-1.8 1 2.1 1-1.6 1 2 1-0.3 1-1.3 1-1.9 1 2.8 1 0.3 1-1.2 1-0.3 1 1.9 1-4.3 1 4 1 0.5 1-0.9 1-0.9 1 1 1 0.4 1-0.4 1-1.3 1 1.8 1 0.1 1-0.9 1 0 1 1.1 1-4.4 1 1.3 1-1.3 1 1 1 3.6 1-4.6 1 4.7 1-0.5 1-1.4 1 1.2 1-2.2 1-0.5 1 2.3 1-3.7 1 4.7 1-2.5 1-0.6 1-1.7 1 1.3 1 3.4 1-2.7 1 1.8 1-0.8 1-0.9 1-1.8 1 3.3 1-1.7 1-1.5 1 0.2 1-0.5 1 2.6 1-3.5 1-3.2 1 0.9 1-3.1 0.6 1.2 0.4-1.9 1 2.1 1 2.8 1-1.2 1 0.6 1 2.5 1 0.1 1 1.1 1 1.6 1-2.8 1 3.5 1-0.5 1 1.9 1-1.3 1 0.9 1-1.8 1 1.1 1-2.4 1-1.3 1 4.9 1-1.4 1 0.3 1 0.3 1 0.2 1-0.5 1-1.3 1-0.2 1-1.1 1 2.5 1-2.5 1 0.8 1-0.9 1 0.1 1 0.9 1-0.7 1 2.7 1 1 1-0.5 1-2.1 1 1.1 1 0.5 1-3.6 1 1.3 1-1.7 1 4.4 1-0.5 1-1.4 1-1.2 1-1.3 1 2.5 1-2.5 1 0.4 1 2.5 1-2.8 1 2.3 1-0.2 1 2.1 1-0.1 1-0.1 1-1.4 1 1.7 1 0.5 1-1.2 1-3.7 1 3.3 1 1 1-0.4 1-1.6 1-1.3 1 1.6 1-2.6 1 1.5 1 2.8 1-3.6 1 3.3 1-3.4 1 2.3 1 2.1 1-0.1 1-1.2 1-0.6 1-2.3 1 1.3 1-2.1 1 1.7 1 1.6 1 1 1-4.2 1 0.8 1 0.2 1 3 1-3.2 1 4.1 1-2.8 1 1.4 1 0 1 2.1 1-5.6 1 4.4 1-0.2 1-0.3 1 0.1 1 1 1-3 1 1.8 1-0.5 1 1.4 1-1.9 1 0.7 1-3.4 1 3.9 1 1 1-1.6 1-0.8 1-1.9 1 1 1 2.4 1-0.8 1 0.9 1-2.1 1-2.4 1 4.3 1 0.2 1-0.3 1-1.2 1-1.8 1 0.3 1 0.2 1-2 1-0.5 1-1 1 3.1 1 2.8 1-2.7 1 2.5 1 0.9 1-0.9 1-0.1 1-0.2 1 1 1-0.3 1-0.3 1-0.4 1-0.3 1 1.6 1-3 1 3.1 1-1.5 1 0.5 1 1.8 1-1.2 1-0.5 1-0.4 1 0.5 1-0.8 1 0.8 1 0.1 1-2 1-1.9 1 4 1-0.1 1-1.2 1 1.6 1-2.5 1 1.9 1-3.7 1 4.4 1-0.8 1 0.8 1-1.5 1 1.3 1 0.5 1-0.3 1-0.2 1-0.6 1 0.8 1-2 1 1.5 1-0.1 1 0.1 1-0.3 1-3.7 1 4.4 1-0.7 1-0.3 1-0.6 1 1.3 1 1.3 1-3.2 1 0.1 1-0.7 1 0.8 1 2 1-3.9 1 3.3 1-1.2 1-2.6 1 0.7 1 3.5 1-0.8 1-3.2 1 1.1 1 2.4 1 0.9 1-0.3 1-0.5 1-0.7 1-2.6 1 0.3 1 4 1-0.9 1 0.3 1-0.2 1-1.7 1 1.2 1 0.8 1-4.3 1 4 1 0.3 1-0.4 1-4.1 1 1.9 1 2.2 1-1 1 1.2 1-2.8 1 1.4 1 2.4 1-2 1-2.4 1 3.8 1-1.1 1 0.4 1-1.3 1 2.1 1-3.1 1 2.2 1-3.5 1 1.5 1 2.1 1 0.6 1-0.3 1-3.7 1 0.9 1 1.5 1-0.2 1 1.1 1 0.4 1-0.2 1 0 1 0.3 1-1.1 1-3.1 1 5 1-2.7 1 1.4 1 0.9 1-1.7 1-2.8 1 4.6 1-1.3 1 1.2 1-3.5 1 1.2 1 1.1 1 0.4 1-2.3 1-0.4 1 3.2 1 0.4 1-1 1-2.3 1 2.2 1-3.7 1 3.6 1 0.4 1-1.2 1 1.8 1-0.3 1-0.4 1 0.2 1-4.1 1 1.2 1 1.6 1 1 1-2.9 1-0.4 1 3.2 1 0.9 1-2 1 1.1 1 0.2 1-0.3 1-2.4 1 2.6 1-0.1 1 0.3 1 0.2 1 0.2 1-2.3 1 1.4 1 0.5 1-0.1 1-1.1 1-0.6 1 1.3 1-0.2 1-0.8 1 1.8 1 0.5 1-4.7 1 2.3 1-2 1 4.1 1-1.1 1-3 1-0.2 1 2.5 1-1.7 1 2.1 1 1.3 1 0.2 1 0.2 1-0.6 1-3.1 1 2.9 1-3.9 1 0.9 1 0.7 1 2.7 1-0.6 1-2 1 2.5 1-2.8 1-0.7 1 1.5 1 2.4 1-1.9 1 1.7 1-4.4 1 4 1-0.1 1-0.5 1 0.6 1-2.6 1 1.4 1-2.8 1 4.6 1-1.1 1-0.8 1 1 1 0.7 1 0.1 1-1.9 1 1.4 1 0.8 1-0.3 1-1.4 1-0.7 1 1.2 1-1.6 1 1.4 1-0.5 1 1.5 1-0.4 1-2.4 1 1.2 1-0.7 1-1.1 1 4.2 1-3.3 1-0.2 1 1.4 1-0.4 1 1.5 1-2.3 1 0.2 1 0.7 1-1.3 1-1.8 1 3.1 1 0.7 1-0.6 1-3 1 1.2 1 2 1-0.1 1-1 1 1.7 1-0.3 1-2.1 1-0.1 1 0.4 1-2.1 1-2.9 1-7.2 1 1 1 1.6 1 4.2 1 3.4 1 1.8 1-1.5 1-5.5 1 3 1-1.3 1 2 1-2.6 1 3.3 1-0.4 1 0.2 1-3.9 1 2.9 1 4.7 1-1 1 1.6 1-0.1 1 0.7 1-0.9 0.65-3.1" fill="none" stroke="#ff0000" stroke-width="2.8" stroke-linejoin="round" shape-rendering="crispEdges"/><path d="M104.2 1446.2l0.8-0.3 1-1.6 1 1.3 1-1.7 1-0.6 1 2.9 1-3.5 1 2.9 1-4 1 1.8 1 2.1 1-0.8 1-0.1 1-0.3 1-2.5 1 2.1 1-2.4 1 2.1 1 1.7 1 0.9 1 0.1 1-1.7 1-1.1 1-1.9 1 4 1-0.7 1 0.8 1-0.3 1 1.4 1-3.4 1 2.2 1-0.4 1-1.1 1 0.3 1 1.7 1-4.6 1 1.8 1 0.7 1 1.7 1 0.6 1 0.1 1-1 1-0.6 1 0.9 1-4.2 1 2.9 1-1.6 1 0.2 1 2.9 1-3.2 1 1.4 1 2 1-2.7 1-0.8 1 0.2 1-0.2 1 3.6 1-0.9 1 0.2 1-0.5 1-0.1 1-2.4 1 0.9 1 2.4 1-2.8 1-1.4 1 2.8 1 1.9 1-0.6 1-0.4 1 1.1 1-1.1 1 0.8 1-2.8 1 0.3 1 1.7 1 0.8 1-1.6 1 1.2 1-0 1-3.1 1 3.2 1 0.4 1-2.9 1-1.7 1-0 1 1.7 1-1.7 1 3.8 1-3.8 1-0.1 1 3.9 1-1.3 1 1.9 1-0.2 1-2.1 1 2.2 1-1.3 1-0.6 1 0.8 1-2 1-1.3 1 3.2 1-2 1-1.2 1 4 1 0.1 1 1.3 1-2.8 1-1.5 1 1.5 1-2.4 1-0 1 1.5 1 2.1 1 0.6 1-0.9 1-1 1 1.3 1 0.2 1 0.1 1-2 1 2.9 1-1 1-0.5 1-1.5 1-0 1 1.9 1 0.2 1 0.5 1-3.8 1 1.4 1 0.9 1 1 1 0.3 1-3.7 1 2.9 1-1.2 1-2.4 1 4.7 1-0.5 1-1.5 1-0.7 1 2.3 1-0.7 1 0.4 1-0 1-1.4 1 0.4 1-2.3 1 1.4 1-2.1 1 4.2 1-1.6 1 2 1 0.2 1-0.1 1-2.8 1 1.3 1 1.7 1-4.4 1 0.8 1 2.5 1-0 1-0.1 1 0.8 1-4.4 1 3.9 1-0.2 1 0.1 1 0.3 1 0.1 1-1.4 1 1.7 1-0.2 1-0.1 1-2.6 1 2.7 1-0 1-1.5 1 1.6 1-0.6 1-2.4 1 1.1 1 0.9 1-3.5 1 3.9 1 0.1 1 0.9 1-1.4 1-1.4 1 2 1-4.1 1 1.2 1 0.2 1 3.1 1-1.5 1-0.2 1 2.4 1-1.5 1 0.2 1 1 1-2.4 1-2.4 1 1.8 1 2.4 1-0.4 1-2.8 1 3.3 1-1.4 1 0.7 1-0.4 1-3.2 1 4.7 1-3.8 1 2.1 1 0.7 1 1.1 1-1.9 1 1 1 1.7 1-1 1-0.1 1-0.2 1-0.3 1 0.2 1-4.2 1 1 1 2.7 1-3.4 1-0.2 1 2.3 1 2.1 1-1.8 1-2.6 1 4.2 1-0.7 1-2.2 1-0.6 1 0.8 1 1.1 1 1 1 0.4 1-2.9 1 0.2 1 2.6 1 0.1 1-3.5 1 0.6 1 3 1 0.6 1-1.5 1-1.7 1-0.3 1 0.3 1 3.1 1-1.3 1 0.4 1 0.3 1-4.2 1 3.6 1-0.6 1 0.8 1-1.9 1-1.2 1 3 1-0.1 1 0.3 1 0.4 1-0.6 1-0.9 1 0.7 1 0.2 1 1.2 1-2.1 1 0.4 1-3.2 1 4.1 1 0.5 1 0.4 1-0.9 1-0.4 1-0.6 1 1.7 1-0.7 1-2.8 1 2.3 1 0.3 1 0.1 1 0.9 1-0.2 1-0.7 1-3.2 1 0.1 1 2.9 1-1.6 1 0.5 1-1.8 1 3.3 1-1.1 1-1.7 1 3.1 1-0.8 1-0.6 1-0.5 1-0.2 1-0.2 1-0.9 1-1 1 2.4 1-2.7 1 4 1-0.2 1-0.9 1 1.3 1 0.5 1-0.2 1-3.7 1 3.2 1 0.5 1-4.6 1 2.7 1 0.4 1 1.2 1-1.3 1 1 1-1 1 0.6 1 0.1 1-0.7 1 1.1 1-0.4 1 0.1 1-1.6 1-1 1-0.7 1 2.6 1-6.1 1 2.2 1-1.6 1-0.7 1 0.7 1-1.5 1 4.2 1 0.7 1-0.8 1-0.4 1 4 1 0.3 1 0.6 1-0 1-2 1 0.5 1 0.2 1-0.8 1 0.1 1-2.1 1-0.7 1 4.2 1-4.1 1 1 1 3.1 1-1 1 0.8 1 1 1-1.3 1 1.3 1-1.3 1 0.9 1-0.5 1-2.2 1 1.7 1 0.9 1-1.2 1-1.1 1-0.7 1 3 1-3.3 1 2.8 1 0.3 1-3.2 1 1.3 1-0.2 1 1.3 1 1.7 1-2.5 1-0.2 1 1.4 1-3.6 1 3.2 1-3.3 1 0.7 1 3.4 1 0.1 1-0.4 1-0.2 1-1.8 1 2.2 1 0.4 1-4.4 1 3.5 1-0.7 1-2.8 1 3.2 1 2.1 1-2.9 1 1.6 1-2.9 1 3.8 1-1.9 1-1.4 1-1.5 1 1.1 1 0.1 1 2.2 1 0.1 1 0.7 1-3.1 1-1.1 1 1.9 1 2.2 1 0.4 1-0.6 1-4 1 3 1 1.2 1-0.4 1-2.4 1 2.6 1-0.2 1 0 1 0.3 1-4.3 1 4 1-1.5 1-2.5 1 2.5 1-0.4 1-0.9 1-0.6 1 0.6 1 0.8 1 0.6 1-0.1 1-2.8 1 4 1-2.3 1 2.3 1 0.6 1 0.2 1-1.7 1 1.8 1-2.1 1 1.4 1-3.8 1 4.3 1-3.4 1-0.7 1 1.3 1 2.5 1-1.4 1 0.5 1 0.6 1-2.4 1 2.4 1-0.8 1-2 1 2.9 1 0.1 1-0.9 1 1 1 1.3 1-1.3 1-0.3 1 0.7 1 0.5 1-2.5 1 1.7 1-2.2 1 0.4 1-2.3 1 2.1 1-0.8 1-1.1 1 3.7 1-3.1 1-0.2 1 4.3 1-0.5 1-1.2 1-3.1 1 3.8 1 0.7 1 0.2 1-2 1 0.2 1 1.1 1-1.3 1 1.1 1-3 1 3.8 1-0.7 1-3 1 3.2 1 0.2 1-0.5 1-3.8 1 2.9 1-2.8 1 4.1 1-0.5 1-1.9 1 1 1 1.1 1 1.1 1-2.9 1-0.6 1 0.6 1 2.3 1-0.4 1-0.8 1-0.2 1-4 1 2 1-2.4 1-1.7 1-1.3 0.7-4.1 0.3 2.1 1 2.1 1 1.5 1 3.7 1-3.7 1 5.4 1 1.3 1-0.3 1-1.1 1 0.7 1-1.5 1 0 1 1.6 1-2.3 1 3.8 1-2.4 1 0 1 0.3 1 1 1 0.3 1 0 1 0.8 1-0.8 1-3 1-0.8 1 3.8 1 0 1 0 1-0.3 1 0 1-1.2 1-2.3 1 4.9 1-0.7 1-0.4 1-0.3 1-1 1-2.6 1 4.2 1-2.2 1 1.6 1-0.2 1-0.6 1-1.4 1 1.8 1 1.1 1-1.9 1 0 1 2.3 1-2.2 1 1.1 1 0.1 1-0.4 1-3.4 1 4.8 1-1.6 1 1.8 1-1.4 1-2.2 1 3.5 1-4 1 1.6 1 1.2 1 0 1-0.1 1-0.1 1 0.2 1-2.6 1 0.6 1 2.6 1-3.3 1-0.9 1 0 1 2.7 1 2 1-0.8 1-0.3 1 0 1 0.9 1-2.6 1-0.8 1 3.3 1-0.5 1 0.2 1-1 1-2.7 1 4.4 1-5 1 0.9 1 3.4 1-4.4 1 0.4 1 1.5 1 0.5 1 1.7 1-2.1 1 1.9 1-1 1-2.4 1 2.9 1 0.1 1-2 1-1.1 1-0.3 1 2.6 1-3.9 1-0.3 1 3.3 1-2.7 1 1.6 1-4.1 1-5.3 1-11.8 1-12.4 1-7.2 0.2-3.6 0.8 5.6 1 5.6 1 11 1 11 1 7 1 2.1 1 3.1 1-0.7 1-1.6 1 0.9 1 2.8 1-4 1 2.2 1 2.2 1-1.8 1 1.9 1-0.3 1-0.6 1-3.2 1 0.1 1 4.6 1-1.1 1 0.2 1-1.8 1 0.7 1 1.4 1-1.3 1 1.4 1 0 1-2 1 0.8 1 0.9 1-2.1 1 1.9 1 0.1 1-0.5 1-1.9 1 1.8 1-4.3 1 3.2 1-1.7 1-2.5 1-1.5 1-7.6 1-16.3 1-21.3 0.6-4.9 0.4 3.1 1 12.2 1 13.8 1 12.9 1 7.9 1 2.7 1 2.2 1 1.4 1-1.8 1 2.6 1-0.5 1 1 1-3 1 1.6 1 0.6 1-2.1 1 0.4 1 3.4 1-1.5 1 1.3 1-0.3 1-0.1 1 0.7 1-0.1 1-1.2 1 0 1-1 1 1.4 1 0.2 1-0.1 1-0 1 0.3 1-0.8 1 1 1-0 1 0.3 1-1.3 1 0.7 1-0.3 1-0.4 1 0.8 1-1.1 1 0.3 1-0 1 1.3 1-3.7 1 1.1 1-0.2 1-2.4 1 4.2 1-4.4 1 3.5 1-2.5 1-1.3 1 2.3 1-3.6 1-2.4 1-5.1 0.8 0.8 0.2-4.6 1 4 1 3.5 1 3 1-1.9 1 4.1 1-2.9 1-0.2 1-9.6 1-10.9 1-14.1 0.3 0.6 0.7 3.2 1 4.9 1 9.6 1 10.8 1 5.1 1-0.9 1 4 1-1 1-0.3 1-1.4 1-1.2 1-1.5 1-1.2 1-3.8 1-3.7 1-3.2 1-11.9 1-11.4 1-27.2 0.5-21.4 0.5-15.3 1-28.6 0.4-1.6 0.6 4.5 1 22 1 28 1 30.5 1 17.4 1 13.8 1 5.9 1 6 1 3.3 1-0.3 1 2 1 1.3 1-3.4 1 3.5 1 0.7 1-0.7 1 0.2 1-0.4 1-1.5 1 0.6 1-1.4 1-4.3 1-12.8 1-25.5 1-34.8 0.8-10.7 0.2 1.3 1 16.3 1 13.7 1 23.9 1 19.4 1 10 1 0.5 1 3.7 1 1.1 1 2.3 1-3.3 1 2.1 1-1.3 1-6 1 0.4 1-1.5 1 3.5 1 1 1 2.5 1 1 1 2.1 1 1 1 1.2 1-3.3 1 4.3 1-1.7 1 1.2 1-2.3 1 3.1 1-2.9 1 2.9 1-1 1 0.6 1-3.7 1 4.6 1-0.4 1 0.9 1-0.6 1-0.5 1 0.1 1 0.4 1-0.1 1-0.3 1-0.2 1-3.5 1 2.9 1 0.7 1 0.3 1-1.6 1-1.5 1 3 1-2.2 1 1 1 2.5 1-5.2 1 1.7 1 3 1 0.3 1-1.6 1 0.4 1-1.6 1 0.8 1-3.8 1 2 1-2.4 1-1.2 0.2 1.6 0.8-1.9 1 2.9 1 1.3 1 1.1 1 2.1 1-0.6 1-4.3 1 4.1 1 0.3 1-0.3 1 0 1-3.8 1 4.5 1-0.3 1-1.9 1 2.6 1-0.1 1-0.3 1-0.4 1-2.8 1-0.7 1 1.9 1-2.5 1 5 1-3.8 1 2.9 1-1.5 1 1.2 1 0.9 1-3.7 1-0.7 1 2.8 1 1.2 1-4.2 1 5.2 1-2.1 1 1.1 1-0.1 1-2.8 1 2.6 1-2.7 1 1.8 1-2.7 1 1 1 0.3 1 1.9 1 0.1 1 0.6 1-1.7 1-0.7 1 2.2 1-1.4 1 1.5 1-0.5 1 0.8 1-0.8 1-2.6 1 1.9 1 1.9 1-2.7 1 1.7 1-3.2 1 1.4 1 0 1 1.8 1-0.5 1 0.8 1-0.7 1-1.6 1 2.9 1-0.8 1-2 1 2.5 1-0.6 1-1.3 1 0.4 1-0.7 1-0.4 1-1 1 3 1-1.4 1 0.2 1 1.8 1-0.5 1-2.1 1 0.9 1-0.8 1 1.6 1-0.1 1-2.3 1 3.6 1-0.3 1-1.3 1-0.7 1-1 1-0.3 1 0.8 1 0.6 1-3.3 1-2.1 1-3.4 1-4.9 1-3.6 1 0 1 4.5 1 0.5 1 6.5 1 3.2 1 1.7 1 0.4 1 0 1-1.3 1 2.4 1 0.9 1-0.2 1-1 1 0.7 1-0.4 1 0.7 1 0 1 0 1 0.1 1-0.7 1-3.3 1 3.6 1-0.3 1 1.6 1-2.4 1 1.3 1-3.2 1 1.9 1-2.1 1 3.9 1-2.3 1-0.5 1 2.4 1-3 1 3.7 1-1.6 1 0.9 1-2.2 1 3.3 1-3.4 1-1.5 1 4.3 1-2.9 1 2.8 1-2.8 1-0.5 1 3.5 1-4.4 1 3.6 1-0.2 1-1.7 1-0.4 1 2 1-1.4 1 0 1 2.4 1-1.5 1 0.1 1 0.4 1-1.5 1 2.1 1 0.8 1-2.8 1 0.6 1 0.9 1 0.5 1-3.9 1 3.2 1 1.1 1-1.6 1-0.4 1 2.3 1-2.6 1 3.1 1-1.2 1-2.4 1-0.6 1 1.8 1-1 1 2.5 1-0.8 1-1.4 1 2.9 1-2 1-0.8 1-1.1 1 0.8 1-0.6 1 0.4 1 2.8 1 0 1-0.2 1 0.4 1-2.9 1-1.5 1 0.4 1 2.5 1-2 1 2.4 1-1 1-1.5 1 3.5 1-0.4 1-1.5 1-2.5 1 1.9 1-0.3 1-1.6 1 3.7 1 1.2 1-0.8 1-0.2 1-4.4 1 3.6 1-0.3 1-0.5 1-1 1-2.8 1-6.3 1-10.8 0.6 0.1 0.4 2.3 1 2.9 1 3.5 1 2.9 1 3.2 1 4.3 1-2.4 1 1.7 1 2.2 1 1.4 1-1.9 1 0.2 1 1.3 1 0.3 1-3.7 1 3.9 1-2.4 1-0.7 1 3.6 1-1.2 1-1.9 1 2.3 1 1.1 1-2.4 1-2.2 1 2.5 1 0.4 1 1.3 1-0.4 1-1.2 1 2 1-0.3 1-0.8 1 0.2 1-0.2 1 0.2 1-3.3 1 3.4 1 0 1 0.5 1 0.1 1-0.5 1-3.7 1 1 1 3.5 1-4.5 1 3.5 1 1 1-1.6 1 1.3 1-0.2 1 0.3 1-0.6 1 1.3 1-3.7 1-1.3 1 3.7 1-0.2 1-0.9 1 1.2 1 0.1 1-1.9 1-0.8 1 2.7 1-1.9 1 0.9 1 1.1 1-0.3 1 1.3 1-0.6 1-1.4 1-0.6 1-1.2 1-0.9 1 4.2 1-1.5 1 1.9 1-1.1 1 0.4 1-1.5 1 1.2 1-0.2 1 0.4 1-0.3 1-3.1 1 1.2 1 1.7 1 1.2 1 0.1 1-1.2 1-0.9 1-0.5 1 0.8 1 1.1 1 0.6 1-3 1 0.6 1-1.5 1 3.9 1-2.6 1-0.2 1 2.3 1 0 1 0 1-0.1 1-0.6 1 0.2 1-3.3 1 2.1 1 1.4 1-1 1 1 1 1.1 1-2.3 1 1.2 1-3.3 1 2.9 1-3.3 1 1.3 1 2.9 1-4.6 1 3.8 1-0.2 1 0.7 1-0.4 1-4 1 3.2 1 2.4 1-5.6 1 3.1 1 0.9 1-2 1 0.6 1 1.2 1-4.1 1 2.2 1-1.5 1 1.8 1-0.1 1-1.8 1-1.5 1-3.8 1-5.7 0.4 1.8 0.6-0.8 1 3.6 1 2 1-1.6 1 4.7 1 2.2 1 0.7 1-1.6 1 0.4 1 3.3 1 0.1 1-0.2 1 0.4 1-0.7 1-1.8 1 2.2 1 1 1-0 1-0.1 1-0.8 1-1.4 1 2.1 1-1.8 1-0.6 1-2.4 1 4.5 1-0.9 1-1.5 1 0.7 1-1 1 1 1-0.8 1 1.7 1-0 1 1.1 1-4.8 1 4.5 1-1.2 1-0 1 0.8 1 0.6 1-1.7 1 1.7 1-3.6 1-1.1 1 0.4 1 5 1-2.8 1 0.8 1 0.3 1-2.2 1 2.4 1-1.6 1 1.8 1 0.2 1-2.1 1-1.2 1 3 1-4 1 3.7 1 0.5 1-0.2 1-0.1 1-2.1 1-0.2 1 1.5 1-3 1 3.8 1-1.8 1 0.3 1 2.2 1-2.4 1 1.1 1-4 1 3.8 1-3.8 1 1.7 1 2.1 1-4.2 1 0.6 1-0 1 0.1 1-5.3 1 0.4 1-10.3 1-12.5 1-18.8 1-18.5 0.5-4.6 0.5 3.7 1 14.5 1 8.3 1 4.5 1 8.9 1 12.6 1 6.3 1 7.3 1 0.5 1 3.9 1 1 1 0.2 1 0.4 1-3.3 1 4.5 1 0.5 1-0.8 1 0.1 1 1.3 1-0 1-0.5 1-0.4 1 0.1 1-2.1 1 2 1 0.6 1-0.5 1-0.7 1-0.7 1 3.4 1-2.1 1-0.5 1-2.7 1 3.5 1-0.5 1 1.5 1-3 1-0.5 1 3 1-0.8 1 0.5 1-2.8 1 2.7 1-0.6 1-0.1 1 0.7 1-0.7 1-3.1 1 3.6 1 0.5 1-3.2 1-0.9 1 1.3 1 2.2 1 0.1 1-1.5 1-1 1-1 1-0 1 4.4 1-2.8 1-1.5 1 1.8 1 1.7 1 0.5 1-2.1 1-0.2 1 0.9 1 1.5 1 0.7 1-4.9 1 4.3 1-0.6 1 0.9 1-3.3 1 2.6 1-0.5 1-3.4 1 1.1 1 1.6 1 2.2 1-3.7 1-0 1-0.5 1 2 1 1.7 1-0.5 1-2.8 1 0.3 1 0.6 1-2 1 0.8 1 2.1 1-0.1 1 2 1-0.9 1-2.8 1 3.7 1-2.2 1-1.5 1 2.6 1-1.7 1 2.2 1-4.3 1 3.9 1 1.3 1-2.7 1 1.5 1-3.9 1 1.8 1 2 1-3.9 1 3.8 1 0.7 1-3.7 1-0.7 1 3.6 1-2.6 1-1.2 1 4.1 1 1.5 1-3.4 1 1.5 1-2.4 1 1.7 1 0.7 1 0.4 1 0.1 1-0.5 1 0.2 1-2.8 1 0.1 1 1.9 1-3.6 1 2.9 1-0.2 1-3 1 0.7 1-0.3 1-5.3 1-7.7 1-6.3 1-15.6 1-9 0.2-1.8 0.8 0.9 1 13.7 1 7 1 0.8 1 4.3 1 5.7 1 7 1 4.5 1-0.6 1 3.2 1-0.3 1 1.1 1-1.3 1-2.6 1-3.6 1-14.4 1-5.9 0.1-1.1 0.9 8 1 7.7 1 5.4 1-2.5 1-0.4 1 5.8 1 4.1 1-2.3 1 4.4 1-0.5 1 1.8 1-0.2 1-0.3 1-3.7 1 4 1-0.9 1 2.1 1-0.9 1-0.3 1-2.2 1 0.8 1 2.4 1-3.5 1 0.8 1-0.3 1 2.8 1-4.4 1 5 1-1.3 1-0 1-1.3 1 0.9 1 0.8 1-4 1 5 1-0.9 1-0.2 1-2.8 1 1.7 1 2.1 1-4.9 1 3.7 1-3 1-0.6 1 3.9 1-1.2 1 2 1-0.6 1-4.1 1 3.8 1-2.6 1 2.4 1-1.7 1 0.1 1-2 1 2.2 1 1 1-1 1 1.9 1 0.3 1 1.1 1-3.5 1 1 1 0.9 1-2.5 1 1.2 1 1.3 1-2.1 1 0.4 1-0.5 1-0.9 1 1.9 1-0.8 1 1.8 1 0.7 1-0.6 1-0.3 1 0.9 1-0.7 1-0.8 1 1.4 1-0.6 1-0.6 1 0.6 1-3.1 1 3.9 1-4.4 1 3.9 1-3.9 1 3.2 1-3.2 1 3.6 1 0.1 1 0.7 1-0.4 1-2.3 1 1.4 1-0.1 1 0.5 1-0 1-1.7 1 1.3 1 0.9 1-3.3 1 2.8 1-0 1-0.6 1 0.9 1-0 1 0.3 1-3.1 1 3.4 1-1.6 1 1.7 1-0.1 1-3.6 1 2.5 1-1.6 1 1.3 1 0.2 1-2.2 1 1.2 1-2.2 1 0.4 1 2.4 1-0.7 1-6.4 1-5.2 1-7.3 0.8-8 0.2 3.7 1 9 1 4 1 4.2 1-2.4 1-0.9 1 0.7 1 3 1 5.4 1-3.3 1 4.6 1 1.3 1-1.7 1-3.3 1 2.4 1 0.3 1-2.9 1 1.2 1-1.8 0.9 1.2 0.1-2.8 1 3.1 1 0.6 1-3.2 1 3.9 1-3.3 1 4 1-2.8 1-4.9 1-5.2 0.2-1.1 0.8 3.7 1 3.1 1 4.2 1-2.7 1-1 1 2.2 1 0.4 1 3.8 1 0.9 1 0.8 1-0.2 1-1.5 1 2.6 1-2.5 1 1.5 1-2.5 1 2.9 1-0.8 1 1 1-0.4 1-1.2 1-2.8 1 2.3 1 0.9 1 1.3 1-2.2 1 1.9 1-3.1 1 0.5 1-0.7 1 4 1-1.2 1-1 1-1.3 1-0.9 1-0.6 0.2-1.3 0.8-0.7 1 3.3 1 1.5 1-0.1 1-0 1 0.5 1 1.3 1-2.3 1 0.6 1-0.1 1 1.9 1-2.9 1 2 1-0.9 1 0.1 1 1.7 1-0.6 1-2.1 1 1.6 1-0.5 1 1.6 1 0.4 1-1 1 1.8 1-4.1 1 2.8 1-4.2 1 4.2 1-0.4 1 0.8 1 0.1 1-1.4 1-0.8 1 2.2 1-2.1 1 1.5 1 0.2 1-0.8 1-2.3 1 2.7 1 0.2 1-0.6 1 0.7 1-1.7 1 1.6 1-0.3 1 1.3 1-1 1 0.8 1-4.6 1 3.9 1-0.6 1-0.1 1 0.3 1 0.1 1-2 1-1 1 0.8 1 1.4 1 0.8 1-0.4 1-1 1-2.7 1 2.9 1 1.1 1-0.1 1-0.5 1-0.2 1-3.8 1 2.4 1-1.3 1 1.7 1-0.2 1-5.4 1-0.8 1 1.1 1-1.4 1 2.2 0.7-4 0.3-0.1 1 4 1-0.4 1-0.3 1 3.3 1 0.6 1-0 1 1.7 1-1.5 1 2.5 1-0.6 1 0.3 1-0.8 1 1.3 1 0.7 1-0.8 1-0 1-3.1 1 3.2 1-2 1 2 1-0 1 0.2 1 1 1-0.1 1 0.3 1-1.2 1-3.8 1 4.7 1-3.2 1-1.4 1 3.4 1-1.7 1 2.1 1 0.4 1 0.1 1-0.1 1-1.9 1 0.8 1 1.1 1-3.1 1 2 1 1.3 1-1.5 1-2.9 1 0.2 1 4.1 1-2.1 1 1.1 1-2.8 1-0.4 1 5.5 1-4 1 3 1-1.4 1-3.1 1 0.1 1 4 1-4.1 1 3.9 1-0.4 1 1 1-0.5 1 0.4 1-2.5 1 2.2 1-2.9 1 3 1-3.1 1 0.7 1 1.9 1-1.5 1-2.1 1-0 1 3.7 1-0.1 1-2.8 1-0.8 1 1.6 1 2.7 1-0.2 1-0.4 1-0.6 1 1.4 1 0.4 1-1.9 1 0.8 1-0.4 1 1.2 1-0.7 1-2.9 1 2.6 1 0.7 1-2.6 1 2 1-2.4 1 1.1 1 1.1 1 0.2 1-2.6 1 2.7 1-1.5 1-2 1 3.6 1-0 1-0.4 1 1 1-2 1 1.6 1-0.2 1 0.6 1-3.8 1-0.5 1 2.9 1-1.1 1 0.4 1-1.7 1-0.8 1-0 1 2 1-0.9 1 3 1-2.6 1-0.9 1 3.8 1-0.6 1 0.8 1-0.9 1 0.2 1 0.7 1 0.3 1-1 1 0.9 1-3 1 2.3 1 0.2 1-1.2 1-0.1 1 1.3 1-2.3 1 0.7 1-0.2 1-2.4 1 3.8 1-0.5 1 1.4 1-2.1 1 1.6 1-0.1 1-0.6 1-0.4 1 0.6 1-0.1 1 0.2 1 0.9 1-4.8 1 3.9 1-0.8 1 1.6 1-0.6 1-1.3 1 1 1 0.5 1-0.5 1-0.6 1 0.7 1 0.5 1-3.7 1 2.9 1-3.7 1 2.8 1 1.9 1-0.3 1-0.1 1-1.9 1 2.4 1-4.6 1 3.9 1-1.9 1-0.8 1 2.9 1-0.3 1-1 1-2.2 1 0.8 1 2.1 1-2.5 1 2.3 1-1.6 1 2.4 1-4.4 1 3.7 1 0.2 1-0.2 1-0.9 1-1.1 1 2.4 1 0.9 1-4.9 1 4 1-3.4 1 3.4 1 0.3 1-3.1 1 3.3 1 1.1 1-4.2 1 0.8 1-1.2 1 1.8 1 1.5 1 0.1 1-0.7 1-0.6 1 0.8 1-1 1-2.1 1 2.1 1-1.7 1 2.8 1 0.1 1 0.2 1-1.7 1 1.6 1-1.3 1 1.5 1-1.7 1-1.9 1 2.4 1 0.5 1 0.5 1-0.3 1 0.2 1-2.9 1-0.1 1 0.7 1 1.7 1-1.5 1 1.3 1 1.5 1-0.5 1 0.3 1-0.9 1 0.4 1-1.3 1 1.9 1-1.8 1-0.9 1 1.8 1 0.4 1-0 1-1.3 1 0.5 1 1.9 1-4.4 1 2.5 1-0.6 1 1.3 1-2.8 1-1.3 1 4.2 1-0.8 1 0.3 1 0.1 1 0.3 1-3.9 1 4.7 1-1.8 1 0.7 1 0.9 1-1.6 1 1.5 1-3.1 1 0.2 1 0.1 1-1.8 1 4.3 1-0.5 1-1 1-2.7 1 1.9 1 0.8 1-0.7 1-0.4 1 2.5 1-3.5 1 0.5 1 2.6 1 0.3 1 0.7 1-2.8 1 1.8 1 0.3 1 0.3 1-0 1-2.6 1 2.8 1-2.9 1 1.3 1-0.2 1 0.9 1 0.8 1-4.4 1 0.7 1 2.9 1-0.5 1 0.1 1 2.2 1-3.5 1 2 1-0.2 1 1.3 1-0.9 1 0.2 1-4.3 1 3.8 1-0.2 1-2.1 1 2 1-1.5 1-0.5 1 1.8 1 0.3 1 0.9 1-0.4 1 0.7 1-4.2 1 2.5 1-3 1 2.9 1-2.2 1 3.6 1 0.2 1-1.4 1 0.3 1-2.1 1 3 1 0.1 1-0.6 1-1.2 1 1.1 1 0.2 1 0.4 1-0.5 1-1.9 1 1.6 1 1 1-0.9 1-3.8 1 3.7 1-3.6 1 4 1-0.2 1-3.9 1 4.2 1-0.4 1-0.1 1-1.6 1 1.6 1-3.7 1 0.3 1 0.6 1 1.1 1-0.8 1 3.4 1-2.6 1 2.2 1-0.7 1-3.7 1 1.3 1 2.9 1-1.6 1 0.3 1-2 1 2.3 1 1 1-3.2 1 3.7 1-1.7 1 0.7 1-0.1 1-3.8 1 4.1 1-0.3 1-1.9 1 2.9 1-0.8 1-3.4 1 2 1-0.5 1-4.4 1 3.5 1-3.1 1-1.3 1-2.8 1-0 0.6 0.5 0.4-1.3 1 2 1 0.7 1 1.8 1-1.6 1 1.8 1-2.9 1-0.6 1 4.4 1 0.6 1-0.8 1-2.4 1-2.1 1 1 1-1.4 1-0.4 1 3.2 1 3.1 1-0.8 1-1.1 1 2.8 0.65-1.2" fill="none" stroke="#000000" stroke-width="2.8" stroke-linejoin="round" shape-rendering="crispEdges"/><path d="M117.4 2394.1l0.6-2.7 1 4.9 1-4.9 1 3.6 1 0.6 1 0 1 0.2 1-0.7 1-2.1 1 0.6 1-0.1 1 2.7 1-0.1 1-4.7 1 1.2 1-1.2 1 0.7 1 3.6 1-3.8 1 1.5 1 1 1 1.1 1-0.6 1 0.2 1-2.3 1 1.8 1-3.3 1 4.2 1-1.7 1-0.1 1 1.9 1 0.2 1-3.3 1 1.2 1 1.4 1-1.1 1 1.5 1-1.1 1 1 1-0.9 1-1.9 1 2.6 1-2.3 1 2.8 1-0.5 1 0.8 1-0.9 1-0.2 1 0.3 1 0.1 1-3.4 1-0.2 1 4.3 1-3.7 1 4.1 1-0.8 1-0.4 1-0.4 1 1.1 1-0.3 1-0.7 1 0.7 1 0 1-2.1 1-0.6 1 2.3 1-0.1 1 0.1 1 0.3 1 0 1 0.4 1-2.3 1 1.6 1 0 1-0.6 1-0.7 1-2.2 1 3.6 1 0.2 1-0.8 1 1.1 1-3.7 1 0.9 1 0.5 1 1.8 1-1.9 1-0.7 1 1.3 1 1.4 1 1 1-3.5 1 2.6 1 0.3 1-2.7 1 1.3 1 1.8 1-0.9 1 0.1 1-2.6 1 3.8 1-1.2 1-0.2 1-3.5 1 4.2 1 1.2 1-1 1-1.6 1-1.3 1-1.6 1 2.6 1 1.5 1-2.7 1 2.2 1 0.1 1-0.2 1-3 1 3.7 1-0 1-0.7 1-0 1 0.6 1-0 1-1.6 1-2.3 1 1.5 1 0.1 1-1.3 1 4.4 1-0.3 1-0.6 1 0.3 1-0.2 1-0.8 1 1 1-0.6 1 1.1 1-0.8 1-3.9 1 3.6 1-1.1 1-0.9 1 2 1-1.7 1 0.9 1-1.2 1 2.2 1 0.5 1-0.3 1-0.3 1-1.7 1 1.5 1 0.1 1-0.1 1-2.8 1 3 1-4 1 4.5 1-0.4 1-2.5 1 0.8 1 1.9 1-0.5 1 0.4 1-2.6 1 0.7 1 1.9 1-1.5 1 1.2 1-0.2 1-0.2 1 0.6 1-1.4 1-0.1 1-0 1-1.6 1 2.8 1 0.9 1-0.7 1-0.9 1 0.5 1-1.4 1-0.6 1 2.1 1-0 1 0.6 1-3.2 1 2.7 1 0.6 1-0 1-0.5 1-3.9 1 1.8 1 3 1-1.1 1-0.8 1-0.8 1 0.7 1 1.3 1-1.5 1 1.4 1 1.2 1-1.1 1-0 1-2.8 1-0.2 1 3.3 1-1.2 1 0.2 1 1.2 1 0.5 1-1.4 1-0.4 1 0.7 1 1.6 1-1.9 1 0.4 1 0.2 1-0.4 1 0.6 1-2.1 1 1.2 1 0.4 1-1 1 0.7 1 1 1-0.9 1 0.2 1 0.9 1-0.7 1-1.5 1 1.5 1-3.8 1-0.2 1 3.8 1-1.6 1-2.3 1 3.9 1 0.4 1-0.3 1 0.6 1 0 1-1.5 1 0.8 1-0.9 1-0.6 1 1.8 1-0.4 1 0 1 0.4 1 0.1 1-1.4 1 0.8 1-0.9 1-1.5 1-0.1 1 3.2 1-0.2 1-0.4 1-0.5 1-2 1 3 1-0.4 1-0.9 1-2.4 1-0.4 1 4.1 1-0.6 1 0.4 1-2.6 1 1 1 1.3 1 0.1 1-1.1 1-1.7 1 2.9 1-0.3 1-0.4 1 0.2 1-0.8 1 1.6 1-0.3 1 1.1 1-1.7 1-2.4 1 4 1-1.1 1-2.6 1 2.3 1 1.3 1-4.2 1 3.9 1-4.3 1 3.7 1 0.1 1-0.6 1 0.1 1-1.4 1 0.2 1 1.3 1-3.3 1 1.5 1 1 1 0.3 1 0.4 1 0 1-1.7 1 0.5 1 1 1-2.3 1 2.6 1-1.2 1-1.1 1 2.9 1-0.6 1-3.8 1 4.3 1-3.5 1 3.5 1-1.7 1 1.7 1-0.4 1-0.2 1 0.1 1-2.8 1 0.4 1-0.1 1 1.5 1-3.1 1 1 1 1.6 1 1.4 1-2.7 1-0.3 1 0.6 1-2.8 1-2.2 1-0.5 1-4.1 1-0.5 1 1.1 1 3.5 1 2.7 1 1.4 1-1.8 1 0.6 1 4.3 1 0.7 1-0.4 1 0.4 1-0.2 1-1.2 1 1.7 1-2.1 1-0.3 1-1.7 1 0 1 1.2 1-1.2 1 4 1-1 1 0.3 1-0.7 1-1.4 1 2.7 1-3.9 1 0.6 1 2.2 1-0.3 1 1.9 1 1 1-1.7 1-0.8 1 0.2 1 1.4 1-0.5 1-4 1 1.9 1 0.3 1 1.7 1-2.1 1-1.3 1 1.3 1 2.1 1-1 1 1.3 1-0.5 1-1.6 1 1.8 1-0.2 1-3.6 1 3.5 1-2 1 2.1 1 0.5 1-0.9 1 0.3 1 1.1 1-0.7 1-0.7 1-4.2 1 3.3 1-1.5 1-3.1 1-1 1-0.3 0.4-3.9 0.6 0.7 1 6.5 1-2.3 1 2.4 1-0 1 2.7 1-1.4 1-1.5 1 0.2 1 0 1 1.1 1 0.3 1 0 1 3.1 1-4.4 1 3 1-0.1 1 0.4 1-0.8 1 2.7 1-2.1 1 1.5 1-0.2 1 0.6 1-0.1 1-2.6 1 1.7 1-0.2 1 0.1 1 0.7 1-0.3 1 0.4 1-0.7 1 1.3 1-1.3 1-2.5 1-0.6 1 0.1 1 1.6 1 1.9 1-2.9 1 0.9 1 0.6 1 1.5 1-1.8 1-2.4 1 1.6 1 1.9 1-1.5 1 1.3 1-0.5 1-1.6 1 1.2 1 0.6 1-0.8 1 1.5 1 0.1 1-2 1 1.5 1-2 1 2.2 1-4.8 1 1.9 1-4.9 1 4.5 0.5-0.8 0.5-4.4 1 3.9 1 0.8 1 1.4 1 0.6 1-0.5 1 2.2 1-0.5 1-3.1 1 2.7 1 0.9 1-0.6 1-2.3 1 2.7 1 0 1-1.3 1-0.9 1-1.5 1 3.7 1-1 1-1.6 1 3.8 1-1.7 1-0.8 1 1.1 1 0.5 1-2.1 1-1.8 1 2.7 1-0.4 1-1 1-4.7 1 0 0.2 2.9 0.8 1.2 1 1 1 0.2 1 0.7 1-0.4 1 1.8 1-0.6 1-1.4 1 2.5 1-4.8 1 2.1 1 0.1 1 2.2 1-0.3 1-3.4 1-0.1 1 3.2 1-5.6 1-0.5 1-1.2 1 1.6 1-0.8 1 2.6 1-0.3 1-1 1 2.6 1-0.5 1 2.9 1 0.7 1-0.8 1-2.4 1-1 1 3.7 1-0.7 1 1 1 1 1-1.5 1-0.6 1 1.1 1-0.2 1 1.2 1-1.6 1-3.2 1 3.3 1-1.6 1 0.3 1 1.5 1-1.4 1 0.6 1-5.1 1 1.6 1-0.4 1-1.3 0.7-5 0.3 2.1 1 1.7 1 3.7 1 1 1 1.6 1-2.9 1 3.5 1-3.8 1 2.4 1 1.6 1-3.4 1 4.8 1-0.9 1-0.4 1-2.9 1-0.1 1 1.6 1 2.2 1-1.1 1 0.2 1-4.2 1 2.7 1-3 1-3.9 1 1.2 1-4.4 1 0.4 0.3-0.6 0.7 0.5 1 1.9 1 2.4 1 2.8 1-2.2 1 5.1 1-0.5 1 1.2 1 1.6 1-3.9 1 1.9 1 1.8 1-0.5 1 0.7 1-1.9 1-2.8 1 0.6 1 4 1 0.3 1-2.6 1-2.2 1 3.3 1-2.4 1 3.6 1-0.9 1-1.2 1 1.4 1-0.1 1-1.9 1 2.1 1 0.3 1-2.6 1 1.2 1 1.3 1-1.8 1 1.4 1-2 1 1.5 1 0.3 1 0.3 1-1.2 1 0.5 1-3.8 1 3.5 1 0.8 1-4.7 1 4.8 1-5.4 1 3.8 1-4.6 1 2.6 1-2.8 1-1.5 1-5.6 1-12.9 1-17.4 1-24.2 1-8.6 1 7.8 1 17.2 1 18.9 1 11.2 1 11.6 1 4.2 1 2.2 1 0.7 1-1 1 2.5 1 0 1 0.5 1-0.4 1 1.9 1-2.8 1-0.7 1 3 1-0.5 1 0.6 1-3 1 1 1-2.1 1 3.8 1 0.5 1-0.2 1 0.5 1-1.4 1-0.2 1-1.5 1 1.3 1 1.2 1-3.4 1 1.7 1-0.6 1 2.9 1-0.3 1-0.1 1-0.2 1 1.3 1-4.5 1 3.1 1-2.3 1 0.2 1-1.7 1 2.1 1 0.5 1 1.5 1-0.9 1-3.2 1 4.8 1-0.7 1-1.3 1-2.8 1 4.3 1-0.4 1-0.8 1-3.1 1 4.2 1-0.6 1-2 1 2.4 1-1.5 1-0.1 1 1.3 1-1.2 1-2.6 1 3.1 1 0.8 1 0.2 1-1.3 1-2 1 2.1 1-0.5 1-2.7 1 3.9 1 0 1-2.1 1 0.2 1-2.9 1-3.4 1 0.2 1-0.2 0.5-1.7 0.5 0.2 1 2.5 1 2 1-0.4 1 3.2 1 1.7 1-2.1 1 2.5 1 0.2 1-2.1 1 2.4 1-0.4 1 0.6 1 0.4 1-1.9 1-2.7 1 4.2 1-3.5 1 0.2 1-0.9 1 4.3 1-0.3 1-4.1 1 3.5 1-0.1 1-1.8 1 0.2 1 2 1-0.3 1-1.9 1 0.8 1 1.2 1-3.9 1 0.9 1 2.3 1 0 1-3 1 3.9 1-2.5 1 0.6 1-0.4 1-3.3 1 0.7 1-3.4 1 2.6 1-2.7 1 0 1-6.6 1-2.1 1-11.6 1-24.7 1-41.5 1-60.5 1-59.6 0.6-7.9 0.4 4.6 1 32.9 1 44 1 48.4 1 41.3 1 21.7 1 11.9 1 4.2 1 5.9 1-1.5 1 0.9 1 4.3 1 1.1 1 0.6 1-1.7 1-1.5 1 4.6 1 0.6 1-1.3 1-0.2 1-0.9 1 2.5 1-2.3 1-0.8 1 4.1 1-0.9 1-1.8 1-0.3 1 2.4 1 1 1-0.8 1 0.5 1-0.7 1-3 1 3 1-1 1 0.9 1-3.9 1 1.4 1-2.4 1-8.5 1-1.7 0.7-1.9 0.3 3.4 1-2.9 1 3 1 7.2 1 2.9 1 1.9 1-2.1 1 4.3 1-1.8 1-2.5 1 3.2 1-3 1 3.4 1 0.4 1-2.5 1 2.4 1-0.3 1 0.6 1 0.6 1-0.6 1-2 1-0.9 1 2.7 1-0.9 1 1.5 1-0.5 1 0 1 0 1-0.4 1-0.6 1-2.1 1 1.1 1 0.6 1 2.2 1-0.3 1-0.8 1-0.1 1-1.5 1 3.2 1-1.8 1 0.1 1 0.6 1 0.4 1-1.3 1 0.8 1-1.4 1 2.8 1-0.8 1-4.2 1 2.9 1 1.2 1-0.3 1 0.7 1-4.4 1 0 1 1.2 1-0.7 1 1.8 1-2.1 1 1.7 1-1.9 1 3.4 1 0.2 1 0.3 1-0.1 1 0.8 1-4.4 1-0.2 1 1.6 1-0.7 1 1.9 1-0.7 1 2.3 1-0.9 1 1.3 1-0.9 1-0.3 1 0 1 0.6 1-4 1 0.7 1 2.9 1 0.5 1-0.5 1-2.8 1 3.8 1-3.4 1 2.1 1 0.2 1-2.8 1 2.4 1 0.4 1-3.3 1 4.3 1-4.7 1 4.1 1 0 1-4.1 1 0 1 0.5 1 3.7 1 0.9 1-2.3 1 0.6 1 0.5 1-0.3 1 0.4 1-2.7 1 2.2 1 0.1 1 1.4 1-2.3 1 1.8 1-3 1 1.8 1 1.5 1-1.1 1 0.5 1-2.3 1 0.2 1-1.4 1 3.2 1-1.9 1 2.3 1-1.9 1 1.1 1-0.8 1 0.6 1-2.5 1 2.8 1-0.1 1-3.6 1 3.5 1 0.3 1 0.2 1-0.8 1 0.1 1-1.7 1 1.8 1-2 1 1.9 1-3.8 1 3.4 1-1.9 1 0.5 1 1.6 1-3.9 1 2.1 1-4.1 1 0.5 1-6.1 1-8.9 1-8.8 0.6-2.7 0.4 0.3 1 5.3 1 4.7 1 6.2 1 3.7 1 4.3 1 3.4 1 0.4 1-1.3 1 2.3 1 2.9 1-0.8 1 0.2 1-2.1 1 0.8 1-1 1 3.1 1-4.8 1 3 1-3.4 1-0.3 1-0.2 1-2.2 1-3.3 0.3-1.3 0.7 3.8 1 1.3 1 2.2 1 0.9 1 1.5 1 0.8 1-0.9 1 2.3 1 0.7 1-0.4 1-0.1 1-0.4 1 0.1 1 0.4 1-1.5 1 1.3 1 0.1 1-1.3 1-4.5 1 3.3 1-4.6 1 4.3 1-1.1 1 3.8 1-0.4 1-3.1 1 4.5 1-0.1 1-1.2 1 0 1 1.9 1-0.2 1-1.5 1 0 1-1.1 1 1.9 1-1.6 1-1.3 1 3.7 1-3.3 1 0.6 1-1.3 1 3.3 1-0.2 1-0.2 1 0.5 1-2.7 1 1.8 1 1.3 1-1.3 1 1.4 1 0.3 1-0.4 1-0.7 1-0.3 1 0.3 1-1.3 1-2.3 1 4.3 1-1.7 1 0.3 1 1.5 1-0.5 1-0.8 1 0.4 1 0.6 1-2.3 1 1.2 1-0.9 1-2.1 1 4.4 1-3.2 1 1.2 1 1.7 1-0.5 1 0.2 1 0.6 1-2.7 1 2.4 1 0.9 1-3.4 1 2.3 1-1.2 1 0.4 1 0.7 1 0.1 1 1.5 1-1.5 1 0.5 1-2 1 1.8 1-0.1 1-0.7 1 1.1 1-0.3 1-0.2 1-1.2 1 1.9 1-2.8 1 1.9 1 0.3 1-1.2 1-1.6 1-0.3 1 3.4 1-3.9 1 3.1 1-3 1 3.8 1-0.7 1 0 1 0.8 1-0.6 1-2.4 1-0.5 1 1.1 1 0.9 1 0.9 1-3.9 1 4.5 1-0.1 1-0.2 1-1 1 0.7 1-2.1 1 2.9 1-3 1-1.7 1 1.6 1 2.3 1 0.2 1-3 1 3.8 1-0.7 1 0.7 1-1.1 1-3.7 1 3.9 1-2.8 1 3.2 1-0.4 1 0 1-2.8 1 3.1 1-0.1 1-0.5 1-3.6 1 3.5 1-3.5 1 2.7 1 1.1 1-2.9 1 3.1 1 0.3 1-0.9 1 1.3 1-0.2 1-0.3 1-0.6 1-2.3 1-0.3 1 2.8 1-0.6 1 0.7 1 0.8 1-1.9 1 1.4 1-2.2 1 2.1 1 0.3 1-1.5 1 1.1 1 0.6 1-3.3 1 1.6 1 0 1 0.6 1 0.5 1 1.5 1-1.5 1-0.1 1-1.3 1 1.9 1-2 1 1 1-3.3 1 3.9 1-0.5 1-0.6 1-0.8 1-1.6 1 1.9 1 2 1-4.5 1 4.9 1-2.8 1-1.6 1 3.5 1-0.5 1 0.1 1 0.7 1-1.6 1 1.5 1-1.4 1-0.7 1-1.1 1-0.6 1 2.2 1-0.2 1 1.3 1-0.1 1-2.2 1 0.3 1 0.7 1 1.1 1-2.4 1 3.2 1-0.4 1-0.9 1-2.2 1 3.5 1-0.1 1 0 1-2.5 1-0.2 1-1.7 1-0.1 1 4.4 1-0.7 1 0.1 1 0.4 1-1 1 0.3 1-0.9 1 0.3 1 0.2 1-3.3 1-2.1 1-2.3 1-4.5 1-4.6 0.4-1.2 0.6-0.8 1 2.8 1 3.9 1 1.9 1 4.8 1 0.3 1 3.4 1 0.9 1 1.1 1 1 1-3 1 1 1 1.7 1 0.4 1-0.6 1-2.4 1 0.8 1 1.2 1-2 1 1.4 1 1.5 1-2.2 1 1.5 1 0.6 1-3.2 1 1.7 1 2 1-2.8 1 1.3 1 0.7 1 0 1 0.4 1 0.3 1-1.6 1-0.4 1 1.3 1-0.8 1 0.8 1 0 1-1.4 1 0 1-2.1 1 3.6 1-1.1 1 0.9 1-0.6 1-2.4 1 1.9 1 1.5 1-0.3 1 0.1 1-0.3 1 0.3 1-0.1 1-0.2 1-0.9 1 1.3 1-0.7 1 0.1 1-1.9 1 1.4 1-0.7 1 0.6 1-2 1 2.7 1 0.9 1-1.8 1 1.4 1 0.8 1-2.6 1 1.1 1-0.5 1-0.7 1 1.1 1-2.6 1 2.3 1 0.2 1-0.4 1 1.3 1-2.7 1 1.8 1-2.1 1 0.5 1-0.8 1-0.4 1-5.8 1 1.5 1-8.6 1-12.6 1-17.2 1-16.4 0.2 2.5 0.8 1.8 1 13.4 1 7.3 1 3.7 1 9.7 1 8.9 1 2.4 1 5.2 1 4.2 1 0.3 1 0.5 1-2 1 2.3 1 1.5 1-2.1 1 2.3 1-1.6 1 1.8 1 1.7 1-5.5 1 4.3 1-2.9 1 0.9 1 1.8 1 0.5 1-4.4 1 3.1 1-2.4 1 2.2 1-1.4 1 1.7 1 1.4 1-0.3 1-1.4 1 1.7 1-0.5 1-0.2 1-2.6 1-1.1 1 5 1-2.3 1-2.6 1 4.5 1-0.2 1-3.5 1 2.3 1 0.8 1-0.9 1-1.2 1 1.4 1-0.6 1 0.4 1-0.4 1 0.4 1-0.5 1 1.2 1-2.8 1 2.9 1 0.1 1 0.6 1-0.5 1-1 1 0.6 1-1.6 1 2.3 1-0.4 1 0.9 1-1.1 1-2.5 1 1.1 1 1.4 1-1.5 1 0.5 1 1.3 1 0.1 1 0 1-1.8 1-0.3 1 0.4 1 1.2 1-3.7 1 3.6 1-1.3 1 0.8 1-2 1 3.6 1-2.4 1 1.4 1 0 1 0.6 1-0.2 1-3.4 1 0.8 1 3.1 1-1.6 1 0.9 1-2.9 1 1.5 1-0.7 1 1.8 1-0.2 1 0.6 1 0.6 1-0.6 1-3.3 1-0.3 1 3.8 1-0.1 1-0.1 1 0 1 0.3 1-0.4 1-2 1-0.2 1-1.9 1 3.7 1 1.4 1-1.1 1 0.3 1-0.5 1 0.3 1-2.8 1 2.7 1-0.6 1-3.6 1 3.5 1 1 1-3.3 1 0.9 1-0.4 1-0.5 1 2 1-0.3 1-1.5 1 0.9 1-1.4 1-4.7 1 0.5 1-8 1-14 1-16.7 1-18.9 0.6-7.5 0.4 5.7 1 9.4 1 16.3 1 3.2 1 3.1 1 8.1 1 6.9 1 9.4 1 3 1 4.2 1 0.4 1 1.3 1-0.3 1-0.8 1 0.2 1 0.1 1 1.8 1-1.6 1 1.7 1-3.3 1 3.3 1-2.8 1 3 1-1.7 1 1.1 1 1.6 1-2.5 1 2.1 1 0.7 1-1.6 1-2.2 1 0.9 1 2.3 1 0.6 1 0.7 1-1.4 1-0.1 1-0.3 1-2.9 1 3 1 0.6 1 0 1-0.1 1-0.1 1-1.2 1 1 1-0.2 1-0.2 1-0.3 1-1 1-1.2 1 3.4 1-0.5 1-0.2 1 0.1 1-1.9 1 0.2 1 2 1-4 1 2.5 1-0.4 1 2 1-2.2 1 2 1 0.4 1-0.9 1 0.9 1 0 1-1.8 1-0.8 1 2.3 1-2.6 1-0.5 1 0.1 1 1.8 1 1 1-3.7 1 3.7 1-1.3 1-1.5 1-1 1 2.8 1 0.1 1-0.6 1 0.7 1-2 1 0.1 1-1.1 1 3.6 1-1.8 1 2.2 1-0.2 1-3.6 1 3.5 1 1.1 1-0.9 1 0 1 0.9 1-1.8 1-1.5 1 2.4 1-2.7 1 3.7 1-3.1 1 1.7 1-3.5 1 3.4 1 0.1 1 0 1 0.2 1 0.1 1-1.9 1 0.9 1 0 1 0 1 1.2 1-4 1 4.2 1-2.8 1 2.3 1-2.6 1 2.6 1-2.7 1 1.3 1-1.5 1-0.8 1 3 1 0.1 1 2 1-1.7 1-2 1 2.3 1-0.5 1 0.4 1 1.1 1-3.3 1 2.5 1 0.5 1-3.3 1 1.3 1-0.3 1 1 1 0.9 1-2.6 1 2.7 1-1.3 1 1.3 1 0.1 1-2.7 1 2.5 1-4.1 1 4.4 1-3.4 1 2.8 1-2.1 1 0.1 1 3 1-2.7 1 1.7 1 0.4 1-3.1 1 1.6 1-0.1 1-2.3 1 0.9 1 2 1 0.9 1-4 1 3.9 1 0.6 1-4.6 1 0.1 1 4.6 1-2.1 1 1.9 1-2.5 1 1.9 1 0.6 1-3.2 1 2.9 1-1.7 1 1.5 1-4 1 1 1 2.9 1 1 1-2.4 1 1.6 1-3.4 1-0.8 1 3.4 1-2 1 3.1 1-2.4 1-2.1 1 4.5 1-2.8 1 1.1 1-1.4 1 1.8 1 0.3 1-2.8 1 2.6 1-1.1 1 2.1 1-2.1 1-0.9 1 1.4 1-0.8 1 0.5 1-1.6 1-0.9 1 0.5 1-2.9 1 2.6 1 3.3 1-3.9 1 4.8 1-0.1 1-0.1 1-0.6 1-3.5 1 3.8 1-1.5 1 2.3 1-0.6 1-3.9 1 0.5 1 0.9 1-1.4 1 2.2 1 0.1 1 2 1 0.3 1-0.6 1-0.2 1 0.3 1-2.3 1-1.8 1 3.5 1 1.2 1-0.3 1-3.3 1 0.6 1 1.3 1-0.9 1-1.2 1 2.5 1-0.6 1 1.1 1 1.1 1-1.7 1 0.3 1-0.9 1 1.4 1-1.5 1 0.1 1 1.3 1 0.3 1-0.2 1-1.3 1-1.2 1-1.5 1 3.6 1-1.3 1-1.6 1 3.5 1-2.2 1 1.8 1-0.1 1-2.1 1 2 1-1 1 1.6 1-0.8 1 0.6 1-0.5 1-3.8 1 3.3 1 0.3 1 0.1 1 0.2 1-4.1 1 3.9 1-4.2 1 3.5 1-3.5 1 1.7 1-0.9 1-3.3 1-7.1 1 1.3 1 3.2 1-1.7 1 5.9 1-0.1 1-4.4 1 5.2 1 0.9 1-0.4 1 1 1 0.7 1 2.4 1-2.8 1 2.7 1-0.8 1 1.2 1-4.2 1 3.8 1-0.2 1 0.3 1-1.5 1 1.7 1-1.3 1-0.6 1-4.6 1 2.8 1-0.5 1-0.1 1-1.2 1-0.1 1 3 1 0.3 1-1.9 1 3.3 1-0.8 1 1.6 1-0.3 1 0.5 1-4 1 1.5 1 0.2 1 2.5 1-1.1 1 0.8 1 0 1 0.5 1-0.5 1-3.9 1 3.9 1-2.2 1-0.7 1 1.2 1-0.7 1 2.7 1-4.2 1 0 1 3.2 1 0.8 1 0.1 1 0.4 1-2.6 1-0.5 1-1.4 1 4.5 1-3.2 1 0.4 1 2 1 0.5 1-1.4 1-2.7 1 4.4 1-0.4 1-0.1 1-0.3 1-2.8 1 3.1 1 1.3 1-0.8 1 0 1-1.6 1 0.2 1 1.3 1-2.6 1 3.1 1-1.2 1-3.4 1 4.3 1-2.6 1-1 1 2.9 1-0.8 1 1.5 1-1.9 1 1.7 1-0.5 1-1.4 1 1.3 1 0.5 1-0.7 1 0.2 1 0.4 1 0.8 1-1.2 1-2.3 1 2.6 1 0 1-0.1 1-1.3 1 2.1 1-2.9 1-1.7 1 2.4 1 1 1-0.9 1-0.2 1 1.4 1-0.1 1-0 1-1.4 1-2.3 1 3.2 1-3.2 1 4.2 1-2.5 1 2.3 1-0.8 1 0.3 1 1.3 1-1.2 1-1.1 1 0.2 1 1.8 1-0 1-2.6 1 2.3 1-4.3 1 2.8 1-0.1 1 1 1 0.5 1-1.3 1 0.9 1-3.7 1 3.1 1-0.2 1-1.9 1 0.2 1 3.8 1-5 1 4.7 1-0.4 1-0.5 1 0.4 1-4.2 1 3.4 1 1 1-0.5 1 0.3 1-0.1 1-1.5 1-0.4 1 1.5 1 0.8 1-0.5 1-2.8 1 0.9 1 1.6 1-2.1 1 3.2 1-0.9 1-0.6 1-0.6 1-1.8 1 2.3 1-0.5 1 0.3 1 1.2 1-0.7 1-3.6 1 1.7 1 2 1-0.4 1-3.4 1-0 1-0 1 0.4 1 3.3 1-0 1 1.1 1-4.3 1 0.1 1-0.5 1 4 1-4 1 2.1 1 1 1-0.4 1 1.6 1-0.8 1 0.7 1-0.3 1-1 1 1 1-2.2 1 2.4 1-0.1 1-0 1-1 1-0.2 1-1.8 1 2.8 1 0.2 1-1.3 1-2.7 1 1.3 1 3.6 1-1.8 1 0.7 1-0.1 1-2.4 1 1.9 1 0.3 1 1.1 1-1.1 1 0.5 1-1.4 1-1.9 1 3.4 1-0.5 1-1.8 1 2.8 1-0.6 1 0.5 1-0.6 1-0.4 1 0.2 1-3.7 1 1.4 1 1.4 1-2.3 1-0.6 1 3.8 1-0.1 1-1.2 1-1.7 1 4.2 1-1.5 1-3.4 1 3.2 1-3.1 1-0.1 1 1.4 1-1.3 1 3.1 1 1.6 1-1 1-3.8 1-0 1 1.8 1 2.9 1-1.5 1 1.7 1-1.9 1-3 1 4.2 1-0 1-0.3 1-0.1 1-1.9 1 0.6 1-1 1 2.8 1-3.9 1 1.3 1 2.5 1-0.2 1-0 1 0.8 1-4.7 1 1.7 1 1.4 1-2.7 1 3.2 1-0 1-3.5 1 4.1 1-0.1 1 0.6 1-0.8 1-3.3 1 3.2 1-3.9 1 3.9 1-1.1 1 1.5 1-2.7 1-1.6 1 3.7 1 1 1-1.2 1-2 1 2.6 1-4.1 1 4.4 1-2.6 1-1.9 1 2.5 1-2.4 1 2 1 1.7 1-0 1-3.8 1 4.8 1-2.1 1 1.4 1-0.3 1-2.6 1 2.8 1 0.4 1-4.4 1-0.4 1 2.5 1 0.1 1-1.1 1-2.7 1-0.8 1 0.4 1 0.7 1 2.8 1-0.7 1 2.1 1-0.6 1 1.3 1-0.9 1 1.6 1-0.5 1 0.7 1-2.3 1 1.9 1 0.1 1-0 1 0.1 1 0.1 1-2.2 1 0.2 1-1 1 2.7 1-1.1 1 2.1 1-3.6 1 2.9 1-3.9 1 1.4 1-1.8 1 2.2 1 1.9 1-4.1 1 0.4 1 0.3 1-0.6 1 3.5 1 1.7 1-1.5 1 0.2 1-2.1 1 2 1-1.8 1 2.2 1-3.5 1 1.2 1 2.2 1-4 1-0.1 1 1.9 1 2 1-1.4 1 0.6 1 0.8 1-0.3 1 0.1 1 0.8 1-1 1 0.7 1-0.8 1 0.1 1-2.3 1 2.5 1-0.9 1 1.5 1-4 1-0.7 1 3.6 1-1.6 1-0.6 1 1.6 1-3 1 1.5 1-2.7 1-3.6 1-3 0.5 0 0.5-3 1 5.4 1 4.3 1 2.2 1-0.4 1-0.3 1-3.3 1 1 1 0.5 1 0.1 1 3.2 1-0.4 1-1.1 1 1.7 1 3.1 1-4.6 1 2.3 1-0.7 1-2 1 3.7 1-1.4 1 2.8 1-5 1 3.6 0.75 0.1" fill="none" stroke="#008000" stroke-width="2.8" stroke-linejoin="round" shape-rendering="crispEdges"/><path d="M117.4 2574.4l0.6-0.2 1 0.1 1-0.5 1-3.9 1 4.6 1-3.4 1-0.8 1 3.3 1 0.3 1-1.6 1-1.8 1-0.7 1 1.4 1-1.4 1 3.9 1 0.3 1 0.7 1-0.4 1-0.6 1-0.7 1 1.3 1-2.9 1 2 1 0.4 1 0.1 1-4.2 1 3.2 1 1.1 1 0.1 1-4.4 1 4.1 1-3.3 1-0.6 1 5.1 1-4.9 1 3.4 1 0.6 1-0.4 1-1.8 1 0.5 1-0.2 1 1.5 1-3.6 1-0.5 1 0 1 1.2 1-1.2 1 0 1 1.9 1-0.4 1 0.7 1 0.1 1-0.8 1 3.3 1-1 1-1.4 1 2.7 1-0.4 1-4.7 1 4.4 1-0.4 1-1.2 1 1.2 1 0.3 1-0.2 1-0.1 1 0.1 1-0.8 1-3.2 1 2.8 1-2.8 1 1.8 1-0.2 1 0.6 1 1.6 1-1.3 1 0.3 1 1.6 1-2.6 1 0.4 1 0.5 1 1.3 1 1.5 1-5.4 1 3.5 1 1.5 1-3.1 1 2.1 1-2.2 1 1.7 1-2.8 1 2.2 1-0.1 1 0.3 1-2.6 1 3.9 1-3.8 1 1.2 1 2.1 1-0.4 1 0.4 1-0.5 1-2.1 1 2.7 1-2.3 1-0.5 1 0.7 1-2 1 3.6 1-1.7 1-1.9 1 3.5 1 0.1 1-0.1 1-1.4 1 1.9 1-0.3 1 1.1 1-0.5 1 0 1 0.2 1-0.6 1-2 1 2 1 0.7 1-1.6 1 0.2 1 1.4 1-1.4 1 1.2 1-0.4 1 0.1 1-2.5 1 2.6 1-0.3 1-0.7 1-2 1-0.4 1 3.6 1-3.6 1 2.1 1-2.2 1 0.4 1 2.9 1-0.5 1 0.3 1-1.1 1-2.7 1 3.5 1 0.6 1-4.1 1 4.3 1-0.7 1 0 1 0.9 1-2.8 1-0.6 1 2.6 1-0.2 1 0.2 1 1.2 1-1.9 1 1.5 1-0.2 1-1.6 1-1.2 1 2.8 1-3.4 1-0.8 1 3.2 1 0.4 1-0.5 1 0.8 1 0.3 1-2.2 1-0.2 1 2.2 1-0.1 1 0.1 1 0.1 1 0.2 1 0.4 1-3.3 1 2.4 1-0.4 1-3.4 1 3.9 1-1.7 1 2.3 1-0.5 1-2.2 1 1.9 1 0.8 1 0.1 1-1.9 1 1.5 1-2.3 1 1 1 0.9 1-0.2 1-1.9 1 1.8 1 0.7 1-1.4 1 1 1-0.1 1-1.5 1 0.6 1-1.6 1 2.5 1 0.2 1 0 1-1.1 1 1.4 1-0.3 1 0.4 1-0.1 1-0.5 1-3.7 1 3.9 1-0.9 1 0.4 1 0.3 1-0.2 1-3.5 1 3.8 1-3.8 1 2 1 2.2 1-0.2 1-0.1 1 0.5 1-3.5 1 1.7 1-0.3 1 2 1-1.8 1 1.4 1-4 1 3.7 1-0.8 1-0.2 1 1.2 1 0 1 0 1-2.3 1 2.5 1-0.3 1-0.9 1 1.1 1 0.6 1-0.1 1-0.6 1 0.4 1-3 1 2.2 1 0.1 1 0.7 1-2 1 1.5 1 0.4 1-0.2 1-4 1 4 1 0.2 1-3.3 1 0.9 1 2 1-3.4 1 4.1 1-0.6 1 0.8 1-4.4 1 3.1 1-3.5 1 2.6 1-0.1 1 1.9 1 0.1 1-0.5 1-2.4 1 2.8 1 0.9 1-3.5 1-0.2 1 2.7 1-1.5 1-1.6 1-0.1 1 3.7 1-1.1 1 0.6 1-2.7 1 2.1 1 0.9 1-0.9 1-1.1 1 2.3 1-0.1 1-0.6 1-0.2 1 0.2 1 0.9 1-0.2 1-1.1 1-0.8 1 1.4 1-0.8 1-3.5 1 3.8 1 0.2 1 0.1 1-1.4 1 0.6 1-0.1 1 0.7 1-1.1 1-0.1 1 0.9 1-2.7 1 3.7 1-2.7 1 1.7 1-2 1-1.7 1 3.5 1 0.2 1-0.2 1-3.2 1-0.5 1 3.2 1-1.2 1-2.2 1 2.2 1 2 1-0.9 1-1 1-2.6 1-0.2 1-5.2 0.8 3.2 0.2-3.9 1 5 1-2 1 4.2 1-1.8 1 0.4 1 0.4 1 1.3 1 3.1 1 0.1 1 1.5 1-5.5 1 0.5 1 0.6 1 3.3 1-4.3 1 4 1-2.6 1 3.3 1-0.7 1-3.4 1 0.5 1 3.2 1-0.6 1-2.9 1 4.1 1-3.2 1 3 1-2.7 1 1.8 1-2.6 1 2.8 1-0.2 1 0.1 1 0.4 1-0.5 1 0.5 1-0.3 1-2 1 1.9 1-2.8 1 0.9 1-0.3 1 2.8 1-1.8 1-2.5 1 1.2 1-0.7 1-0.7 1 4.7 1-2.5 1 0.1 1 1.5 1 0.8 1-1.3 1 0.5 1-3.7 1 0.4 1 3.4 1 0.5 1-0.1 1-0.6 1 0.5 1-4.1 1 4.5 1-0.8 1-0.4 1-0.7 1 1.7 1-0.5 1-0.6 1-0.4 1 1.3 1-0.3 1-0.7 1-3 1 4.4 1-2.6 1-1.9 1 4.6 1-4.5 1 0.1 1 3.2 1-2.2 1-1.1 1 3.6 1-0.8 1 1.4 1-0.2 1-0.8 1 0.3 1-3.6 1 3.7 1 0.7 1-3.1 1-0.1 1 1.3 1 1.1 1 0.5 1-0.1 1-4 1 1.5 1 1.7 1-0.8 1 1.4 1 0.4 1-0.3 1-0.4 1 1.2 1-0.2 1 0.2 1-0.9 1-1.8 1 2.5 1-0.1 1 0.3 1-0.8 1 0.5 1-0.1 1 0.1 1-4.4 1 3.6 1 0.4 1-0.1 1-2.4 1-0.3 1 1.7 1 2.1 1-3.8 1-0.2 1 0.7 1 0.8 1 0.9 1-2.6 1 3 1-2.7 1 2.9 1-0.1 1-0 1 0.1 1-0.1 1-2.1 1-1.8 1 4.1 1 0.2 1-3.7 1 3.2 1-0.9 1 0.3 1-1.8 1 2.8 1-3.3 1 0.8 1 3.5 1-1.5 1 0.2 1-1.2 1 1 1 0.5 1-0.3 1-1.1 1 0.7 1 0.3 1-3.7 1 2.3 1 2.1 1-1.1 1-0.5 1 1.5 1-1 1 0.9 1 1 1-2.4 1-0.7 1-0 1 1.6 1 0.3 1-0.9 1-0.5 1-1.2 1-1 1 1.3 1 2.3 1-0.4 1 0.9 1-2.7 1 0.4 1-1.5 1 1.7 1-2.4 1 4.1 1-1.4 1 1 1-0 1 1.1 1-0.7 1 0.8 1-1.1 1 0.3 1-0.9 1 1.6 1-0.9 1-0.2 1 1.4 1-5.2 1 2.5 1 1.7 1-4.2 1 0.5 1 4.9 1-1.5 1 0.2 1-0.5 1 0.7 1-0.5 1-0.2 1 1.9 1-2 1-3.1 1 3.1 1-2.5 1-1 1 3 1-0.2 1-0 1 1.2 1-3.9 1 2.6 1-0.3 1-1 1-1.2 1 4.5 1-0.3 1-1 1-1 1 2.1 1 0.1 1-2.8 1 0.1 1 1.9 1-0 1 0.2 1 0.4 1-0.2 1-1 1 0.5 1-2.3 1 3.1 1 0.3 1-2.5 1 1.9 1-0.4 1-0.3 1 1 1 0.1 1-1.5 1 2.4 1-3.3 1 2.6 1-3.1 1 1.2 1 0.2 1-0.6 1 0.9 1 1.1 1-2.8 1 1.7 1-0.9 1 1.1 1 0.1 1-2.3 1 0 1 1.7 1 1.3 1-0.2 1 0 1-3.2 1 1.4 1 0.9 1 0.2 1 0.4 1-2.5 1 2.6 1-0.1 1-2.6 1 0.4 1 1.5 1 0.7 1-0.1 1-3 1 1 1-2.8 1 3.6 1-0.6 1 0.2 1-4.8 1 3.7 1-4.7 1-6.3 1-3.9 1-12.6 1-14 0.8-4 0.2-1.6 1 7.6 1 12.1 1 11.3 1 4.3 1 8.3 1 2.4 1-2.8 1 4.9 1 0.2 1-3.6 1 3.7 1 1.6 1-0.6 1 1.1 1-1 1-1.2 1 2 1-4.7 1 0.6 1 1.2 1 2.4 1-0.5 1-1.2 1-1 1-0.8 1 4.7 1-1.1 1 0.4 1-0.7 1-0.7 1-3.1 1 3.7 1-2.2 1 1.9 1 0.3 1-3.7 1 4.4 1-2.4 1-2 1-0 1 4 1 0.3 1 0.3 1-0.7 1-0.2 1-0.1 1-2.6 1 2.9 1-1 1 1.9 1-0.7 1-0.3 1 1.6 1-1.9 1-1.9 1 2 1-0.4 1 0.5 1 0.8 1-0.9 1 0.5 1-0.6 1 0.1 1-0.1 1 1.1 1-0.9 1-3.6 1 1.4 1 2.3 1 0.4 1-2.9 1 2.3 1 1.2 1-1 1-4.1 1 4.6 1-1.7 1-0 1-1.2 1-0.2 0.5 0.2 0.5 1.3 1-1.1 1 0.5 1 0.7 1 1.1 1-0.1 1-4 1 4.5 1-0.5 1 0.7 1-0.8 1-0.6 1-2.4 1 2.4 1 0.4 1-0.7 1-0.5 1 1.3 1-0.1 1-2.8 1 3.3 1-0.4 1 0.5 1-0.3 1-3.8 1 3.9 1-1.6 1-2.6 1 2.5 1 1.2 1 0.4 1 1.3 1-1.2 1-0.2 1-2.9 1 0.6 1 2.4 1-2.4 1 1.7 1-4.3 1 0.1 1 1.7 1 1.5 1-4.2 1 1.2 1-1.2 1 0.8 1 0.6 1-3.3 1 0.8 1-5.2 1-3.5 1-8.9 1-23.7 1-35 1-44.5 1-24.9 0.1-2.1 0.9 15 1 27.7 1 32.1 1 32.3 1 21.8 1 9.5 1 7 1 0.1 1 2.7 1 0.7 1 3 1 0.2 1-2.1 1 3.4 1-1.8 1 1.5 1-0.1 1 0.9 1-1.7 1 0.6 1-0.9 1-1.7 1 3.9 1-0.2 1 0.8 1-4.3 1 3.9 1-2 1 2.6 1-0.6 1-1.6 1 0.3 1 1.2 1-2.4 1 1.8 1-2.6 1 2.1 1-2.6 1 0.5 1-5 1 1.8 0.5-0.3 0.5 0.8 1-1.6 1 3.7 1 1.9 1-2.4 1 4.3 1-2.6 1-1 1 4.9 1-3.4 1 1 1 0.8 1-0.4 1 1.9 1-2.1 1 0.7 1 1.7 1-1 1 0.8 1-1.1 1 0.8 1-0.9 1 1.3 1-0.6 1-0.1 1-0.1 1-2.9 1-0.9 1 4.7 1-3 1 2.2 1-0 1-0 1-0.1 1-0.1 1-2 1-1.1 1 2.2 1 0.8 1-1.3 1 0.4 1-2.6 1 4.3 1 0.3 1-0.8 1-0.9 1 0.8 1-0.6 1 2.3 1-1.3 1-0.1 1 0.6 1-0.6 1-0.2 1-1 1 1.4 1 0.5 1-1.9 1-2.9 1 3.5 1 0.1 1 0.8 1-1 1-3.2 1 4.9 1-3.6 1 3.6 1-4.7 1 1.6 1 2 1-0.8 1-3.1 1 4.4 1-3.4 1 1.4 1 1.3 1-3.4 1 4.5 1-1 1 0.8 1-0.8 1-1.3 1 2.4 1-1.7 1-0.1 1 1.1 1-0.4 1-2.5 1 1.8 1-3 1 4.4 1 0.1 1-3.6 1 3.7 1-3.7 1 2.8 1-1.5 1 1.7 1-2.6 1-0.8 1 0.3 1 1.7 1 2 1-3.2 1 2 1-2.8 1 4.1 1-2.1 1 1.3 1-0.3 1-2 1 0.1 1-1.4 1 2.2 1-0.2 1 0.6 1 1.5 1-3.3 1 3.1 1-0.2 1-1.4 1 1.5 1-0.1 1 1.4 1-1.1 1 0.2 1-0.4 1-1.7 1 1.5 1-0.1 1-0.3 1-2.2 1-0.2 1 1.6 1 1.1 1-2.3 1 2.2 1-0.1 1-0.9 1 1 1 0.4 1-0 1-0.7 1-0.8 1-1.1 1 1.9 1-1.3 1 0.1 1-0.2 1-5.2 1 1.4 1-4.6 1-7.1 1-7.2 0.2 3.7 0.8-2 1 7.2 1 2.9 1 4 1 3.5 1 1.7 1 1.6 1 0.7 1 0.9 1-1.8 1 1.1 1-0.4 1-2.1 1 1.7 1 0.6 1-2.7 1 3.9 1 0.8 1-0.7 1 0.5 1-0.7 1-0 1-0.3 1-0.8 1-0.8 1 0.5 1 0.7 1 0.8 1 0.1 1-0.5 1 0.4 1 0.6 1-0.5 1-2.1 1 1.5 1 0.9 1-1.3 1-0.9 1 2.4 1-4.3 1 0.7 1 3 1-2.9 1 2 1-0.9 1 2.3 1-0.3 1-0.2 1-0.2 1 0.4 1 0.7 1-0.4 1-1.9 1 1.5 1-3.8 1 0.2 1 3.4 1-0.8 1 1.9 1-3 1-0.9 1 3.1 1 0.1 1-0.2 1-2.2 1-0.7 1 3.1 1-0.4 1-1.6 1 0.7 1 0.9 1-1.6 1 2 1 0.4 1-2.6 1-0.2 1-1.3 1 3.3 1 0.4 1-0.9 1 0.4 1-0.3 1 0.3 1-3.2 1 2.4 1-2.4 1 3.7 1 0.2 1-2.9 1 3.1 1-0 1-0.1 1 0.5 1-2.5 1-2.3 1 2.1 1-0.6 1 2.3 1 0.4 1-2 1 2.2 1 0.2 1-0.4 1-3.1 1 1.4 1 1.2 1 0.5 1-0.1 1-1.5 1 1 1 0.4 1-3.1 1 3.1 1 0.6 1-0.9 1-2.7 1 0.9 1-0.5 1 2.7 1-1.6 1 0.7 1 0.5 1 0.6 1-3.6 1 2.6 1 0.6 1-2 1-1.9 1 4.6 1-1.6 1-3.1 1 0.1 1 4.3 1-0.4 1 1 1-1.3 1 1 1-0.3 1-3.8 1 3.9 1 0.4 1-1.3 1-0.3 1-0.1 1-2.2 1 3.2 1-0.4 1-1.6 1 1.8 1-3.5 1 0.9 1 2.1 1 0.2 1-0.3 1-0.6 1 2.2 1-0.5 1-0.3 1-0 1-0.1 1-0 1-0.6 1 0.4 1-0.9 1 0.1 1 0.7 1 0.3 1 0.2 1-2.2 1 2 1-0.8 1-1.3 1 1.4 1 1.4 1-0.5 1-4.2 1 4.8 1-3.7 1 3.4 1-0.8 1-2.1 1 2.8 1-2.7 1 3.6 1-1.4 1 0.3 1-1 1-0.8 1-0.9 1 0.1 1 2.5 1 0.4 1-1.3 1 1 1 1.1 1 0.1 1-1.2 1-0 1-0.3 1-0.1 1 1.2 1-1.3 1 1 1-1.3 1 0.5 1-3.2 1 2.8 1 0.8 1-0.3 1-0.2 1-0.8 1-0.6 1 2 1 0.1 1-2.1 1 1.3 1-2.1 1 1.3 1-2.8 1 2.4 1 2 1-0.6 1-1.2 1 1.7 1-0.8 1-1.2 1-1.1 1 0.6 1 2.8 1-3.5 1 3 1-0.6 1 0.7 1-2.6 1 2 1-0.4 1-0.5 1 0.9 1 0.4 1-3.6 1 2 1-0.4 1 2.8 1 0.2 1-5.1 1 2.2 1 2.7 1-2.1 1 0.8 1 0.7 1-0.4 1-4 1 4.1 1-1.5 1 1.5 1 0.4 1-4.9 1 2.1 1 1.4 1-0.5 1-1.1 1-1.6 1-5.1 1-4.5 0.9-0.2 0.1-0.2 1 2.7 1 1.1 1 3 1 0.3 1-0.9 1 5.1 1-2.8 1 5.1 1-0.3 1-0 1-1.8 1-0.6 1 2.4 1 1.3 1-4 1 1.8 1-0.3 1 2.7 1-1.9 1 1 1-2.1 1-1.7 1 4.3 1-0.5 1-0.1 1 0.5 1-1.5 1 0.1 1 1.5 1-0 1-0.9 1 1.5 1-1.6 1-1.2 1-0 1 2.3 1-4.3 1-0 1 4.5 1-4.5 1 0.9 1 0.9 1 2.4 1-2.7 1 2.9 1-0.8 1-1.7 1 0.7 1 1.2 1-1 1 0.9 1-0.7 1 1.1 1 0.3 1-0.4 1 0.4 1-3.4 1-1 1 1.9 1-1.1 1 3.4 1-0.6 1 0.6 1-2.3 1 1.2 1 1 1-3.9 1 3.2 1-1.9 1-0.3 1-1.2 1 0.3 1 2.7 1 0.2 1 0.3 1 0.2 1-4.4 1 3.9 1-3.6 1 3.5 1-0.4 1-2.8 1 1.8 1-0.1 1-4.9 1 2.4 1-4.2 1-9.6 1-14.2 1-9.8 0.7-3 0.3-3.7 1 11.7 1 7.8 1 2.8 1 1.8 1 11.1 1 5 1 2 1 2.5 1 1.9 1 0.7 1-0.7 1-0.8 1 2.7 1-0 1-1.6 1 1.8 1 0.7 1-0.7 1 0.7 1-1.8 1-0.5 1 2.1 1-0.3 1-0.6 1-2 1 0.5 1 1.6 1-0.2 1-2.2 1 1.5 1 0.2 1 1.9 1-1.2 1-0.5 1 0.7 1 0.9 1 0.5 1-2.5 1-0 1 1.1 1 0.9 1-0.2 1-0.3 1-1.8 1 1.5 1 0.8 1-0.2 1 0.4 1-4.3 1 4 1-3.8 1 2.6 1-2.9 1 4.3 1-2.5 1 2.4 1-0 1-0.1 1 0.4 1-0.3 1-0.4 1-3.7 1 3.8 1 0.7 1-2.5 1-1.7 1 4.8 1-2.8 1 2.1 1 0.2 1-2.7 1-1.8 1-0.3 1 3.4 1 0.5 1-0.8 1-1 1-0.7 1-1 1 2.1 1-0.4 1 0.8 1 1.2 1-1.8 1-2.3 1 1.6 1 3.3 1-4.9 1 4.1 1-4 1-0 1 1.7 1-1.7 1 4.1 1-0.4 1 0.3 1-1.5 1 0.8 1-0.5 1 0.3 1-3 1 3.3 1 0.5 1-0.7 1-0.8 1 0.1 1 1.8 1-0.4 1-0.1 1 0.4 1 0.5 1-0.6 1 1.4 1-1.7 1 0.7 1-0.7 1-0.1 1-3.7 1-0.1 1-0 1 3.4 1 0.5 1-2.3 1 2.5 1-0.7 1 0.4 1-0.6 1-1.8 1 2.3 1-1.4 1-0 1-0.3 1-1 1 0.9 1-0.9 1-0.8 1-1.3 1-8.6 1-6.8 1-14.2 1-14.1 0.8-5 0.2-1.4 1 10.8 1 6.4 1 4.2 1 5.4 1 2.2 1 9.3 1 7.9 1 4.7 1-0.5 1 0.3 1 0.5 1 2.7 1-0.1 1 0.1 1 0.2 1 0.6 1-2.8 1 1.2 1 1.7 1-1.3 1-1.2 1 1.5 1 0.1 1-1.1 1 2.4 1-2.1 1 2.1 1-1 1-2.3 1 3.2 1-3.1 1 1.1 1-1.6 1 4.3 1 1 1-1.4 1-4.2 1 2.7 1 1.1 1-0.5 1-0.9 1 1.3 1-3.6 1 3 1 1.4 1-0 1-0.8 1-0.3 1-1.9 1-0.3 1-0.1 1 3.2 1-1.9 1 1.6 1-1 1 1.3 1-3.9 1-0.2 1 2.4 1 1.6 1-3.2 1 1.8 1 1.7 1-2.6 1-0.5 1 0.9 1 2.6 1-3 1-0.6 1 2.8 1-3.1 1 1.4 1-1 1 3.5 1-1 1-1.4 1 2.3 1-1.4 1-3.2 1 4.7 1-4.4 1 1.1 1 2.8 1-0 1-0 1-1.4 1 2.4 1-3.2 1 2.6 1-0.7 1-0 1-2.1 1 2.5 1-0.1 1-3.4 1-0.8 1 3.7 1 0.2 1-0.9 1 0.5 1 0.1 1 0.7 1 0.8 1-2 1 0.6 1-2.7 1 0.1 1-1.1 1 3.9 1-1.9 1 2.5 1-1.4 1-0.6 1 1.6 1-0.4 1-3.7 1 4.2 1-2.9 1 2.6 1-2.3 1 3.8 1-0.9 1-0.7 1-3.8 1 3.7 1 0.8 1-0.6 1-2 1 2.7 1-1 1 0.2 1 0.1 1-1.1 1 1.4 1-1.8 1-0.2 1-2.3 1 2.9 1 0.8 1 0.7 1-0.4 1 0.6 1-4.2 1 4.8 1-2.6 1-0.1 1-0.4 1 1.8 1-3.9 1 3.8 1 0.8 1-0.6 1 0.1 1-3.6 1 3.1 1 0.6 1-0 1-0.5 1 0.2 1-0.2 1-2.4 1 3.3 1-0.5 1-1.1 1 1.7 1-2.6 1-1.8 1 2.9 1-1.6 1 2.3 1-0.5 1-0.6 1 0.7 1-3 1 3.4 1-2.7 1 2.7 1-3.7 1-0 1 2.3 1 2.1 1-0.4 1 1.3 1-4 1 2.5 1 0.2 1-0.8 1 1.2 1-0.6 1-0.9 1-1.9 1-1.2 1 4.1 1-2.9 1 2.8 1 0.3 1-1.8 1 1 1 1.1 1-1.1 1-3.5 1 4 1-0 1-3.7 1 2.3 1 1.3 1-2 1 1.6 1-0.1 1-2.2 1 1.1 1-3.7 1-2.6 1 3.1 0.4-0.1 0.6 0.2 1 0.4 1 1.9 1-0.1 1-1 1 3.3 1-1.3 1-2.1 1 0.8 1 2.9 1-3.8 1 3.9 1-3.3 1 3.8 1-2.8 1 1.9 1-0 1 0.1 1 0.4 1-1.9 1 0.7 1-1.5 1 2.7 1-2.5 1-0.6 1 3.2 1-3.8 1-0.4 1 4.4 1-0.2 1-4.2 1 2.5 1 1.1 1 0.5 1-2.4 1 2.1 1-1.5 1 0.4 1-0.6 1-0.4 1 2 1-1.6 1-0.3 1 1.8 1 0.3 1-1.4 1-2.6 1 3.6 1 0.2 1-1.3 1 1.2 1-0.7 1 0.3 1 0.5 1-1.4 1 1.6 1-0.1 1 0.7 1-0.7 1-1.1 1-2.2 1-0.7 1 3.6 1 0.2 1-3.9 1 4.5 1-3.1 1 1.3 1-2.9 1 3.7 1-0.8 1 1.4 1-1.3 1-1.2 1-1 1-1.9 1-5.1 1 1.7 0.5-0.1 0.5 0.1 1 0.9 1 1.7 1 0.4 1 0.7 1-3.8 1 5.1 1 0.7 1-0.2 1-1.9 1 4.3 1 0.5 1-2.4 1 2.5 1 0.8 1-0 1-0.8 1 0.6 1-3.4 1 1.3 1-3.3 1 2.6 1-0.2 1-2.7 1-0.3 1 2.4 1-3.3 1 4.1 1-0.8 1 2.7 1-2.4 1-1.2 1 3.9 1 0.5 1-1 1 0.1 1-1.3 1 2.7 1-3.4 1 1.7 1 0.9 1 0.7 1-1.3 1-2.1 1 1.5 1-0 1 1 1-0.5 1 1.6 1-4.4 1 1 1 2.6 1-0.3 1 1.1 1-0.4 1-1.5 1 1.4 1 0.3 1-0.5 1-1.6 1 2.2 1-1.8 1-0.2 1-0.2 1 0.2 1 1.1 1 0.3 1-2.5 1 2.9 1-3.5 1 3.8 1-0.8 1-0.7 1 1.8 1-2.4 1-1.3 1 3.2 1-0.6 1-1.9 1 0.1 1-0.6 1 3.4 1-1 1-2.9 1 3.8 1-0.2 1-0.8 1-0 1 0.9 1-0.2 1-0.6 1-0.4 1-3.4 1 1.4 1 1.6 1 0.6 1-1.7 1-1.9 1 3.8 1 0.5 1 0.1 1-0.9 1 0.9 1 0.5 1-0.8 1-0 1-2.8 1-1.3 1 3.9 1-0 1-2.9 1 2.4 1 0.4 1-2.3 1 2.7 1-2.3 1-1.8 1 4.5 1-2.1 1 1.3 1-3.3 1 0.7 1 3 1-0.4 1 0.5 1-3.1 1 3.1 1-0.6 1-2.2 1 2.5 1 0.5 1-0 1-0.1 1-0.6 1 0.1 1-1.1 1 1 1-2.8 1 0.9 1-1.5 1 3.7 1 0.4 1-4 1 2.1 1 2.4 1-1.1 1-1.4 1-1.8 1-0.7 1 0.8 1 2 1 1.1 1 0.3 1-0.2 1 0.4 1-0.8 1-2.5 1 1.3 1 1.9 1-2.4 1-1 1 2.8 1-0 1-0.2 1-1.1 1 2.5 1-0.7 1 0.3 1-1 1-1.1 1 1.6 1-2.8 1 1.9 1-0.2 1 0.5 1 1 1-4.4 1 3.1 1 1.7 1-2.6 1-0.7 1 3 1-1.2 1-3.2 1 2.1 1 1 1 0.1 1-0.9 1 1.9 1-0.4 1-1.1 1 0.7 1-3.1 1 4.4 1-4.8 1 3.9 1 0.1 1-0.4 1-2.6 1 2.7 1-3.4 1 0.4 1 2.4 1 0.5 1-0 1-1 1 1.8 1-4.5 1 3.1 1-0.5 1 1.4 1-0 1-3.9 1 4.7 1-2.2 1 1.4 1 0.6 1-3.1 1 2.6 1-2.4 1 2.1 1 1.2 1-1.4 1 0.8 1-0.6 1 0.1 1-1.4 1 0.9 1 0.5 1 0.2 1 0.6 1 0.4 1-1.9 1 1.3 1-0.5 1-1.9 1-0.4 1-0.1 1 1.6 1-0.6 1 0.1 1 0.3 1 1.5 1-1.5 1-1.5 1 2.2 1-0.3 1 2 1-1 1-4.3 1 4.3 1-2.1 1-1.5 1 0.5 1 1.9 1 0.5 1 0.9 1-4.5 1 3.3 1-2.4 1 3.7 1 0.3 1-0 1-3.2 1 2.1 1-0 1-0.9 1 0.4 1-0.1 1 0.9 1 0.2 1-1 1-2 1 2.7 1-0.6 1 0.5 1-1.3 1 1.8 1-4.4 1-0 1 3.3 1 0.4 1 1.1 1-3.3 1 1.7 1-0.1 1 1.6 1-2.8 1-1.9 1 4.3 1-0.6 1-3 1 1.2 1-0.1 1-1.9 1 0.2 1 2.9 1 2.4 1-1.8 1 0.8 1-0.1 1-3.9 1 3.8 1-0.6 1-3.4 1 3.8 1-0.2 1 0.5 1-0.6 1 0.8 1-1.6 1 1 1-1.6 1-0.4 1 1.5 1-0.4 1 0.5 1-1.6 1-1.2 1 0.7 1-3 1 1.5 1-0.8 1-2.4 0.6 2.1 0.4-0.7 1 2.1 1-0.7 1-0.3 1 3.9 1 0.2 1 0.2 1-3 1 1.9 1-2.1 1 1.5 1-0 1 3.1 1 0.1 1-4.6 1-0.4 1 4.4 1-0.1 1-3.7 1-0.6 1 4.3 1-0.3 1-2.9 1 1.5 1-0 1-1.2 1 3 1-0.2 1-4.2 1 4.7 1-3.3 1 2.5 1-3.7 1 3.4 1 0.1 1-3 1 2.7 1-0 1 1.7 1-3.1 1 1.6 1-2.7 1 2.8 1 0.6 1-4.2 1 3.2 1 0.3 1 0.8 1-4.5 1 1 1 3.2 1-2.8 1 0.5 1-1.6 1 2.8 1-3.2 1 4.9 1-0.3 1-3.1 1-0.6 1 1 1-2.1 1 2.1 1 2.4 1-4.7 1 2.5 1 0.8 1-2.6 1-0.6 1 1.3 1-4.5 1-1.3 1-1.2 1-1.7 0.3 1.7 0.7-0.3 1 1.9 1 1.8 1-2.3 1 3.2 1 0.6 1 0.3 1-0.3 1 1.4 1 1.2 1-0 1 2 1-0.2 1-2.7 1 2.2 1 1.1 1-0.2 1 0.2 1-3.5 1 0.2 1-0.7 1 3.9 0.75-0.1" fill="none" stroke="#ff00ff" stroke-width="2.8" stroke-linejoin="round" shape-rendering="crispEdges"/><path d="M117.4 2754.2l0.6 0.8 1 0.6 1 1.6 1-2.7 1 2.6 1-3.7 1 0.7 1-0.6 1 0.1 1 1.2 1 1.1 1-0.2 1-3.8 1 4 1-0.2 1 0.3 1-0.2 1-0.1 1-0.8 1 0.8 1-0 1 0.2 1-0.7 1 1.2 1-1.1 1-3 1 3.6 1-0.5 1-3.7 1 4.3 1 0.5 1-0.9 1-3.9 1-0 1 4.5 1-2.2 1 1.4 1 0.4 1 1 1-3.9 1 3.1 1-1.3 1 0.5 1-3.4 1 0.8 1 3.6 1-0.6 1-2.7 1 3.5 1-0.7 1-0.8 1 1.7 1-0.3 1 0.3 1-1.9 1 1.1 1-2.6 1 1.9 1-1 1 1.4 1-1.9 1 1.9 1 0.6 1-3.5 1 0.5 1-1.3 1 3.7 1 0.3 1 0.7 1 1 1-1.1 1-2.1 1 1.9 1 1.2 1-3.3 1 1.8 1-0.1 1 0.1 1-0.2 1-1.2 1 2.4 1-1.1 1 0.2 1-3.1 1 3.5 1-4.4 1 2.1 1-2.1 1 4.1 1-2.4 1 1.1 1 1.9 1-0.9 1 0.1 1 0.4 1-0.1 1 0.4 1-0.7 1-1.1 1 1.4 1 0.5 1-3.6 1 2.8 1-0.4 1 0.3 1 0.2 1-1.8 1 1.8 1-0.4 1 1.1 1 0.2 1-0.9 1-3.9 1 3.1 1-3.2 1 2.6 1-0 1 1.4 1-0.4 1-3.6 1 0.7 1 3.3 1-0.1 1-3.5 1 3.6 1-2.6 1 2.9 1-2.2 1-2.1 1 1.6 1 1.4 1 0.2 1 0.4 1-0 1-2.9 1-0 1 1.8 1 1.9 1-0.5 1-1.1 1 0.6 1 1.1 1-2.5 1-2 1 4.5 1-1.1 1-3.4 1 3.9 1-0.1 1-0.6 1-1 1 1.6 1-2.6 1 3.7 1-2.9 1 0.7 1 0.9 1-1 1 0.8 1-3 1 3.5 1-0.3 1 0.9 1-0.2 1-0.6 1 0.9 1-0.5 1 0.3 1-0.6 1-0.6 1-2 1 3.6 1-1.2 1-2.3 1-1.2 1-0.1 1 4.4 1-0.7 1-1.7 1-0.9 1 1.6 1 0.1 1-0 1 1.2 1-1 1-1.5 1 2.1 1-3 1 4.8 1-1.7 1-3.9 1 1.6 1-1.4 1 3.1 1 1.2 1-0.5 1-3.9 1 4.9 1-0.6 1 0.5 1-0.9 1-0 1-1.7 1 1.9 1-4.1 1 2 1 1.9 1 0.4 1 0.3 1-1.3 1-3.4 1 3.8 1 0.6 1-0.7 1 0.4 1 0.3 1 0.7 1-1.4 1-3.6 1 0.6 1 0.6 1 1.9 1-0.6 1-1.3 1 2.5 1-0.8 1 1 1-3 1 3.4 1-2.3 1-0.4 1-0 1 0.3 1 2.1 1-0 1-0.1 1-0 1 0.5 1-0.5 1 0.2 1 0.2 1-1.6 1 1.4 1-1.1 1-3 1-0 1 3.5 1-2.4 1 1.8 1-3 1-0 1 0.9 1 2.8 1 0.1 1-1.6 1 1.4 1 0.1 1-1.9 1 2.7 1 0.6 1-0.8 1 0.1 1-0.8 1 0.6 1-0.5 1 1.3 1-5 1 2.6 1 1.6 1-1.3 1-2.2 1 0.9 1 2.2 1-1.6 1-0.7 1 3 1 0.2 1-0.6 1-2.8 1-1.2 1 3.3 1-3.2 1 1.1 1 2.5 1 0.4 1-0 1-0.7 1-3.2 1 1.4 1 2.9 1-0 1-2.9 1 1.5 1 1.1 1-2.3 1-1.7 1 1.4 1 1.6 1-3 1 3.6 1 0.2 1 0.2 1-4.3 1-0 1 3.7 1-1.5 1 0.3 1-1.2 1-0.6 1 1.2 1 1.8 1 0.3 1 0.3 1 1.2 1-1.9 1 0.6 1-0.8 1 0.2 1 0.7 1-0.4 1-1.4 1 0.6 1 1.1 1-0.1 1-2 1 0.8 1-0.2 1 0.9 1-1.9 1 1.5 1-3.3 1 3.8 1 0.2 1-4.2 1 3.5 1 0.5 1-1.8 1 2.5 1-3.2 1 0.2 1-1.8 1-0.5 1-5.8 1 1 0.4 0.6 0.6-0.6 1 3 1 1.5 1 2.7 1 0.9 1-0.8 1 0.9 1-1.3 1 2.4 1-0.3 1 0.5 1-1 1-1.3 1-0.6 1 1.3 1 1.9 1-1.1 1 1.3 1 0.7 1-1.8 1 0.2 1-1.5 1-0.2 1 2.9 1-0.3 1-0.6 1-0.2 1-0.8 1 1.9 1-0.7 1-1.7 1-2.1 1 4.4 1-4.5 1 3.8 1 0.8 1-4.1 1 3.9 1 0.1 1-2.5 1-0.8 1 2.3 1 0.7 1 0.5 1-1.2 1 1.9 1-0.7 1-3.5 1 1 1-1.4 1 1.9 1 1.7 1-1.8 1 2.4 1-2.9 1-1.6 1 3.9 1-3 1 2.3 1 0.2 1 1.3 1-1.4 1-2.1 1 3.3 1-0.9 1 0.2 1 0.6 1-3.6 1 2.5 1-0 1-2.3 1 2.8 1-4.2 1 4 1 0.6 1-2.2 1 0.5 1 1.6 1-0.1 1-2.6 1 1.3 1-0.3 1-1.2 1 2.5 1-3.4 1 2.9 1-1.7 1 2.4 1-2.5 1 1.1 1-3 1 3.5 1-3.8 1 1.7 1-2.6 1 2.2 1-1.5 1 2 0.5-0.8 0.5-3.4 1 2.2 1 0.1 1 2.9 1-1.6 1 2.4 1-0 1-2.9 1 0.4 1 3 1-0.5 1-0.4 1 0.7 1-0 1 0.6 1-2.1 1 2.2 1-0 1-3.8 1-0.5 1-0 1 2.7 1 1.3 1-2.3 1-1.7 1 3.3 1 0.6 1 0.9 1-0 1-4.8 1 4.7 1-0.6 1-0.3 1-0.8 1 1.5 1-2.3 1-0 1 1.2 1 0.6 1-0.1 1 1.1 1-2.9 1 1.9 1 0.6 1-0.9 1-1.3 1 0.4 1-0.7 1-1.3 1 3.2 1-0.8 1-0.2 1 1.7 1-3.6 1 2.8 1-0.8 1-0.1 1 1.2 1-2.4 1-0.4 1 1.9 1 2.4 1-5.2 1 3.3 1 0.3 1 0 1 0.3 1-0.5 1-1.7 1 2.2 1-1.2 1 0.8 1-0.2 1 0.1 1-1 1-1.7 1 2.3 1-2.1 1-1.4 1 4.5 1-2.9 1 2 1-0.2 1-2.6 1 2.3 1-0.1 1-4.2 1-0.6 1-0.3 1-4.8 1 2.3 0.9-0.2 0.1-1 1 1.6 1 0.2 1 3.3 1 1.7 1 0.7 1 1.3 1 1.1 1-0.6 1-2.1 1 1.2 1-1.6 1-1.3 1 1.5 1 2.2 1 0.5 1-1.6 1-2.5 1 0.2 1 1.2 1 2.8 1-1.9 1-0.3 1-1.2 1 3.8 1-0.4 1-0.9 1 0.1 1 0.8 1-1.7 1 1.5 1-2.9 1 3 1-0.8 1 2 1-1.9 1 0.9 1-2.2 1 1.8 1-3 1 3.3 1 0.7 1-1.7 1-0.8 1 2 1 0.4 1-2.8 1-0.7 1 0.8 1 1.6 1 0.2 1-3.6 1 1.7 1 2.6 1 0.1 1-2.3 1-0.3 1 2.2 1 0.1 1-2.8 1 2.5 1-2.3 1 2.9 1-0.1 1 0.5 1-1.3 1 0.3 1 0.9 1-1.5 1 0.7 1-0.2 1-3.5 1 1 1 1.2 1 1.4 1 0.6 1-0.4 1-0.3 1-3.3 1 3.7 1-0.3 1-0.3 1-0.9 1-1.7 1-0.7 1 3.3 1-3.7 1 1.9 1 2.2 1 0.1 1-0.4 1-0.1 1-2.1 1 2.4 1-0.1 1 0.1 1-1.3 1 1.6 1-2.5 1 1.8 1-0.6 1-1.3 1 0.1 1-3.1 1 3.9 1 0.3 1-1.4 1-4.3 1 0 1-9 1-8.3 1-17.5 1-10.3 0.5-5.4 0.5 1.4 1 13 1 9.7 1 11.6 1 11.4 1 4.7 1 1.8 1 0.8 1-2 1-0.7 1 4.2 1 0.1 1 1 1-0.5 1-1.4 1 2.7 1-3 1-0.5 1-0.6 1 3.3 1 0.7 1-0.8 1 0.5 1 0.5 1-0.7 1 0.5 1-4.7 1 1.8 1-0.4 1 2.9 1-4.1 1 3.4 1-2.4 1 2.5 1-2.6 1 2 1-2.9 1-2.8 1-3 1-3 1 1 1 0.9 1-1.9 1-2.4 1 2.9 1-1.5 1 3.3 1 3.4 1 0.3 1 5.9 1-3.7 1 2.6 1 1.4 1 0 1-2.5 1-0.4 1 1.2 1 2.6 1 0.2 1-1.1 1-1.4 1 2.1 1-2.7 1 0.7 1 0.3 1 1.7 1-3.6 1 0.7 1-0.8 1 2.3 1 1.9 1-1.9 1-1.2 1 2.2 1 0.7 1-2.2 1-0.2 1 2.5 1-0.4 1 0.6 1-1.9 1 0.4 1-3.2 1 4.2 1-3.8 1 3.3 1-0.8 1 1.5 1-1.1 1 0.5 1-0.4 1-0.5 1-0.8 1-0.9 1 1.9 1 0.5 1-3.2 1 2.1 1 0.3 1-4.4 1 1.5 1-2.7 1 0.8 1-2.8 1-5.1 0.1 2.4 0.9 0.6 1 3.1 1 1.5 1 0.8 1 2.3 1 0.9 1 1.6 1-0.4 1-0.1 1-1.6 1 0.1 1 1.2 1 0.4 1-0.1 1-1.2 1 1.3 1-1 1-0.2 1-0.3 1-4.3 1 3.3 1-2.9 1-2.4 1 1.2 1-0.6 1-2 1-10 1-7.1 1-22.4 1-42.4 1-41.6 1-21.3 1 14.7 1 29.4 1 36 1 28.6 1 18.7 1 9.9 1 7 1 3.1 1 1.8 1-2.1 1 1.8 1 2.8 1-0.5 1 1.9 1-1.7 1 2 1-0.6 1 0.1 1 1.7 1-3.6 1 0.9 1-0.5 1-1.5 1-2.4 1-1.5 0.8-1.5 0.2 0.8 1-0.3 1 2.3 1 3.3 1 1.5 1-0.9 1 0.9 1 1.2 1 1 1-0.5 1-0.2 1-2.7 1 0.9 1-1.1 1-2 1-2.2 0.4-3.1 0.6 4.2 1-2 1 4.3 1 1.5 1 1.5 1-1.5 1 2.7 1-2.2 1 2.6 1-3.8 1 3.2 1 0.5 1 0.9 1-3.8 1 2.4 1 0.5 1 0.2 1 0.3 1 0.1 1-1.2 1 1.4 1-0.5 1-3.7 1 3.7 1 0.1 1-2.3 1 2.9 1-4 1 3.2 1 0.9 1-0.8 1 0.4 1-2.2 1 2 1-2 1 3.1 1-1.1 1-1.6 1 0.1 1 1 1-1.6 1-0.1 1 1.7 1-0.6 1-1.8 1 1.4 1 1.6 1-1.7 1-1.8 1-3.1 0.6 1.3 0.4-1.3 1-0 1 2.3 1 3 1-2 1 3.5 1 0.2 1-0.5 1 1.4 1-5.2 1 0.1 1 3.8 1 0.2 1 1.2 1-2.7 1 1.7 1 0.4 1 0.2 1-0.9 1-0 1-0 1 0.3 1 0.8 1-4.5 1 1.5 1 2.2 1 0.6 1-0.3 1-2.2 1 0.5 1 0.5 1-2.2 1 3.1 1-3.6 1 3 1 0.7 1-1.6 1 0.5 1 1.1 1-4.2 1 4.9 1-1.7 1-0.4 1 1.4 1-0.6 1-2.9 1 3.8 1-0.1 1-0.5 1-1.3 1-1.5 1 1.3 1 2 1-3.3 1 0.9 1-0.8 1 3.6 1-0 1-0.8 1-0.1 1-0.3 1 0.8 1-0 1-1.6 1 2.3 1-0.7 1-0.8 1-1.6 1 1.2 1-3.2 1 3.1 1-1 1-0.2 1 1.7 1 1 1-0.7 1-0.1 1 0.5 1-2 1 1.8 1 0.7 1-1.1 1 0.7 1-1.7 1 2.9 1-0.7 1-1.2 1-0.4 1 0.3 1-3.4 1 3.5 1 0.1 1-2.2 1 1.9 1-1.1 1-2.2 1 2.6 1-0.4 1-0.4 1-2.6 1-3.7 1-6.3 1-5.8 1-6 0.1 3.5 0.9 2 1 3.8 1 0.6 1 7.2 1 3.8 1 3 1 0.4 1-1.3 1 4 1-0.8 1-0 1 0.1 1-0.6 1 0.4 1-0.4 1-0.4 1-2.4 1 3.2 1-0.9 1 0.9 1-0.4 1 0.5 1 0.6 1-1.7 1-1.6 1 3.1 1-0.6 1-0 1 1.4 1-5.1 1 0.3 1 0.7 1 0.4 1 2.9 1 1.1 1-1.7 1-0.1 1 0.3 1 0.2 1-2.6 1 0.5 1 1.8 1 0.3 1-4 1 1.7 1 1.8 1 1.1 1 0.1 1 0.9 1-1.8 1-0.7 1 0.7 1-0.1 1-0.5 1-1.4 1 3.2 1-0.4 1-2.9 1 1.4 1-0.5 1 1.8 1-4.2 1 3.3 1 0.4 1 0.4 1-1 1-0 1 0.4 1-3.7 1 0.9 1 2.8 1 0.4 1-0.1 1-1.1 1 2.8 1-2.7 1 0.9 1-3.8 1 2.6 1 1.1 1-0.2 1 0.6 1-0 1-0.4 1 1.3 1-1.4 1 1.2 1-0.7 1-0 1-2.1 1-2 1 0.2 1 3.8 1-0.2 1-0.2 1-0.3 1-2.3 1 1 1 1.6 1-3.6 1 1.5 1-1.5 1 3.7 1-1.5 1 0.6 1 0.4 1 1.2 1-1.4 1 1.7 1-2 1-2.6 1 0.8 1 2 1 1 1-2.1 1 2.6 1 0.1 1 0.1 1-1.9 1 1.9 1-2.5 1-1 1 0.8 1 1.8 1-1.1 1 1.9 1-1.4 1-3.1 1 0.1 1 4.7 1-1.1 1 0.2 1-2.5 1 1.6 1 0.7 1 0.4 1-0.9 1 0.5 1-0.3 1 0.3 1 0.7 1-1.9 1-0.1 1 0.6 1-0.1 1-2.3 1 0.3 1-1 1 1.8 1-0.4 1 1.8 1 0.7 1-0.2 1-2.6 1 0.2 1-1.9 1 2.1 0.7-1.7 0.3-0.4 1 1.2 1 0.8 1 2 1-0.6 1-2.7 1 4 1-1.9 1 1.8 1-0.9 1-2.9 1 3.3 1-0.8 1-0.6 1 1.5 1-3 1 4.4 1-1.2 1 1.2 1-0.3 1-1.1 1 0.9 1-0.6 1-3.4 1 2 1-2.4 1 3.7 1-0.2 1 1.8 1-1.7 1 0.3 1-1.4 1 1.1 1 0.5 1 0.9 1-3.2 1 2.3 1 0.7 1-2.1 1 2.3 1-1 1 1.1 1-1.3 1 1 1-4.8 1 1.1 1 1.5 1 0.3 1-0.8 1-0.4 1 1.3 1 1.4 1-1.1 1 1.4 1-0.9 1-1.1 1 1.6 1-1.7 1 1.2 1-3.9 1 3.9 1-1.4 1-0.2 1 1.2 1-0.5 1 0.9 1-0.4 1-0.1 1-1.6 1-1.1 1 2.9 1-3.3 1 3.3 1 0.7 1-0.4 1 0.2 1-0.3 1-0.3 1-0.4 1-2.3 1 1 1 2.1 1-1.6 1 1.4 1-1.9 1-1.2 1 3.1 1-1.9 1-1.5 1 2.4 1 1.6 1-0.8 1 0.6 1-3.1 1 1.9 1-0.3 1-2.9 1 1.7 1 1.4 1 1.5 1-1.1 1-0.2 1-1 1-0.5 1-4.9 1-5.6 1-1.2 0.8-0.8 0.2-1.2 1 2.8 1-0.1 1 3.9 1 2.3 1 3 1 1 1 2.9 1-0.3 1-2.1 1 2 1-0 1 0.3 1 0.9 1-0.7 1-1.4 1-0.1 1 2.1 1-1 1-2 1 1.7 1-3.1 1 3.7 1 1.1 1-1.1 1-0.4 1-1.2 1 0.4 1-2.4 1 2.2 1 0.9 1 0.9 1-0.3 1-3.2 1-0.6 1 2.8 1 0.4 1 0.6 1-0.8 1 0.5 1 0.5 1-2.5 1 2.9 1-1.1 1-0.1 1-1.2 1 1.7 1 0.6 1-0.6 1 0.7 1-0.5 1 0.3 1-4.1 1 5.1 1-0.7 1-3.8 1 3.1 1 0.8 1-2.5 1-2.1 1 3.5 1-2.1 1 3.1 1-0.6 1-0.9 1 0.1 1 0.9 1-0.1 1-0 1 0.1 1-0.2 1-0.1 1-1.5 1 2 1-2.3 1-2.5 1 3.2 1 0.6 1 0.1 1-0.4 1 0.3 1-1.8 1 0.3 1-2.5 1 0.2 1-3.1 1-5.5 1-6.5 1-14.2 1-14.4 0.9-3.3 0.1-1.8 1 7.1 1 10.7 1 2.9 1 4.3 1 5.5 1 10.7 1 5.5 1 2.4 1 2.5 1 1.2 1-0.7 1-0 1 0.3 1-3.2 1 3.9 1 0.1 1-4.3 1 4.8 1-2.9 1 2 1 1.8 1-4.3 1 2.7 1-1.2 1 0.4 1-0.3 1-1.3 1-1.4 1 2.9 1 0.9 1-2.4 1 1 1 3.1 1-3 1 1.5 1-0.2 1 0.9 1-4.6 1 2.4 1 1.5 1-0 1-0.2 1-0 1-2 1 1 1 1.3 1-0.2 1-1.6 1 2.2 1-0.3 1-2.7 1 2.3 1-3.4 1 4.3 1-0.5 1 0.3 1 0.1 1-2.6 1-0.7 1 2.3 1 0.5 1-3.7 1-0 1 5.1 1-1.5 1 1.4 1-0.4 1-0.6 1 0.3 1-2.4 1 1.9 1-0.1 1-0.1 1-3.6 1 2.7 1-1.5 1 0.9 1-1.7 1 2.8 1 0.3 1-3.2 1 2.6 1 1.7 1-0.2 1-0.6 1-1.7 1 1.9 1-4.1 1 2.4 1 1.3 1 0.7 1-2.6 1 0.2 1 2.4 1-4.1 1 0.2 1-0.5 1 3.5 1-2.3 1 3.8 1-2.6 1 1.4 1-0.2 1-1.2 1 1.6 1-0.3 1 0.6 1-0.1 1 0.2 1-1.7 1-2.2 1 3.8 1 0.4 1-0.9 1-1.2 1 0.3 1 1.5 1-0.9 1 0.6 1-0.4 1-0.2 1 0.2 1-1.5 1 1.4 1-4 1 3.3 1 1 1-3.2 1 0.2 1 1.3 1 0.4 1-1 1-1.5 1 1.8 1-2.5 1 1.8 1-2.6 1 0.1 1-5.3 1-8.3 1-11.6 1-17.8 1-6.4 1 6.4 1 11.7 1 3.9 1 2.8 1 2 1 6.8 1 10.1 1 2.4 1 0.8 1 2.4 1 0.3 1 3.1 1-0.8 1 1.9 1-2.6 1 1.2 1 0.1 1 2.5 1-3.8 1-0.9 1 0.2 1 2.2 1-2 1 3.1 1 0.7 1-0.5 1 0.6 1-4.1 1 5.3 1-2.4 1 1.3 1-0.3 1-2.2 1 1.9 1-2.7 1 2.8 1-0 1-0.4 1-2.7 1 3.5 1-0.3 1 0.2 1-0.1 1 0.6 1-0.7 1-1.3 1-2.3 1 2.3 1 1.5 1-3.8 1 4.7 1-2.3 1 2 1-0.7 1 0.8 1 0.1 1-0.6 1-4 1 2.8 1-1.3 1 2.4 1-0.3 1 0.6 1-0.1 1-0.2 1-2.4 1 1.4 1 1.3 1-0.3 1 0.5 1-1.9 1 0.6 1-0 1-1 1 0.3 1-2.1 1 3.9 1-2.3 1 1.9 1-2.4 1 2.6 1 0.8 1-0.8 1 0.1 1 0.3 1-0.5 1-3 1 3 1-1.9 1-1.7 1 0.8 1 1.4 1-1.1 1 2.5 1 0.6 1 0.1 1-3.3 1-1 1 3.4 1-0.3 1 1.8 1-3.4 1 1.8 1 1.2 1-2.5 1-0.2 1-0.6 1 2.1 1-0.7 1 1.3 1-4 1 3.6 1-3.2 1 1.6 1 1.6 1-3.4 1 3.6 1-1.4 1 0.5 1 0.6 1-0.7 1-1.2 1 2.1 1 0.1 1-0.3 1 0.3 1 0.3 1-1.4 1 2 1-1.2 1 0.3 1-0.7 1-0.7 1 0.5 1 0.6 1-3.1 1 3.4 1 0.5 1-0.7 1-1.8 1-2 1-0 1 2.7 1-1.9 1-0.8 1 3.9 1-3.9 1 2.4 1 1.2 1-1.4 1-0.3 1 3.1 1-1.8 1-0.3 1 1.1 1-1 1 0.8 1 0.3 1-0.5 1 1.4 1-2.5 1-0.2 1 0.5 1-0.6 1 1.7 1 0.1 1 0.8 1-0 1-0.7 1-2.6 1 2.1 1-3.1 1 1.4 1 2.5 1-0.3 1 0.4 1 0.2 1-1.6 1-1 1 2.2 1-3.1 1 0.4 1 2.5 1-1.2 1 1.5 1-0.8 1-1.2 1 2.5 1-4.7 1 4.6 1-1.4 1 0.6 1-2.5 1 2.8 1-0.3 1-4 1-0.1 1 1.4 1 2.6 1-1.4 1 2.1 1-0.6 1-1.7 1-0.9 1 2.1 1-2.2 1-0.4 1 2.4 1-1.9 1-0.3 1-4.9 1 2.4 1-3.9 1 0.4 1-3 1 6.5 1-4.2 1 4.3 1-1.1 1 3.2 1 0.8 1 0.2 1 0.3 1 2.4 1-1.1 1-0 1-0.1 1-1.7 1 0.9 1 1 1 0.7 1 0.3 1-1.4 1-3.1 1 3.4 1-2.1 1 3 1-3 1 2.3 1-0.4 1-1.3 1-0.2 1 1.1 1-0.3 1 0.2 1 1.4 1-0.3 1-0.2 1-3.6 1 4.4 1-1.1 1-2.1 1 0.7 1 2.4 1 0.2 1-0.5 1-1.1 1-1.2 1 2 1-0.4 1 0.6 1 0.3 1-3.5 1-0.7 1 3.7 1 0.4 1-2.1 1 2.6 1-0.1 1-1.4 1-3.2 1 3.9 1-0.5 1-3.4 1 4.4 1 0.3 1-4.8 1 1.2 1 2.6 1-1.5 1-1 1 2.3 1-3.8 1 4.6 1-4.9 1 2.4 1-0.1 1-1.3 1-1.2 1-3.6 1-2.7 0.4 0.3 0.6-1.8 1 5.3 1 2.1 1-3.5 1 3.5 1-4.1 1 1.6 1 4.1 1-1.9 1 4.7 1 0.5 1-0.1 1-0 1-1.4 1-2.4 1 4.2 1-0.4 1-0.3 1-0.7 1 0.7 1-3.9 1 3 1-0.5 1-5.4 1-0.8 0.8 3 0.2 0.6 1-0.3 1-0.2 1-0.8 1 0.8 1 4.3 1-0.1 1 0.5 1-0.2 1 0.5 1-0 1-0.1 1-0.4 1 1.6 1-1 1-2.1 1 0.8 1-0.6 1-0.2 1 0.6 1-1.3 1 2.5 1 1 1-3.9 1 2.2 1 2.1 1-3.3 1 0.2 1 2.8 1-2 1 1.1 1-0.9 1 1.3 1-4 1 4.3 1-0 1-0.4 1-0.3 1 0.4 1-3.9 1 4.2 1-4.3 1 4.6 1-2.1 1-2.5 1-0 1 3.7 1 0.9 1-0.6 1-0.2 1-2 1 2.3 1-3 1 2.9 1-2.6 1-1.6 1 1.7 1-1.1 1 2.3 1 0.8 1-1.6 1-0.2 1 3.6 1-1.5 1-4.1 1 2 1 1 1 1 1-0.1 1-0.1 1 2 1-5.7 1 2.6 1 1.6 1-3.9 1 3.4 1-3.5 1 3.9 1-2.5 1 3.3 1-3.4 1 3.3 1-1.2 1-0.9 1 2.2 1-1.6 1 0.8 1-0.7 1-2 1 2.3 1-3 1 3.6 1 0.1 1-3.1 1 3.2 1-1.7 1 1.5 1-0.5 1-1.1 1 1.6 1-0 1 0.5 1-3 1 2.6 1-0 1-0.6 1 0.2 1 0.3 1-1.3 1 0.5 1 0.7 1-0.1 1-3.3 1 2.8 1 0.5 1-0.2 1-1.3 1-2.4 1 4.5 1-1.8 1 1.3 1-1 1 1.1 1 0.1 1-0 1-0.2 1-1 1-3 1 4.4 1-0.2 1-0.2 1-4 1 0.1 1 0.1 1 2.1 1 1.3 1 0.9 1-1.1 1-0.6 1 1.1 1 0.2 1 0.3 1-1.8 1 1.1 1-2.3 1 2.7 1-0.1 1-3.2 1 2.6 1 1.3 1-0.6 1 0.2 1-0.6 1 1.2 1-2.9 1-0 1 1.7 1-0 1-0 1 0.3 1-2.9 1 3.3 1-4.4 1 4.4 1-1.4 1 1.3 1-0.2 1-0.4 1 1 1-2.3 1 0.8 1-0.9 1-0.5 1 2.4 1-0.5 1-0 1-2.8 1 2.8 1 0.5 1-1.4 1 1.1 1-2.4 1-1.2 1 0.9 1 2.9 1-2.7 1 2.8 1-0.4 1-2.6 1 1.8 1-3.1 1 1.6 1 1.5 1-2.2 1 2.4 1-2.8 1 4.7 1-1.5 1 0.6 1-0.5 1 0.3 1-4 1 2.2 1 1.4 1-2.2 1 3.9 1-5 1 4.7 1-1.8 1-3.3 1 4.5 1-0.2 1 0.9 1-0.2 1-1.9 1 0.2 1 0.7 1-1.2 1 1.2 1 0.3 1-0.4 1 0.6 1 0.8 1-1.5 1-1.1 1-1.9 1 1.3 1 1.8 1 0.4 1-0.5 1-0.8 1 0.8 1 0.3 1-1.3 1 2.6 1-3.3 1-2 1 4.5 1-2.3 1 1.7 1 0.3 1-2.2 1 0.1 1 1.7 1-3.7 1 2.3 1 2.6 1-4.9 1 3.2 1-3.2 1 4.2 1-0 1-0.3 1-1.2 1-1 1 2.3 1-4.1 1 4.3 1-0.4 1-3.9 1 0.1 1-0 1 2.6 1 0.6 1-3.2 1 4.5 1-0.5 1-0.6 1-0.4 1-2 1 2.2 1-0.5 1-0.3 1 1.3 1-0.8 1 1.5 1-0.2 1-0.7 1 0.3 1-1.8 1 1.4 1-0.5 1-1.7 1 3.6 1-0.5 1-0.6 1-3.9 1 3.9 1-3.9 1 1.2 1 2.1 1-0.8 1-0.5 1 1.6 1-4.1 1 2 1 0.4 1-0.6 1-3 1-0.8 0.4-0.8 0.6-1.3 1 3 1 3.1 1 1 1 1 1 0.2 1 0.5 1-3.2 1 4 1-4.9 1 3.9 1 0.5 1-0.3 1-0.6 1-0.1 1 0.5 1-2.9 1 3.4 1-0.2 1-2.4 1 2.6 1-0.4 1-1.8 1-0.2 1 0.1 1-0.2 1 1.6 1-0.5 1 0.1 1 0.5 1-2.4 1 2.2 1-2 1 2 1-2.2 1 4 1-5.3 1 4.2 1-0.4 1 0.1 1-3.9 1 4.6 1-0.8 1-0 1-3.8 1 0.2 1 4.1 1-0.5 1-0.6 1 1 1-4.1 1 2.7 1 2 1-1.4 1 0.3 1 0.2 1-0.9 1-1.2 1 2 1 0.2 1-1.4 1 2.1 1-3.7 1 3.4 1-1.4 1 0.5 1-1.6 1 1.6 1-1.6 1 1.8 1-5.4 1 0.3 1-3.9 1-1.2 1-3.1 1 3 1 3.3 1 3.4 1 0.4 1 1.4 1-5.7 1 2.6 1-2.3 1 0.4 1 3 1 3.4 1-1.2 1-0.7 1-0.1 1 0.9 1 0.9 1 0.5 1-0 0.75-0.6" fill="none" stroke="#0000ff" stroke-width="2.8" stroke-linejoin="round" shape-rendering="crispEdges"/><path d="M117.4 2928.8l0.6 0.1 1 0.1 1 0 1 0 1 0 1 0 1-0.1 1 0.1 1 0 1-0.1 1 0 1 0 1 0 1 0 1 0 1 0.1 1 0.1 1 0 1 0 1 0 1 0 1-0.1 1 0 1-0.1 1 0.1 1 0.1 1 0.1 1 0 1-0.2 1-0.1 1-0.1 1 0.2 1 0.1 1 0.1 1-0.1 1 0 1 0 1-0.1 1 0 1 0 1 0.2 1 0 1-0.1 1-0.1 1 0 1 0.2 1 0 1-0.2 1 0 1 0 1 0.1 1 0.1 1 0.1 1 0 1-0.2 1 0 1 0 1 0 1 0 1 0 1-0.1 1 0 1 0 1 0.1 1 0 1-0.1 1 0 1 0.1 1-0.1 1 0 1 0 1 0 1 0.1 1 0 1-0.1 1 0 1-0.1 1 0.2 1 0 1 0.1 1 0 1 0 1-0.2 1 0.1 1-0.1 1 0.1 1-0.1 1 0.1 1 0.1 1 0 1 0 1 0 1 0 1 0 1 0.1 1-0.1 1 0 1 0 1 0 1 0 1 0 1 0 1 0 1-0.3 1 0 1 0 1 0.2 1-0.2 1 0 1 0 1 0 1 0 1 0 1 0.1 1 0 1-0.1 1 0 1 0 1 0.2 1-0.1 1 0.1 1-0.1 1-0.1 1-0.1 1 0.1 1 0 1 0.2 1 0 1 0.1 1-0.2 1 0 1 0 1 0.1 1 0 1 0 1 0 1 0 1-0.1 1 0.1 1 0 1 0.1 1 0 1-0.1 1-0.2 1 0 1 0 1 0.2 1 0 1 0.1 1-0.1 1 0 1 0 1 0 1 0 1 0 1 0.1 1 0 1 0 1-0.1 1-0.1 1 0 1 0.2 1-0.2 1 0.2 1-0.1 1 0.1 1 0 1 0 1 0 1-0.1 1 0.1 1-0.2 1 0 1-0.1 1 0 1 0.1 1 0 1-0.1 1 0.1 1 0.1 1 0 1-0.1 1 0.1 1 0 1 0 1 0 1 0 1-0.1 1 0 1-0.1 1-0.1 1 0 1 0.1 1 0 1-0.2 1-0.4 1-0.3 1-0.4 1-0.3 1-0.2 1 0.3 1 0.4 1 0.5 1 0.2 1 0.2 1 0.1 1 0.1 1 0.1 1 0 1 0.1 1 0 1 0 1-0.1 1 0 1-0.1 1 0.1 1-0.1 1 0.1 1-0.1 1 0.1 1 0 1 0 1 0 1 0 1 0 1 0 1 0 1 0.1 1 0 1 0 1 0 1-0.1 1 0 1 0 1 0 1 0 1 0.1 1-0.2 1-0.1 1 0 1 0.1 1 0.2 1-0.1 1 0 1-0.2 1 0.1 1 0.1 1 0.1 1 0 1-0.1 1 0 1-0.2 1 0 1 0.1 1 0.1 1-0.1 1 0.2 1-0.1 1 0 1 0 1 0.1 1 0 1-0.1 1 0.1 1-0.1 1-0.2 1 0.1 1 0 1 0.1 1-0.2 1 0 1 0.1 1 0.1 1 0.1 1-0.1 1 0 1 0 1 0 1 0.1 1 0 1 0 1-0.2 1 0 1 0.1 1 0.1 1-0.1 1 0 1-0.1 1 0 1 0.1 1 0 1 0 1 0 1 0.1 1-0.1 1 0 1 0 1 0.1 1 0 1 0 1-0.1 1 0 1 0.1 1 0.1 1-0.1 1-0.1 1-0.2 1 0 1 0 1 0 1 0 1 0 1 0.2 1 0 1 0.1 1 0 1-0.1 1-0.1 1 0 1 0.2 1 0 1-0.1 1 0 1 0 1 0.1 1-0.1 1 0.1 1 0 1-0.1 1 0 1 0 1 0.2 1-0.1 1-0.1 1 0 1-0.1 1 0.1 1 0 1 0 1-0.1 1 0 1 0.2 1 0.1 1 0 1 0 1-0.1 1 0 1 0.1 1-0.1 1-0.2 1 0 1 0.1 1 0 1 0 1 0 1 0.2 1-0.1 1 0 1-0.2 1 0 1 0.1 1 0.1 1 0 1-0.1 1-0.2 1 0.1 1 0 1 0.1 1-0.1 1 0 1 0 1 0.2 1 0 1 0 1-0.1 1-0.1 1 0 1 0 1 0.1 1 0 1 0.1 1 0 1 0 1 0 1-0.1 1-0.2 1-0.1 1-0.1 1 0.2 1 0.1 1 0.2 1-0.2 1-0.2 1-0.1 1 0 1 0.2 1 0.1 1 0 1-0.1 1 0 1 0.1 1 0.1 1-0.1 1 0 1 0 1-0.1 1-0.1 1 0.2 1 0 1 0.1 1 0 1 0 1 0 1 0 1 0 1 0 1 0 1-0.2 1 0 1 0 1 0.1 1-0.2 1 0.2 1 0 1 0.2 1-0.1 1 0 1-0.1 1-0.1 1 0 1 0 1 0.1 1 0 1-0.1 1 0 1-0.1 1-0.1 1-0.2 1-0.4 1-0.7 1-0.7 1-0.5 0.5-0.1 0.5 0.1 1 0.5 1 0.8 1 0.6 1 0.4 1 0.3 1 0.1 1 0.1 1 0 1-0.1 1 0.1 1-0.1 1 0.1 1 0 1 0.1 1 0.1 1 0 1-0.1 1 0.1 1 0 1 0 1 0 1-0.1 1-0.1 1-0.1 1 0.1 1 0.1 1 0.1 1-0.1 1 0.1 1-0.1 1 0.1 1 0 1-0.1 1 0 1 0 1 0.1 1 0 1-0.1 1-0.1 1 0 1 0.2 1 0 1 0 1-0.1 1 0 1-0.1 1 0 1 0 1 0.2 1 0 1-0.2 1-0.1 1 0 1 0 1 0.1 1-0.1 1 0.1 1 0 1 0 1 0 1-0.1 1 0.1 1-0.2 1 0.1 1 0 1 0 1 0 1 0 1 0.1 1 0 1 0 1 0 1 0 1 0 1-0.1 1 0 1-0.3 1-0.2 1-0.1 1 0.1 1-0.2 1-0.5 1-0.7 1-1.4 1-1.8 1-1.9 1-0.8 0.2-0.2 0.8 0.6 1 1.4 1 1.8 1 1.5 1 1.1 1 0.5 1 0.3 1 0.2 1 0.3 1-0 1 0.1 1 0.1 1-0 1-0 1-0 1-0 1-0.1 1 0.1 1-0.1 1-0 1-0.1 1-0.1 1-0.1 1-0.2 1-0.4 1-0.6 1-0.7 1-0.4 0.2-0.2 0.8 0.3 1 0.6 1 0.7 1 0.4 1 0.3 1 0.3 1 0.3 1 0.1 1 0.1 1-0 1 0.1 1-0.1 1-0.1 1-0 1 0.1 1-0 1-0 1 0.1 1-0 1 0.1 1-0 1-0 1-0.2 1-0.1 1-0.1 1 0.2 1-0 1 0.2 1-0 1-0.1 1-0.1 1-0 1 0.1 1 0.1 1-0 1-0 1-0 1-0 1-0.1 1-0 1-0.1 1-0.1 1-0 1 0.1 1 0.2 1-0.1 1-0.1 1-0.1 1-0.1 1 0.1 1 0.2 1-0.1 1-0.1 1-0.1 1 0.1 1 0.1 1-0 1-0.1 1-0 1-0.1 1-0 1-0.2 1-0 1-0 1 0.1 1-0 1-0 1-0 1-0.1 1-0.1 1-0.3 1 0.1 1-0.1 1 0.1 1-0.2 1-0.2 1-0.2 1-0.4 1-0.5 1-0.7 1-1.1 1-2.6 1-5.1 1-9.4 1-13.7 1-12.7 0.6-2.5 0.4 1 1 8.2 1 12.3 1 11.4 1 7.5 1 4.1 1 2 1 0.9 1 0.6 1 0.3 1 0.2 1 0.2 1 0.3 1 0.2 1-0 1-0 1-0 1 0.2 1 0.1 1-0 1-0 1-0 1-0 1-0.1 1-0 1-0.2 1-0 1-0.2 1-0.1 1-0.4 1-0.4 1-0.5 1-0.5 1-0.5 1-0.7 1-0.9 1-0.8 1-0.8 1-0.5 1-0.1 1 0.1 1-0 1-0.7 1-3.2 1-8.3 1-13.9 1-9.2 0.1-0.1 0.9 5.1 1 9.2 1 10.9 1 8.1 1 4.2 1 1.9 1 1 1 0.5 1 0.3 1 0.3 1 0.1 1 0.1 1-0 1 0.1 1-0 1 0.2 1 0.1 1-0 1-0.1 1-0 1 0.1 1 0.1 1-0 1-0.1 1-0 1 0.1 1-0 1-0.1 1-0 1-0 1-0 1-0 1 0.1 1-0 1-0.1 1-0 1 0.1 1 0.1 1 0.1 1-0 1-0.2 1-0 1-0.1 1 0.1 1-0 1-0 1-0 1-0 1-0 1-0.1 1-0.2 1-0 1-0 1-0 1-0 1-0 1-0.1 1-0.1 1-0.2 1-0.2 1-0.2 1-0.3 1-0.3 1-0.7 1-1.5 1-3.5 1-7.4 1-10.1 0.8-3.8 0.2 0.3 1 4.7 1 5.6 1 6.6 1 4.9 1 2.4 1 1 1 0.3 1 0.1 1-0.1 1-0.3 1-0.5 1-0.8 1-0.9 1-1.4 1-2 1-3.4 1-6.7 1-14.7 1-28 1-41.5 1-38.3 0.6-7.5 0.4 2.8 1 21.7 1 31 1 33.4 1 25.1 1 14.7 1 7.6 1 3.8 1 2.2 1 1.3 1 0.8 1 0.5 1 0.5 1 0.2 1 0.2 1-0.2 1-0 1-0.4 1-0.6 1-1.1 1-2.1 1-5.7 1-14 1-24.8 1-22.1 0.3-1.3 0.7 6.2 1 14.3 1 15.5 1 16.7 1 10.8 1 5.1 1 2.2 1 1 1 0.6 1 0.3 1-0.2 1-0.5 1-1 1-1.5 1-1.8 1-1.4 0.6-0.3 0.4 0.1 1 1.1 1 1.7 1 1.8 1 1.6 1 1.1 1 0.8 1 0.3 1 0.3 1-0 1-0 1 0.2 1 0.1 1 0.1 1 0.1 1 0.1 1-0 1-0.1 1 0.1 1-0 1 0.1 1-0 1-0 1 0.1 1-0.1 1 0.1 1-0.1 1 0.1 1-0 1 0.1 1-0.1 1-0 1-0.1 1-0 1-0.1 1-0 1-0.1 1 0.2 1-0.1 1 0.1 1-0.1 1-0 1-0.2 1-0.1 1-0.1 1-0 1-0.1 1-0.5 1-0.8 1-1 1-0.7 0.5-0.4 0.5 0.2 1 0.7 1 1 1 0.7 1 0.5 1 0.4 1 0.3 1 0.1 1 0.1 1-0 1-0 1 0.1 1 0.1 1-0.2 1-0.2 1-0 1 0.2 1-0 1 0.1 1-0.1 1 0.2 1-0 1-0.1 1 0.1 1-0.1 1-0 1-0 1 0.1 1 0.1 1-0.2 1-0 1-0 1 0.2 1-0 1-0 1 0.1 1-0.1 1-0.1 1-0 1 0.1 1 0.1 1-0 1-0.1 1-0.1 1-0 1 0.2 1-0 1-0.1 1 0.1 1-0.1 1 0.1 1-0.1 1-0.1 1-0 1 0.1 1-0 1-0 1-0.1 1-0 1-0.1 1 0.1 1-0 1 0.2 1-0 1-0 1-0.1 1-0 1-0 1-0.1 1-0 1-0 1-0 1-0.3 1 0.1 1 0.2 1 0.2 1-0 1-0 1-0 1-0.1 1-0 1-0.1 1-0 1-0.1 1-0.1 1-0.1 1-0 1-0.1 1 0.1 1-0.1 1 0.1 1-0.2 1-0.1 1-0.1 1-0.1 1-0.2 1-0.4 1-0.5 1-1.3 1-2.8 1-4.9 1-6.7 1-4.9 0.3-0.3 0.7 1.3 1 3.5 1 3.7 1 4.4 1 3.9 1 2.5 1 1.4 1 0.8 1 0.4 1 0.2 1 0.2 1 0.1 1-0 1 0.1 1-0 1 0.1 1 0.1 1-0 1 0.1 1-0 1-0 1 0.1 1-0 1-0 1-0 1-0 1-0 1-0 1-0 1-0 1-0 1-0.2 1-0 1 0.1 1 0.2 1-0.1 1-0 1 0.1 1-0 1-0 1-0 1-0 1-0.1 1-0.1 1-0 1-0 1-0.1 1 0.1 1 0.1 1 0.1 1-0.2 1 0.1 1-0.1 1 0.2 1-0.1 1 0.1 1-0 1-0 1-0.1 1-0 1 0.1 1-0 1-0.1 1-0 1-0 1-0 1-0 1-0 1-0 1-0.1 1-0.1 1-0.1 1 0.1 1 0.1 1 0.2 1-0.1 1 0.1 1-0.2 1-0.1 1-0.2 1 0.1 1 0.1 1 0.1 1-0 1-0.1 1-0.1 1 0.1 1 0.1 1-0 1-0.1 1-0.1 1 0.1 1 0.1 1-0.1 1-0.1 1-0 1-0 1 0.1 1-0 1-0 1 0.1 1-0 1-0 1-0.1 1-0 1-0.2 1-0.1 1-0 1 0.1 1-0 1-0 1-0.1 1-0.1 1-0.3 1-0.3 1-0.3 1-0.7 1-2.2 1-5.1 1-6.8 0.6-1.6 0.4 0.8 1 4.7 1 2.2 1 1.2 1 3.2 1 2.7 1 1.4 1 0.5 1 0.2 1 0.4 1-0 1 0.1 1-0 1-0 1-0 1-0 1 0.1 1 0.1 1-0.1 1-0 1-0.1 1 0.3 1-0 1-0 1-0 1 0.1 1-0.1 1-0 1-0.2 1-0 1-0.2 1-0.1 1-0.4 1-0.7 1-1.1 1-1.1 1-1 0.4-0.1 0.6 0.2 1 1.1 1 1.2 1 0.9 1 0.5 1 0.4 1 0.2 1 0.1 1 0.1 1 0.1 1-0 1-0.1 1-0 1 0.2 1-0 1 0.1 1-0 1 0.1 1-0 1-0.1 1-0.3 1-0.1 1-0 1 0.3 1-0 1 0.1 1-0 1-0 1-0 1-0.1 1-0 1 0.1 1-0 1-0 1 0.1 1-0 1-0 1-0.1 1-0.1 1-0 1-0 1 0.2 1-0.2 1 0.1 1 0.1 1-0.1 1-0 1-0.1 1 0.1 1 0.1 1 0.1 1 0.1 1-0 1-0 1-0.1 1-0.2 1-0.1 1-0 1 0.2 1 0.1 1 0.1 1-0.1 1-0.1 1-0.1 1-0 1-0 1-0 1 0.2 1-0.1 1-0.2 1-0 1-0 1 0.1 1-0 1 0.1 1 0.1 1-0 1-0.1 1-0.1 1-0 1 0.1 1-0 1 0.1 1-0.1 1-0.2 1-0 1-0 1 0.1 1-0.1 1-0.1 1-0 1 0.1 1-0.1 1-0 1-0.1 1 0.1 1-0.2 1-0.1 1-0.1 1-0 1-0.1 1-0.3 1-0.6 1-1.5 1-2.6 1-3.7 1-3.6 0.6-0.8 0.4 0.3 1 2.4 1 1.9 1 1.3 1 1.8 1 2.2 1 1.6 1 1.1 1 0.5 1 0.2 1 0.3 1-0 1 0.1 1-0 1 0.1 1 0.1 1-0.2 1-0.1 1-0 1 0.2 1-0 1 0.1 1-0 1-0.1 1-0 1 0.1 1-0 1-0 1-0.1 1 0.1 1 0.1 1-0.1 1-0 1-0 1-0.1 1 0.1 1-0.2 1-0.1 1-0 1 0.2 1 0.2 1-0.1 1-0 1-0 1-0 1-0 1-0 1-0 1-0 1-0 1-0.1 1-0.1 1-0 1 0.1 1 0.1 1-0.1 1-0.1 1-0.1 1-0.1 1 0.1 1 0.1 1 0.1 1-0 1-0.1 1-0 1-0 1-0 1-0.1 1-0 1-0.1 1-0 1-0.2 1-0.1 1-0.1 1-0.2 1-0.1 1-0.2 1-0 1-0.2 1-0.2 1-0.3 1-0.5 1-0.6 1-0.9 1-1.6 1-3 1-6.4 1-12.4 1-18.5 1-16.7 0.5-2.6 0.5 2.6 1 12 1 9.3 1 4.3 1 6.9 1 9.9 1 8.1 1 5 1 2.5 1 1.3 1 0.7 1 0.4 1 0.4 1 0.3 1 0.2 1 0.2 1-0 1 0.2 1 0.2 1 0.2 1-0 1-0 1 0.1 1-0.1 1 0.1 1-0 1 0.1 1 0.1 1-0 1 0.1 1-0.1 1 0.1 1-0.1 1-0 1-0 1-0 1-0 1 0.1 1-0.1 1-0 1 0.1 1-0 1-0 1-0.1 1 0.1 1-0 1 0.1 1-0 1-0.1 1 0.1 1 0.1 1-0.2 1-0 1-0.1 1 0.1 1-0 1-0.1 1 0.1 1-0.1 1 0.2 1-0 1 0.1 1-0 1-0.1 1-0 1-0 1 0.1 1-0 1-0.1 1-0.1 1 0.1 1-0 1-0 1-0 1-0 1-0.1 1 0.1 1-0 1-0 1-0 1-0 1-0 1-0 1-0 1-0 1-0.1 1-0.1 1-0 1-0 1 0.1 1-0 1 0.1 1-0.1 1-0.1 1-0 1 0.1 1 0.2 1-0.1 1-0.1 1-0.1 1 0.1 1-0 1-0.1 1-0 1-0 1-0 1-0 1 0.1 1-0.1 1-0.1 1 0.1 1-0.2 1 0.1 1-0 1 0.2 1-0.1 1-0.1 1-0 1-0.1 1-0 1 0.1 1-0.1 1-0 1-0.1 1 0.1 1-0 1-0 1-0.1 1-0 1-0.2 1-0 1-0.2 1-0.2 1-0.3 1-0.3 1-0.4 1-0.6 1-1 1-2 1-4.2 1-8.2 1-13.1 1-13.8 0.7-4.1 0.3 0.9 1 9.2 1 9.2 1 3.1 1 1.3 1 5.2 1 7.1 1 5.3 1 3 1 1.6 1 0.7 1 0.4 1 0.1 1-0.1 1-0.4 1-1.1 1-3.4 1-6.4 0.9-4 0.1-0 1 5.3 1 5.2 1 0.7 1-1.9 1 1.1 1 3.1 1 2.1 1 0.8 1 0.3 1 0.1 1 0.2 1 0.1 1-0 1-0 1-0 1 0.1 1-0 1-0.1 1-0 1-0 1-0 1-0 1-0.2 1 0.1 1-0 1 0.1 1-0 1-0 1-0 1 0.1 1-0.1 1-0 1-0.2 1 0.2 1-0 1 0.2 1-0 1-0 1-0 1-0.1 1-0 1-0.1 1 0.1 1-0 1-0 1-0 1-0.1 1 0.1 1 0.2 1-0 1-0.1 1-0.2 1 0.2 1-0 1-0.1 1-0.1 1-0 1 0.2 1-0 1-0 1-0 1-0 1 0.1 1 0.1 1-0.1 1-0.1 1-0 1 0.1 1-0 1-0 1-0 1 0.1 1-0 1-0 1 0.1 1-0.1 1-0 1-0.2 1-0 1-0 1 0.1 1-0 1-0 1-0 1-0 1-0 1-0 1-0 1-0 1 0.1 1-0 1-0.1 1-0.1 1 0.1 1 0.1 1-0.1 1-0.1 1-0 1-0 1-0 1 0.1 1-0 1-0 1-0.1 1-0 1-0 1-0 1-0 1-0 1-0 1 0.1 1-0.1 1-0.1 1-0 1 0.1 1-0 1-0 1-0 1-0.1 1-0 1-0.1 1-0 1-0.2 1-0.4 1-0.4 1-1 1-2.7 1-5.8 1-5.1 0.1-0 0.9 3.7 1 5.8 1 1.8 1-1.3 1-1.5 1 2.2 1 2.6 1 1.3 1 0.4 1 0.2 1 0.1 1-0 1-0 1-0 1 0.2 1 0.1 1-0 1 0.1 1-0.1 1-0.2 1-0 1-0 1 0.1 1-0.1 1-0.3 1-0.5 1-1.3 1-2.8 1-3.2 0.4-0.6 0.6 0.9 1 3.3 1 2.1 1-0.1 1-0.9 1 0.3 1 1.5 1 1 1 0.6 1 0.2 1 0.2 1-0.1 1 0.1 1-0.1 1-0 1 0.1 1 0.1 1-0 1 0.1 1-0 1-0 1-0.1 1-0.1 1 0.1 1-0.2 1 0.1 1-0.1 1 0.1 1-0 1-0 1-0.2 1-0.1 1-0.3 1-0.4 1-0.7 1-1.1 1-1.1 1-1 0.5-0.2 0.5 0.1 1 0.9 1 1.1 1 0.8 1 0.5 1 0.3 1-0 1-0.1 1-0.5 1-0.1 1 0.2 1 0.4 1 0.4 1 0.4 1 0.4 1 0.2 1 0.1 1-0 1-0.1 1 0.1 1-0 1-0 1-0 1-0 1-0.1 1-0 1-0 1 0.2 1-0.1 1-0 1-0 1 0.1 1-0 1-0 1-0 1 0.1 1-0.1 1-0 1-0 1 0.1 1-0.1 1-0 1 0.1 1 0.1 1-0 1-0 1-0.2 1-0.1 1-0.1 1 0.1 1-0 1 0.1 1-0.1 1-0 1-0 1-0 1-0 1-0.1 1-0.1 1 0.1 1-0 1 0.1 1 0.1 1-0.1 1-0 1-0.2 1-0.2 1-0 1-0 1-0.1 1-0.4 1-0.4 1-0.8 1-0.9 1-1.1 1-1.3 1-1.4 1-0.9 0.6-0.2 0.4-0 1 0.6 1 0.8 1 0.8 1 0.4 1 0.5 1 0.6 1 0.6 1 0.4 1 0.2 1 0.1 1 0.1 1 0.4 1 0.6 1 0.7 1 0.4 1 0.2 1 0.1 1 0.1 1 0.2 1 0.1 1-0.1 1 0.1 1-0 1 0.1 1-0 1-0.1 1-0 1-0 1 0.1 1-0 1-0 1-0 1-0.1 1-0 1-0 1 0.1 1-0.1 1 0.1 1-0 1 0.1 1-0.1 1-0 1-0 1-0.1 1-0 1-0 1-0 1-0.2 1-0 1 0.1 1 0.2 1-0.1 1-0 1-0 1-0.1 1-0.1 1-0.1 1 0.2 1-0.2 1 0.1 1 0.1 1 0.1 1-0 1-0 1-0 1-0.1 1-0.1 1 0.1 1-0 1-0 1-0.1 1-0 1-0.1 1 0.2 1 0.1 1 0.1 1-0 1-0 1-0.1 1-0 1-0 1-0 1-0.2 1-0.1 1-0 1 0.2 1 0.2 1-0.1 1-0 1-0 1-0 1-0 1 0.1 1-0.1 1 0.1 1-0.1 1-0 1-0.1 1-0 1-0 1 0.1 1 0.1 1-0 1-0.1 1-0.1 1-0 1 0.1 1 0.1 1-0 1-0 1-0 1-0 1-0 1-0 1 0.1 1-0.1 1-0 1-0.1 1-0 1-0 1-0 1-0 1 0.2 1-0 1-0 1-0 1-0.1 1 0.1 1-0 1 0.1 1-0.1 1-0.1 1-0 1 0.1 1-0.1 1-0.1 1-0 1 0.1 1-0 1 0.1 1-0 1-0 1-0.1 1-0 1-0 1-0 1-0.1 1 0.1 1 0.1 1-0 1-0 1-0.1 1-0 1 0.1 1-0 1-0 1-0 1-0 1-0.1 1 0.1 1 0.1 1-0 1-0 1-0.1 1-0.2 1-0 1-0 1 0.2 1-0 1-0 1-0 1-0 1-0 1-0.1 1-0 1-0 1 0.1 1-0.1 1-0 1-0.2 1-0.1 1-0.1 1 0.2 1 0.1 1 0.1 1-0 1-0 1-0 1 0.1 1-0.2 1-0.1 1 0.1 1 0.1 1 0.1 1-0 1-0 1-0.2 1 0.1 1-0 1-0.1 1-0 1 0.1 1 0.1 1-0 1-0.1 1 0.1 1-0 1-0 1 0.1 1-0.2 1-0.1 1-0 1 0.1 1-0 1 0.1 1-0 1-0.2 1 0.1 1-0 1-0 1-0 1-0.2 1-0 1-0.2 1 0.1 1-0 1 0.1 1 0.1 1 0.1 1-0 1 0.2 1-0.2 1-0.1 1-0.1 1 0.2 1-0 1-0.1 1 0.1 1-0 1 0.1 1-0 1 0.1 1-0.1 1-0.1 1-0 1-0.1 1 0.1 1-0 1 0.1 1-0 1-0.1 1 0.1 1-0.1 1-0 1-0.1 1-0 1 0.2 1-0 1-0 1-0 1-0 1-0 1-0.1 1-0 1 0.1 1-0.1 1-0 1-0.1 1-0 1-0 1-0 1 0.1 1 0.1 1-0 1-0 1 0.1 1-0 1-0.1 1-0 1-0.1 1 0.1 1-0.1 1 0.1 1-0 1 0.1 1-0.1 1-0 1-0.1 1-0.1 1-0 1-0 1 0.3 1-0 1-0.1 1-0 1-0.1 1 0.1 1-0 1 0.1 1-0.2 1-0 1-0.1 1 0.1 1-0 1 0.1 1-0 1-0 1-0.1 1-0.1 1 0.1 1-0 1-0.1 1-0.1 1 0.1 1 0.2 1-0 1-0 1-0.2 1-0.1 1-0 1 0.1 1 0.1 1-0.2 1-0.3 1 0.1 1 0.3 1 0.2 1-0.1 1 0.1 1-0.1 1-0.1 1-0.1 1-0 1-0 1-0 1 0.1 1 0.1 1-0 1 0.1 1-0.1 1-0 1-0 1-0.1 1-0 1 0.1 1-0 1 0.1 1-0.1 1-0 1-0.1 1 0.1 1-0.1 1 0.1 1-0 1-0 1-0.1 1-0 1-0 1 0.1 1 0.1 1-0 1-0 1-0 1-0 1-0.1 1-0 1-0.1 1 0.1 1-0.1 1-0 1-0 1-0 1-0.1 1 0.1 1-0.1 1-0 1 0.1 1 0.1 1-0.1 1-0 1-0 1-0.1 1-0 1-0.1 1-0.1 1-0.1 1-0.3 1-0 1-0.2 1-0 1-0.4 1-0.6 1-0.8 1-1.1 1-1.4 1-1.8 1-1.5 1-0.5 1 0.7 1 1.2 1 0.9 1 0.6 1 0.3 1 0.2 1 0.4 1 0.5 1 0.5 1 0.4 1 0.2 1-0.3 1-0.6 1-0.5 0.6-0.1 0.4 0.2 1 0.8 1 0.9 1 0.9 1 0.4 1 0.7 0.75 0.1" fill="none" stroke="#ff0000" stroke-width="3.0" stroke-linejoin="round" shape-rendering="crispEdges"/><path d="M117.4 3085.9l0.6 0.8 1 0.4 1 1.3 1-1.7 1-2.2 1-0.3 1 2.9 1-4 1-0 1 3.8 1-0.1 1-2.4 1 2.4 1-0.7 1-2.4 1 0.1 1 3.3 1-0.1 1 0.1 1-0.4 1-0.2 1 0.4 1-2.1 1 1.7 1 0.1 1 1.5 1-0.5 1-0.5 1-1.3 1 1.5 1-4.2 1 3.2 1-0.2 1 0.4 1-0.9 1-1 1 2.6 1-4 1 4.2 1-1.8 1 1.4 1-0.1 1-1.7 1 1.2 1-3.2 1 4 1-1.6 1-0.1 1-2.2 1-0 1 1.9 1-1.9 1 1.6 1 2.5 1-1.3 1-2.2 1 3.3 1-4 1 2.8 1 1.2 1-1.5 1 2.2 1-0.6 1 0.2 1-2 1 1.9 1 0.4 1-1.9 1 1.1 1 0.2 1-0.1 1-3 1 2.1 1 0.9 1-4.1 1 2.4 1-2.4 1 1.1 1-0.8 1 3.9 1-0.2 1-2 1 1.6 1-0.2 1-2.4 1 4.3 1-1.4 1-3.9 1 4 1-0.4 1-0.8 1 0.2 1-0 1 1.4 1-1.5 1 1.3 1-4.1 1 4.1 1-1.1 1 0.8 1-2.9 1 2.5 1-1.5 1 2.2 1-0.2 1 0.4 1-0.6 1 0.1 1 0.6 1 0.1 1-1.3 1 0.5 1 0.3 1 0.2 1 0.2 1-1.1 1 0.6 1 0.1 1-0.1 1-0 1-0.1 1-0.4 1 1.5 1-1.1 1 0.6 1-0.5 1-3.3 1 4.4 1-0.5 1-0.5 1 1.2 1-5.2 1 4 1-4 1 3.6 1-2.8 1 0.9 1 2.1 1-1.4 1 1.7 1-0.2 1-3.9 1 4.2 1 0.1 1-4.3 1 3.9 1-1 1-2.9 1 3.9 1 0.1 1-4 1 3.6 1-0.7 1 0.9 1-1.5 1 2.5 1-1.6 1-1.9 1 0 1 2.7 1-1.9 1-2.1 1 3.3 1-1.3 1 1.9 1 1 1-3 1 2.5 1-0.2 1-0.7 1 0.2 1 0 1-2.7 1 2.3 1 0.3 1 0.8 1-2.9 1 3.1 1 0.7 1-1.1 1-2.2 1 0.8 1-2.2 1 2.1 1-0 1 0.1 1 1.3 1-0.1 1-0.1 1-0.7 1 1.1 1-0.4 1-1 1 0.7 1 0.2 1-0.1 1 0.8 1 0.1 1-0.4 1-2.9 1 0.4 1 1.2 1-0.8 1-0.4 1 3.6 1-1.3 1-2.4 1-1.6 1 3.2 1-3.2 1 0.9 1 2.4 1 1.1 1-0.1 1-0.6 1-0.5 1 0.5 1-1.5 1 0.1 1 1.3 1-1 1 0.3 1 2.1 1-0.4 1-1.7 1-1.1 1 1.7 1 0.4 1-0.7 1-0.6 1 0.7 1 1.8 1-2.2 1-1 1 1.4 1-3.3 1 4.6 1 0.3 1-4.9 1 4.4 1 1 1-1.3 1-2.4 1 2.5 1-0.2 1-2.1 1-1.8 1 1.8 1 1 1 1.1 1-2.1 1-1.8 1 4.4 1-0 1-0.5 1-2 1 0.2 1 1.7 1 0.2 1-3.6 1 2.2 1-2.1 1 3.3 1-2.9 1 3.3 1-4.2 1 3.9 1-0.1 1-1.3 1 1.2 1 0.3 1-1.6 1 1.6 1-4.1 1 4.1 1-2.5 1 2.5 1 0.7 1 0.4 1-1.7 1 1.1 1-1.4 1 1 1-0.6 1-0 1-3.7 1 3.8 1 0.9 1 0.6 1-3.8 1 1.9 1-3.2 1 4.6 1-1 1 0.4 1-1.7 1 1.4 1-3.6 1 3.7 1-0.2 1 0.3 1-1.5 1-1.5 1 1.3 1 1.7 1 0.4 1-0.1 1-1.1 1 0.8 1-0.3 1-2.8 1 1.6 1 0.6 1 0.9 1-0.2 1 0.1 1-0.3 1 0.2 1-0.6 1 0.9 1-3.6 1 2.2 1 0.2 1-1.5 1 2.9 1 0.1 1 0.1 1-0.5 1-1.9 1 0.9 1-3.2 1 4.5 1-2.1 1 2 1-0.1 1-0.2 1-4 1 2.4 1-3.5 1 1.8 1-2.9 1-1.8 1-1.2 0.7 0.6 0.3-1.9 1 2.9 1 2.1 1 1.7 1 1.8 1 1.5 1-0.1 1-3.9 1 3.4 1 1.2 1-0.5 1-2.4 1-1.2 1 4.9 1-0.2 1 0.4 1-1.1 1 0.3 1-3.5 1 1.3 1 2 1-4 1 4 1-1.1 1-1.1 1 2.6 1-1.1 1-0.4 1 0.8 1-1.8 1 1.8 1 0.4 1-2.6 1 2.4 1-1.5 1 1.5 1-1.8 1 1 1 1.3 1-1.9 1 1.4 1-3.9 1 3.9 1-2.3 1 3.6 1-1.3 1 0.9 1-1.4 1 0.7 1-3.9 1 1.6 1-1.8 1 4.2 1 1 1-1.6 1-3.4 1 2.7 1-2.9 1 3.8 1 0.3 1-1.8 1-1.3 1 2.9 1 0.2 1-0 1-4.2 1 5.2 1-4.4 1 3 1-3.7 1 1.6 1 2.8 1-1.4 1 0.9 1-0 1 0.7 1-4.1 1 4.4 1-2 1-3 1 2.4 1-2.4 1 1.4 1-1 1 3.8 1-1 1-0.8 1 0.6 1 1.2 1 0.1 1-0.9 1-1 1 0.3 1 1.8 1-1.1 1-0.4 1-1.9 1 0.9 1-1.5 0.5 1.1 0.5-0.5 1-1.5 1 0.4 1 3.5 1-0.8 1 1 1-3.9 1 2.5 1 1 1-3.4 1 5.7 1-1.4 1-2.2 1 1.6 1-1.1 1 1.6 1-0.3 1-0.9 1-2.2 1-0.6 1 4.3 1-2.2 1 3 1-1.2 1-1.3 1 1.5 1-1.2 1 0.8 1-3.7 1 3.2 1 0.8 1 0.7 1-0.8 1-2.3 1-1.5 1 2.9 1 0.7 1-0 1-1.2 1-1.5 1 0.1 1 2 1-0.7 1 1.4 1-3.1 1 4.1 1-3.6 1 2.1 1 0.2 1-0.5 1 0.7 1 0.6 1-0.7 1-0.4 1-0.4 1-1.4 1 2.4 1 1.2 1-1.3 1-0.8 1-0.2 1 2.2 1-3.5 1-1.4 1 3.3 1-2.2 1-0.6 1-0.5 1 4.4 1-3.2 1 2.4 1 0.8 1-1.5 1 0.7 1-2.8 1 0.5 1 2.6 1-1.9 1-0.3 1 2.4 1-1.8 1 0.7 1-3.7 1 1.1 1 1 1-1.4 1-1 1-6.8 1-1.2 0.3 0.5 0.7 2.4 1 0.4 1 4.1 1 0.3 1 1 1 2.1 1-2.9 1 3.9 1 0.7 1 0.4 1-2.7 1 2.3 1 0.1 1 0.3 1 0.2 1-2.4 1 2.9 1-4.8 1 4 1-2.3 1 2.2 1-1.9 1-0 1 0.7 1-2.6 1 4.5 1-1 1 0.6 1-1 1 1 1 0.3 1-0.6 1 0.2 1-0.4 1-0.3 1 1.1 1-0 1 0.5 1-0.9 1-0.1 1-1.2 1-0.3 1 2.3 1-1.6 1 0.6 1 1.9 1-1.5 1-1.4 1-1.3 1 1.2 1-0.9 1 2.9 1-4.4 1 4.8 1-3.1 1 2.4 1-0.4 1 0.2 1 0.7 1-4 1 3.9 1 0.2 1-2.6 1 1.7 1-3.8 1 2.2 1 0.6 1-0.7 1-0.4 1 3.2 1-0.5 1-0.1 1-4.4 1 4 1-0.2 1-3.2 1 1.9 1 1.2 1 0.4 1 0 1-0.7 1-1.1 1-0.3 1-0.6 1 3 1-0.8 1 0.2 1 0.4 1-2.2 1-2.1 1 2.9 1 1.6 1-1.8 1-2.5 1 3.7 1 0.1 1-1 1 0.8 1-1 1-3.2 1 3.2 1 0.5 1-1.7 1 1.3 1-4 1 2.2 1 0.6 1 0.4 1-4.1 1-3.3 1-0.4 1-9.3 1-13.1 1-12.6 0.7-4.1 0.3 3.4 1 6.2 1 10.5 1 11.5 1 4.4 1 4.1 1 6.4 1-0.5 1 2 1-2.9 1 0.3 1 2.2 1-3.6 1 4.2 1-2.3 1 2.1 1 0 1 1.2 1-1.9 1-2.8 1 3.3 1-3.3 1 2.7 1-0.1 1 1.2 1-0.2 1 0.1 1-2.7 1 2.7 1-1.8 1-0.3 1 0.1 1 1.9 1 1 1-3.2 1 1.1 1-2.9 1 2.7 1 0.5 1 0.1 1-2.7 1 2 1-1.6 1-2 1-5.1 1-11.1 1-23.2 1-8.9 1 9.7 1 11.4 1 13.6 1 8.8 1 3 1 4.4 1-0.3 1-0.9 1 3.1 1 0.3 1 0.1 1 0.1 1-0.7 1-1.5 1-1.6 1 3 1 1 1-0.2 1 1 1-3 1 2.3 1-2 1 1.9 1 0.4 1-3.7 1 3.1 1 0.1 1-0.5 1 1.8 1-0.9 1-0.4 1 0.2 1 0.9 1-3 1 0.9 1-2.2 1-0.4 1 4.7 1-2.8 1 0.3 1 1.7 1-1.5 1-1 1 2.1 1-0.1 1 1.1 1-0.4 1-0.9 1-3.9 1 4.4 1-2.4 1 0.3 1-0.9 1 0.8 1-2.9 1-5.6 1 0.2 1-0.5 0.1-1.2 0.9 0.1 1 2.5 1 2.6 1 0.6 1 1.4 1-1.1 1 0.6 1-4.4 1-8.1 1-14.4 1-8.3 1 4.2 1 9.3 1 9.8 1 6.9 1 2.6 1 4.2 1-0.5 1-1.9 1 1.5 1 1.7 1-1.6 1 0.6 1-1.5 1-5.2 1-2.4 1-0.3 1-10.7 1-21.6 1-29 1-39.4 1-17.5 1 12.4 1 23.3 1 31.6 1 26.2 1 16.3 1 5.9 1 5.6 1 1.9 1 3.3 1-0.2 1 0.7 1-0.8 1 1.8 1-2.7 1 2.9 1-3.3 1 4.2 1-2.5 1 1.2 1-1.9 1-2.4 1-0.4 1-12.3 1-14.3 1-31.2 1-23.7 0.2-3.4 0.8 6.5 1 19.9 1 19.9 1 19 1 14.5 1 5.9 1-1.1 1 4.9 1 1 1 0.4 1-1.7 1-1.3 1 1.7 1-2.1 1-0.7 0.4 1 0.6-4.4 1 3.9 1 2.8 1 1.9 1 0 1-0.9 1 2.3 1-0.4 1-3 1 0.8 1 1 1 1.2 1 0.6 1 0.1 1-2.6 1 2.4 1 0.3 1-1.4 1 1 1-0.5 1 0.1 1-3.3 1 3.8 1-3.2 1 3.3 1-1.6 1 1.7 1-0.2 1-1.7 1 0.7 1 1.9 1-0.8 1-3.4 1 3.3 1-0.2 1 1.1 1-4.6 1 3.8 1 0.5 1-0.1 1-0.5 1 0.4 1 0.1 1-2.1 1 0.3 1 0.4 1-2.7 1 0.6 1-3.7 1-0.8 0.6 1.4 0.4 2.2 1-2.5 1 4.7 1 0.1 1 0.8 1-1 1-0.1 1 1.3 1-2.9 1 3.3 1-0.1 1 0.4 1 0.2 1-0.7 1-0.7 1 0.6 1-2.8 1 1.9 1-1.1 1 1.6 1 2.5 1-1.9 1 0.4 1-1.5 1 1.5 1 0.1 1-2.4 1 1.9 1-1.5 1-1.7 1 3.5 1 1.1 1-0.9 1 0.6 1 0.1 1-4.4 1-0.2 1 4.6 1-4.6 1-0 1 2.3 1 1 1-2.5 1 1.8 1-0.3 1 0.4 1 1.1 1-0.3 1 0.3 1-0 1-1.8 1 2.4 1-0.1 1-1.1 1-2.4 1 1.2 1 1.1 1 1 1 0.7 1-1 1-1.1 1 1.9 1-4.4 1 2.3 1-1.4 1 0.6 1 3.7 1-4.1 1 0.4 1 3.1 1-1.4 1 0.2 1 0.1 1-2 1 2.8 1-0.3 1 0.8 1-3.8 1 2.9 1-0.3 1 0.1 1-0.6 1 1.6 1-3 1 2.3 1-0.2 1-1.4 1-1.8 1 0.7 1 2.2 1-1.4 1 1.9 1-3.3 1 1.8 1 0.4 1 0.2 1-0.7 1-2 1 0.6 1-6.3 1-0.9 1-7.6 1-5.2 1 6.1 1 0.5 1 4.6 1 0.4 1 6.5 1 2.1 1 0.8 1 0.3 1-0.2 1 1.2 1-0.3 1-3.6 1 0.1 1 4.1 1 0.2 1-1.6 1 1.2 1-0.1 1-1.9 1 1.3 1 0.9 1 0.3 1-0.8 1 0 1 0.4 1 0.6 1-3.2 1 3 1 0.5 1-1.4 1-1.2 1 1 1 1.1 1 0.6 1-1 1-2.8 1 0.8 1 1.6 1-1.4 1 2.7 1-3.8 1 3.6 1-0.3 1-2 1 2 1 0.6 1-3.5 1 2.2 1-0.9 1-0.6 1 0.7 1 1.5 1-0.2 1-3.9 1 2.8 1 0.6 1-2.2 1 0 1 0.6 1 0.4 1 1.9 1-3.3 1 0.2 1 2.5 1-0.7 1-1.9 1 3.4 1-1 1 0.8 1-0.4 1-2 1 0.9 1 2 1 0.6 1-1.1 1 0.8 1-1.5 1 0.8 1-0.4 1 0.6 1-2 1-0.6 1 2.3 1-0.8 1-1.1 1-1.9 1 3.6 1-2.9 1 2.7 1-2.1 1 2.2 1 0.1 1-0.4 1 0.7 1-0.3 1-0.2 1 0.2 1 0 1-1.4 1-2.5 1 2 1 1.9 1-2 1-0.1 1 1.1 1 2.2 1-1.3 1-0.3 1-3.7 1 5.5 1-3.2 1 2 1-0.6 1 0.2 1-0.4 1-1.1 1-1.3 1-2.3 1 1 1-5.4 1-8.7 0.7-1.4 0.3 0.9 1 0.9 1 2.9 1 5.6 1-0.8 1 7.1 1 1.4 1 2 1-0.5 1-1.5 1 1.3 1 0.3 1 0.2 1 0 1-1 1 0.8 1 0 1 0 1-1.1 1-1.4 1 2.6 1 0.9 1-3.7 1 1.5 1-1.1 1 3.4 1 0 1-0.7 1-2.1 1 2.5 1-0.9 1-1.3 1 1.7 1-0.3 1 1.2 1-4 1 1.2 1 1.1 1-0.1 1 0.8 1-3.8 1 2.3 1-2.3 1 3.7 1-0.9 1 1.1 1-1 1 0 1-0.8 1-0.9 1-0.2 1 0.3 1 2.5 1-2 1 2 1-1.9 1 0.8 1 1.6 1 0.4 1-4.7 1 3.9 1-1.8 1 1.5 1 1.2 1-1.5 1 1.1 1-3.3 1 2.6 1-3.7 1 1.8 1 2.4 1-4.1 1 5.3 1-5.3 1 2.8 1 0.9 1 0.5 1-0.2 1-0.4 1 0.8 1-0.5 1-0.3 1 1 1-2 1-2.7 1 3 1 1.2 1-0.3 1-0.8 1 0.4 1-2.4 1 3.2 1 0.4 1-1.2 1 0.4 1-3.4 1 3.7 1-0.8 1 0.6 1-0.3 1-3.8 1 5.2 1-4.6 1-0.2 1 0.5 1 1.1 1 0.9 1 0.8 1 0.6 1 0.6 1-4.9 1 1.3 1 2.8 1-0.1 1-3.9 1 3.9 1-0.1 1-0.9 1 2 1-3.4 1-1.5 1 3.6 1 0.8 1-0.5 1 0.8 1-1.7 1-2 1 4.1 1-0.4 1-1.8 1 0.1 1 1.3 1-3.5 1 3.5 1 0.1 1-0.1 1-3.9 1 3 1-3.9 1-0.4 1 1.9 1-1.6 1-5.6 1-3.6 0.7 2.7 0.3-2.1 1 4.4 1 0 1-0.1 1 2.8 1 2.6 1-1 1-0.2 1 1.3 1 3.4 1-0.5 1 0.3 1-2.7 1 2.2 1-3.5 1 3.7 1 0.7 1-3.1 1 3.6 1-1.5 1-0.2 1 0.9 1-3.7 1 3.7 1-2.1 1 2.2 1 0 1-1.8 1-1 1 0.4 1 1.1 1 2.2 1-0.9 1-0.2 1 0.1 1 0 1-3.2 1 2.8 1-1.2 1-1.3 1 3.1 1-3.6 1 5 1-1 1 0.2 1-0.1 1 0 1 0.5 1-5.2 1 3.3 1-3 1-0.3 1 0.3 1-0.3 1 4.3 1-1.5 1 1.2 1 0.2 1-0.5 1-2.6 1 1.6 1-1.2 1 3 1-0.3 1-1 1 0.5 1-4.1 1 4.2 1-0.6 1-3 1 0.8 1 2.4 1-2.8 1-0.3 1 2.9 1 0.2 1-2.4 1-1.3 1 2.8 1-1.5 1-2.1 1 2.4 1-3 1 0.8 1-3.1 1-5.2 1-11.9 1-20.1 1-19.4 0.7-7.6 0.3 3.7 1 8.7 1 11.7 1 7.8 1 6.9 1 10.3 1 8.5 1 3.3 1 4 1-0.3 1 3.4 1 1.9 1 0.8 1-2.5 1 1.8 1 1.2 1-2.6 1 2.7 1-1.1 1 2.1 1-2.2 1-2.2 1 2.3 1-0.1 1 3 1-1.3 1-1.5 1 0.9 1 1.1 1-2.2 1 0.8 1-2.7 1 5.5 1-5.5 1 4 1-0.9 1 1.2 1 0.8 1-1.8 1-1.9 1 3.3 1-0.9 1-3.8 1 2.1 1-2.1 1 2 1 1.8 1-3.8 1 5 1 0 1-0.9 1-0.8 1-0.9 1 1.7 1 0.5 1-0.8 1 0.3 1 0.1 1-0.9 1 1.4 1-0.9 1-0.5 1-1.9 1 3.6 1-1.8 1-0.3 1 1.7 1-1.2 1-0.8 1-2.2 1 2.1 1-0.4 1-2 1 3.5 1-0.4 1 0.2 1-1.5 1 2.1 1-1.6 1 1.4 1-2.3 1 2.2 1 1.1 1-0.3 1-1.1 1-3.3 1 3 1 1.8 1-2 1-2.8 1 4.1 1-4 1 0.2 1 3.9 1-3.8 1 3.7 1-1.7 1 1.8 1-0.5 1 0.2 1-3.3 1 3.2 1 0.3 1-4.1 1 4.5 1-2.1 1-2.4 1 4 1 0.4 1 0.2 1-4.6 1 4.5 1-3.7 1 2.5 1-1.5 1-0.5 1 2.9 1-4.4 1 0 1 1.2 1 2.8 1-0.3 1-2.2 1 3.1 1-1.1 1-3.6 1 3.5 1 0.6 1-2.6 1 2.9 1-4.6 1 3.8 1-3.9 1 2.2 1-0.1 1-1.6 1 2.8 1-2.4 1-3.1 1 1.1 1-5.8 1-3.5 1-13.1 1-13.3 0.8-5.6 0.2-0.6 1 5.5 1 12.8 1 4.5 1 0.8 1 0.1 1 11.4 1 1.9 1 5.4 1 2.2 1-3.4 1 4.3 1-0.3 1 0.2 1 0 1-1.3 1-2.2 1-7.8 1-3.9 1 0.8 1 10.2 1-0.8 1-0.8 1 1 1 0.5 1 4.5 1-0.8 1 1.6 1-0.1 1-1.4 1 2 1 0.2 1 1.5 1-1.4 1-0.1 1-1 1 1.2 1 0.3 1-0.6 1 0.6 1 0.3 1-1.9 1 1.3 1 0.9 1-4.7 1 4.1 1 0.6 1-0.7 1 0.7 1-1 1 0.4 1-3.6 1-0.5 1 4.6 1-0.8 1-3 1 2.7 1 0.3 1-1.8 1 2 1-1.5 1 1.6 1 1.1 1 0.4 1-1.7 1-0.1 1-1 1-2.4 1 3.9 1-0.6 1-1.5 1 0.7 1 2.2 1-1 1 0.6 1-0.4 1-2.7 1-0.7 1 2.8 1-1.3 1-2.3 1 3.2 1 0.3 1 0.2 1-0.4 1-1.6 1 2.7 1-4.4 1 4.7 1-0.2 1 0 1-3.2 1 2.4 1 0.2 1-2.2 1-1 1-0.3 1 0.2 1 4.2 1-1.2 1-3.6 1 1.8 1 3.3 1-5.1 1 2.2 1 0 1-0.7 1 0.1 1 0.8 1 0.6 1 0.9 1-0.6 1-1.3 1-0.8 1-1.3 1 1.3 1 1 1-0.5 1 1.7 1 0.9 1-2.6 1-1.8 1 4.9 1-3 1 1.9 1 0 1-0.8 1 0.4 1 0.4 1 0.6 1-1.4 1 1.7 1-0.9 1-3.5 1 1.3 1 3 1-4.8 1 1.4 1 2.6 1-0.3 1-0.4 1-3.8 1 3.7 1-4.8 1 1.5 1-3.9 1-9.8 0.8-5.9 0.2 2.5 1 5.9 1 7.8 1-0.7 1-4.5 1 0.9 1 6 1 3.7 1 1.2 1-1.5 1 1.7 1-3.1 1 4.6 1-1 1 0 1-2.2 1 2.5 1 0.3 1-1.4 1-2.1 1 3.9 1-3.8 1 2.4 1 1.3 1-1 1 0.7 1 0.1 1 0.3 1-0.1 1-0.7 1 1.4 1-1.3 1-0.1 1 0.4 1-0.4 1-1 1 0.6 1-3.4 1 4.5 1-3.2 1 2 1-0.1 1 1.5 1-0.3 1-0.2 1 0.6 1-0.1 1 0.8 1-1.3 1-0.3 1-2.2 1 2.1 1-1.8 1 2.2 1 0.5 1-0.7 1-2.6 1-0.6 1-0.6 1-0.3 1 3.6 1 0 1-1.4 1-0.5 1 0.4 1-4.4 1 2.2 1 0.3 1 2.3 1-4.1 1 5.5 1-4.4 1 3.9 1-0.1 1 0.3 1 0 1 1.2 1-1.7 1 1 1 0.5 1-3.6 1-1 1 3.5 1-3.4 1 3.7 1-0.2 1 0.4 1 0.4 1-3 1 2.2 1 0.9 1-0.2 1-2 1 2.2 1 1.2 1-4.4 1-1.1 1 4.8 1-4.4 1 3.7 1-4.1 1 2.5 1-1.9 1-0.6 1 4.1 1-1.6 1 1.3 1 1.3 1-1.4 1 0.4 1 0.3 1-0.5 1-3.3 1 4.6 1-1 1-2.2 1 2 1-4 1 1.1 1 2.5 1 0 1 0.9 1 0.4 1-0.9 1-2.4 1-0.7 1 2.3 1 0.5 1-2.7 1 3.6 1-4.8 1 3.7 1-3.8 1 3.6 1-0.8 1 0.2 1-4.2 1 3.7 1-0.1 1-2.1 1-0.6 1-1.8 1 2.3 1-4.9 0.6 3.5 0.4-0.1 1 0.7 1-0.6 1 1.1 1-1.3 1 3.2 1 0.1 1-1.6 1 3.3 1-2.9 1 1.4 1-2.4 1 3 1-0.8 1 2.1 1-3.3 1 3.4 1-0.1 1 0.9 1-4.6 1 0.5 1-0.1 1-0.6 1 3.6 1 0.1 1 1.6 1-1.1 1-1 1 0.5 1 0.1 1-0.8 1 1.1 1-0.8 1-1.6 1 0.8 1-2 1-0.1 1 1.8 1-0.4 1-1.2 1 2.1 1-1.4 1 1.3 1-2.5 1 3.4 1-0.2 1-3.2 1 1.3 1 0.3 1-0.3 1 0.3 1-1.6 1 4.8 1-0.1 1-0.6 1-0.2 1-1.9 1 1.5 1-2.8 1 2 1 1.3 1-1.9 1 0.7 1-0.2 1-2.4 1 4.8 1-1.7 1-0.6 1-1.2 1 3 1-2.2 1 1.9 1-3.5 1 0.2 1 4.3 1-3.6 1-1.4 1 4.3 1 0.3 1 0.9 1-3 1 1.4 1-3.4 1 1.5 1 2 1-2.9 1 4 1-1.7 1 1 1-0.4 1 0 1-1 1-2.5 1 0.4 1 2.7 1 0.7 1-1 1 0.8 1-4.2 1 2.2 1 1.7 1-0.8 1 1.3 1-2.2 1-0.7 1 2.2 1-0.3 1 0.4 1 0.7 1-0.8 1-3.7 1 2.8 1-0.9 1 2.3 1-0.4 1-1.7 1-0.7 1 0.4 1 2.4 1-0.2 1 1.1 1-0.4 1-0.6 1-1.4 1-1.6 1-1 1 4.1 1 0 1-2.5 1 0.4 1 0.9 1 0.9 1-0.1 1 0.4 1-3.6 1 1.9 1 0.8 1-0.2 1 1.6 1-0.4 1 0.8 1-0.6 1 0 1-0.2 1 0.4 1-0.8 1-0.1 1-0.5 1-0.3 1 0.9 1 0.5 1 0.2 1-1.3 1 0 1 0.8 1-2.7 1 3.1 1-1.2 1-0.9 1-1.9 1 3.1 1-0.2 1 1 1-0.1 1 0.1 1-0.5 1-2.6 1 2.6 1 0.2 1-1.4 1-1.9 1 0.1 1 2.9 1-1.7 1-2.1 1 4.2 1-1.9 1 2.4 1-4.7 1 2.5 1-0.2 1-0.3 1 2 1 0 1 0.7 1-0.7 1 0.3 1-2.4 1 2.4 1-4.3 1 0 1 4.1 1 0.1 1-2.8 1 1.2 1 2.3 1-0.7 1-0.1 1-4 1 3.8 1-2.5 1 1 1-1.6 1 3.9 1-4.7 1 1.8 1 2.3 1-0.1 1-0.7 1 0 1 1.3 1-4.2 1 4.3 1-3.9 1 2.5 1-1.6 1 2.3 1-0.9 1 0.7 1-3.8 1 4.3 1-2.3 1 1 1 0.8 1-3.9 1 0 1 3.9 1-2.3 1 2.7 1 0 1-2 1 1.5 1-3.7 1 3.7 1-2.2 1 2.9 1 0.2 1-1.5 1 0.6 1 0.9 1-3.5 1 3.4 1-3.8 1 2.5 1 0.8 1 0.9 1-4.4 1 3.7 1-3.1 1 2.6 1-3.2 1 3.1 1-3.3 1 3.6 1 0.2 1-3 1 4.3 1-1.3 1 0.1 1-2.2 1-1.3 1 3.4 1-0.4 1-0.1 1 0.5 1-2.5 1 1.5 1 0 1-1.5 1 2.7 1 0 1-0.1 1-0.5 1-3.1 1 3.5 1-4.1 1 1.5 1 3.5 1-4.6 1 1.8 1 1.7 1 1 1-1.1 1-3.2 1-0.4 1 1.5 1-1.2 1 1.7 1 1.3 1-0.6 1 1 1-3.8 1 4.5 1-1.6 1 1.8 1 0.2 1-1.1 1-0.8 1-2.8 1 4.1 1-0.3 1-1.1 1-2.8 1 1.8 1 2.3 1-4.1 1 0.8 1 1.8 1 1.7 1-0.1 1-0.9 1 0.8 1-1 1-1.9 1-1.2 1 5.6 1-1.8 1-2 1 2 1 0.4 1-0.5 1 1 1-2.6 1-2.2 1 3.6 1 1.9 1-2.3 1 0.7 1 0.6 1-0.7 1-0.1 1 1 1-3.9 1 3.4 1-2.4 1 0.9 1 1.3 1-1.1 1 2.4 1-3.8 1 2.8 1-0.7 1 0.1 1-0.1 1 0.5 1-0.7 1-0.3 1 0.9 1 0.2 1-1.1 1 0 1 0.3 1 0.8 1-2.5 1 2 1 0.5 1-1.1 1-3.1 1 4.1 1-1.1 1-2.7 1 0.1 1 3.6 1-1.9 1 2.6 1-2.6 1-0.6 1-0.7 1 4.3 1-1.5 1-2.8 1 3.5 1-0.6 1-0 1 0.7 1-0.9 1 0.4 1 1 1-3.8 1-0.5 1 2.2 1-0.4 1 1.1 1-0.1 1-0.8 1 0.4 1-2.2 1-1.3 1 4.3 1-3.7 1 1.7 1 1.3 1-1.9 1-0.3 1-3.6 1-0.8 1 0.5 1-2.9 1 1.1 1-1.5 1 2.7 1-1.3 1 4.6 1-1.9 1 0.3 1 2.4 1-2.2 1 2.1 1-0.9 1-3.4 1-0.4 1-1.2 1-0.9 0.6 1.3 0.4 2.7 1-2.9 1 6 1 0.4 1 0.4 1-2.3 0.75 3.5" fill="none" stroke="#000000" stroke-width="2.8" stroke-linejoin="round" shape-rendering="crispEdges"/><g transform="translate(148.95,83.20) scale(0.6155,0.5260)"><text font-family="&quot;DejaVu Sans&quot;, sans-serif" font-size="100">♠</text></g><g transform="translate(200.70,84.10) scale(0.7240,0.7725)"><text font-family="&quot;Liberation Serif&quot;, serif" font-size="100">-Fe<tspan font-size="64.0" dy="28.5">2</tspan><tspan font-size="100" dy="-28.5">O</tspan><tspan font-size="64.0" dy="28.5">3</tspan></text></g><g transform="translate(633.92,84.70) scale(0.4972,0.5384)"><text font-family="&quot;DejaVu Sans&quot;, sans-serif" font-size="100">♥</text></g><g transform="translate(681.09,84.70) scale(0.7273,0.7817)"><text font-family="&quot;Liberation Serif&quot;, serif" font-size="100">-ZnO</text></g><g transform="translate(1005.48,71.88) scale(0.3039,0.3184)"><text font-family="&quot;DejaVu Sans&quot;, sans-serif" font-size="100">●</text></g><g transform="translate(1032.85,84.70) scale(0.7375,0.7908)"><text font-family="&quot;Liberation Serif&quot;, serif" font-size="100">-Al<tspan font-size="64.0" dy="28.5">2</tspan><tspan font-size="100" dy="-28.5">O</tspan><tspan font-size="64.0" dy="28.5">3</tspan><tspan font-size="100" dy="-28.5">·SiO</tspan><tspan font-size="64.0" dy="28.5">2</tspan></text></g><g transform="translate(1540.59,81.70) scale(0.5536,0.5458)"><text font-family="&quot;DejaVu Sans&quot;, sans-serif" font-size="100">♦</text></g><g transform="translate(1591.07,81.70) scale(0.7318,0.7863)"><text font-family="&quot;Liberation Serif&quot;, serif" font-size="100">-SiO<tspan font-size="64.0" dy="28.5">2</tspan></text></g><g transform="translate(1978.46,89.30) scale(0.5765,0.5603)"><text font-family="&quot;DejaVu Sans&quot;, sans-serif" font-size="100">♣</text></g><g transform="translate(2030.10,89.30) scale(0.7250,0.7863)"><text font-family="&quot;Liberation Serif&quot;, serif" font-size="100">-ZnFe<tspan font-size="64.0" dy="28.5">2</tspan><tspan font-size="100" dy="-28.5">O</tspan><tspan font-size="64.0" dy="28.5">4</tspan></text></g><g transform="translate(203.63,1780.20) scale(0.6793,0.5603)"><text font-family="&quot;DejaVu Sans&quot;, sans-serif" font-size="100">♠</text></g><g transform="translate(260.70,1780.20) scale(0.7247,0.7389)"><text font-family="&quot;Liberation Serif&quot;, serif" font-size="100">-Fe<tspan font-size="64.0" dy="28.5">2</tspan><tspan font-size="100" dy="-28.5">O</tspan><tspan font-size="64.0" dy="28.5">3</tspan></text></g><g transform="translate(608.90,1780.80) scale(0.5222,0.5466)"><text font-family="&quot;DejaVu Sans&quot;, sans-serif" font-size="100">♥</text></g><g transform="translate(659.72,1779.90) scale(0.7196,0.7298)"><text font-family="&quot;Liberation Serif&quot;, serif" font-size="100">-ZnO</text></g><g transform="translate(986.07,1767.80) scale(0.3468,0.3500)"><text font-family="&quot;DejaVu Sans&quot;, sans-serif" font-size="100">●</text></g><g transform="translate(1018.06,1780.20) scale(0.7352,0.7359)"><text font-family="&quot;Liberation Serif&quot;, serif" font-size="100">-Al<tspan font-size="64.0" dy="28.5">2</tspan><tspan font-size="100" dy="-28.5">O</tspan><tspan font-size="64.0" dy="28.5">3</tspan><tspan font-size="100" dy="-28.5">·SiO</tspan><tspan font-size="64.0" dy="28.5">2</tspan></text></g><g transform="translate(1524.41,1778.10) scale(0.6054,0.5806)"><text font-family="&quot;DejaVu Sans&quot;, sans-serif" font-size="100">♦</text></g><g transform="translate(1580.07,1778.10) scale(0.7336,0.7481)"><text font-family="&quot;Liberation Serif&quot;, serif" font-size="100">-SiO<tspan font-size="64.0" dy="28.5">2</tspan></text></g><g transform="translate(1852.37,1786.90) scale(0.6206,0.5603)"><text font-family="&quot;DejaVu Sans&quot;, sans-serif" font-size="100">♣</text></g><g transform="translate(1909.10,1787.80) scale(0.7261,0.7405)"><text font-family="&quot;Liberation Serif&quot;, serif" font-size="100">-ZnFe<tspan font-size="64.0" dy="28.5">2</tspan><tspan font-size="100" dy="-28.5">O</tspan><tspan font-size="64.0" dy="28.5">4</tspan></text></g><g transform="translate(78.38,224.13) scale(0.6306,0.6556)"><text font-family="&quot;Liberation Serif&quot;, serif" font-size="100">(d)</text></g><g transform="translate(97.40,1924.85) scale(0.6495,0.6644)"><text font-family="&quot;Liberation Serif&quot;, serif" font-size="100">(e)</text></g><g transform="translate(1023.28,1717.00) scale(0.7294,0.8031)"><text font-family="&quot;Liberation Serif&quot;, serif" font-size="100">2-Theta</text></g><g transform="translate(1258.32,1704.98) scale(0.6692,0.6533)"><text font-family="&quot;Liberation Serif&quot;, serif" font-size="100">(</text></g><g transform="translate(1319.88,1711.92) scale(0.8233,0.6867)"><text font-family="&quot;Liberation Serif&quot;, serif" font-size="100">°</text></g><g transform="translate(1354.05,1704.86) scale(0.6500,0.6589)"><text font-family="&quot;Liberation Serif&quot;, serif" font-size="100">)</text></g><g transform="translate(999.38,3300.20) scale(0.7304,0.7359)"><text font-family="&quot;Liberation Serif&quot;, serif" font-size="100">2-Theta</text></g><g transform="translate(1236.03,3289.68) scale(0.6423,0.6722)"><text font-family="&quot;Liberation Serif&quot;, serif" font-size="100">(</text></g><g transform="translate(1296.35,3294.00) scale(0.7300,0.5667)"><text font-family="&quot;Liberation Serif&quot;, serif" font-size="100">°</text></g><g transform="translate(1329.57,3289.68) scale(0.6769,0.6722)"><text font-family="&quot;Liberation Serif&quot;, serif" font-size="100">)</text></g><g transform="translate(232.05,1592.43) scale(0.7289,0.7838)"><text font-family="&quot;Liberation Serif&quot;, serif" font-size="100" text-anchor="middle">10</text></g><g transform="translate(487.75,1592.43) scale(0.7289,0.7838)"><text font-family="&quot;Liberation Serif&quot;, serif" font-size="100" text-anchor="middle">20</text></g><g transform="translate(743.45,1592.43) scale(0.7289,0.7838)"><text font-family="&quot;Liberation Serif&quot;, serif" font-size="100" text-anchor="middle">30</text></g><g transform="translate(999.15,1592.43) scale(0.7289,0.7838)"><text font-family="&quot;Liberation Serif&quot;, serif" font-size="100" text-anchor="middle">40</text></g><g transform="translate(1254.85,1592.43) scale(0.7289,0.7838)"><text font-family="&quot;Liberation Serif&quot;, serif" font-size="100" text-anchor="middle">50</text></g><g transform="translate(1510.55,1592.43) scale(0.7289,0.7838)"><text font-family="&quot;Liberation Serif&quot;, serif" font-size="100" text-anchor="middle">60</text></g><g transform="translate(1766.25,1592.43) scale(0.7289,0.7838)"><text font-family="&quot;Liberation Serif&quot;, serif" font-size="100" text-anchor="middle">70</text></g><g transform="translate(2021.95,1592.43) scale(0.7289,0.7838)"><text font-family="&quot;Liberation Serif&quot;, serif" font-size="100" text-anchor="middle">80</text></g><g transform="translate(2277.65,1592.43) scale(0.7289,0.7838)"><text font-family="&quot;Liberation Serif&quot;, serif" font-size="100" text-anchor="middle">90</text></g><g transform="translate(245.95,3198.44) scale(0.7101,0.7324)"><text font-family="&quot;Liberation Serif&quot;, serif" font-size="100" text-anchor="middle">10</text></g><g transform="translate(503.05,3198.44) scale(0.7101,0.7324)"><text font-family="&quot;Liberation Serif&quot;, serif" font-size="100" text-anchor="middle">20</text></g><g transform="translate(760.15,3198.44) scale(0.7101,0.7324)"><text font-family="&quot;Liberation Serif&quot;, serif" font-size="100" text-anchor="middle">30</text></g><g transform="translate(1017.25,3198.44) scale(0.7101,0.7324)"><text font-family="&quot;Liberation Serif&quot;, serif" font-size="100" text-anchor="middle">40</text></g><g transform="translate(1274.35,3198.44) scale(0.7101,0.7324)"><text font-family="&quot;Liberation Serif&quot;, serif" font-size="100" text-anchor="middle">50</text></g><g transform="translate(1531.45,3198.44) scale(0.7101,0.7324)"><text font-family="&quot;Liberation Serif&quot;, serif" font-size="100" text-anchor="middle">60</text></g><g transform="translate(1788.55,3198.44) scale(0.7101,0.7324)"><text font-family="&quot;Liberation Serif&quot;, serif" font-size="100" text-anchor="middle">70</text></g><g transform="translate(2045.65,3198.44) scale(0.7101,0.7324)"><text font-family="&quot;Liberation Serif&quot;, serif" font-size="100" text-anchor="middle">80</text></g><g transform="translate(2302.75,3198.44) scale(0.7101,0.7324)"><text font-family="&quot;Liberation Serif&quot;, serif" font-size="100" text-anchor="middle">90</text></g><g transform="translate(2000.19,263.50) scale(0.7234,0.7970)"><text font-family="&quot;Liberation Serif&quot;, serif" font-size="100">150 min</text></g><g transform="translate(2000.19,356.70) scale(0.7234,0.7970)"><text font-family="&quot;Liberation Serif&quot;, serif" font-size="100">120 min</text></g><g transform="translate(2000.19,449.80) scale(0.7234,0.7970)"><text font-family="&quot;Liberation Serif&quot;, serif" font-size="100">90 min</text></g><g transform="translate(2000.19,542.60) scale(0.7234,0.7970)"><text font-family="&quot;Liberation Serif&quot;, serif" font-size="100">60 min</text></g><g transform="translate(2000.19,635.70) scale(0.7234,0.7970)"><text font-family="&quot;Liberation Serif&quot;, serif" font-size="100">30 min</text></g><g transform="translate(1990.58,1974.90) scale(0.7134,0.7333)"><text font-family="&quot;Liberation Serif&quot;, serif" font-size="100">150 min</text></g><g transform="translate(1990.58,2063.40) scale(0.7134,0.7333)"><text font-family="&quot;Liberation Serif&quot;, serif" font-size="100">120 min</text></g><g transform="translate(1990.58,2152.10) scale(0.7134,0.7333)"><text font-family="&quot;Liberation Serif&quot;, serif" font-size="100">90 min</text></g><g transform="translate(1990.58,2241.20) scale(0.7134,0.7333)"><text font-family="&quot;Liberation Serif&quot;, serif" font-size="100">60 min</text></g><g transform="translate(1990.58,2329.40) scale(0.7134,0.7333)"><text font-family="&quot;Liberation Serif&quot;, serif" font-size="100">30 min</text></g><g transform="translate(721.13,623.90) scale(0.4926,0.4658)"><text font-family="&quot;DejaVu Sans&quot;, sans-serif" font-size="100">♣</text></g><g transform="translate(858.23,505.25) scale(0.4926,0.4658)"><text font-family="&quot;DejaVu Sans&quot;, sans-serif" font-size="100">♣</text></g><g transform="translate(1052.33,621.70) scale(0.4926,0.4658)"><text font-family="&quot;DejaVu Sans&quot;, sans-serif" font-size="100">♣</text></g><g transform="translate(1060.42,648.61) scale(0.2662,0.2697)"><text font-family="&quot;DejaVu Sans&quot;, sans-serif" font-size="100">●</text></g><g transform="translate(1318.23,609.90) scale(0.4926,0.4658)"><text font-family="&quot;DejaVu Sans&quot;, sans-serif" font-size="100">♣</text></g><g transform="translate(1313.50,654.45) scale(0.4911,0.4583)"><text font-family="&quot;DejaVu Sans&quot;, sans-serif" font-size="100">♦</text></g><g transform="translate(1409.33,598.10) scale(0.4926,0.4658)"><text font-family="&quot;DejaVu Sans&quot;, sans-serif" font-size="100">♣</text></g><g transform="translate(1420.42,618.61) scale(0.2662,0.2697)"><text font-family="&quot;DejaVu Sans&quot;, sans-serif" font-size="100">●</text></g><g transform="translate(1543.43,563.75) scale(0.4926,0.4658)"><text font-family="&quot;DejaVu Sans&quot;, sans-serif" font-size="100">♣</text></g><g transform="translate(1545.61,606.05) scale(0.5086,0.4589)"><text font-family="&quot;DejaVu Sans&quot;, sans-serif" font-size="100">♠</text></g><g transform="translate(619.40,854.55) scale(0.4911,0.4583)"><text font-family="&quot;DejaVu Sans&quot;, sans-serif" font-size="100">♦</text></g><g transform="translate(722.13,810.90) scale(0.4926,0.4658)"><text font-family="&quot;DejaVu Sans&quot;, sans-serif" font-size="100">♣</text></g><g transform="translate(768.14,865.45) scale(0.4236,0.4521)"><text font-family="&quot;DejaVu Sans&quot;, sans-serif" font-size="100">♥</text></g><g transform="translate(834.41,861.65) scale(0.5086,0.4589)"><text font-family="&quot;DejaVu Sans&quot;, sans-serif" font-size="100">♠</text></g><g transform="translate(903.24,859.95) scale(0.4236,0.4521)"><text font-family="&quot;DejaVu Sans&quot;, sans-serif" font-size="100">♥</text></g><g transform="translate(1058.13,810.00) scale(0.4926,0.4658)"><text font-family="&quot;DejaVu Sans&quot;, sans-serif" font-size="100">♣</text></g><g transform="translate(1069.42,841.76) scale(0.2662,0.2697)"><text font-family="&quot;DejaVu Sans&quot;, sans-serif" font-size="100">●</text></g><g transform="translate(1324.33,809.10) scale(0.4926,0.4658)"><text font-family="&quot;DejaVu Sans&quot;, sans-serif" font-size="100">♣</text></g><g transform="translate(1318.60,853.45) scale(0.4911,0.4583)"><text font-family="&quot;DejaVu Sans&quot;, sans-serif" font-size="100">♦</text></g><g transform="translate(1408.23,779.10) scale(0.4926,0.4658)"><text font-family="&quot;DejaVu Sans&quot;, sans-serif" font-size="100">♣</text></g><g transform="translate(1420.32,811.06) scale(0.2662,0.2697)"><text font-family="&quot;DejaVu Sans&quot;, sans-serif" font-size="100">●</text></g><g transform="translate(1550.23,780.00) scale(0.4926,0.4658)"><text font-family="&quot;DejaVu Sans&quot;, sans-serif" font-size="100">♣</text></g><g transform="translate(1551.41,818.80) scale(0.5086,0.4589)"><text font-family="&quot;DejaVu Sans&quot;, sans-serif" font-size="100">♠</text></g><g transform="translate(616.20,1074.50) scale(0.4911,0.4583)"><text font-family="&quot;DejaVu Sans&quot;, sans-serif" font-size="100">♦</text></g><g transform="translate(729.43,1015.05) scale(0.4926,0.4658)"><text font-family="&quot;DejaVu Sans&quot;, sans-serif" font-size="100">♣</text></g><g transform="translate(768.14,1076.35) scale(0.4236,0.4521)"><text font-family="&quot;DejaVu Sans&quot;, sans-serif" font-size="100">♥</text></g><g transform="translate(840.21,1072.35) scale(0.5086,0.4589)"><text font-family="&quot;DejaVu Sans&quot;, sans-serif" font-size="100">♠</text></g><g transform="translate(892.34,1070.85) scale(0.4236,0.4521)"><text font-family="&quot;DejaVu Sans&quot;, sans-serif" font-size="100">♥</text></g><g transform="translate(1052.03,1017.40) scale(0.4926,0.4658)"><text font-family="&quot;DejaVu Sans&quot;, sans-serif" font-size="100">♣</text></g><g transform="translate(1061.52,1049.56) scale(0.2662,0.2697)"><text font-family="&quot;DejaVu Sans&quot;, sans-serif" font-size="100">●</text></g><g transform="translate(1318.53,1027.25) scale(0.4926,0.4658)"><text font-family="&quot;DejaVu Sans&quot;, sans-serif" font-size="100">♣</text></g><g transform="translate(1313.50,1071.05) scale(0.4911,0.4583)"><text font-family="&quot;DejaVu Sans&quot;, sans-serif" font-size="100">♦</text></g><g transform="translate(1409.33,993.80) scale(0.4926,0.4658)"><text font-family="&quot;DejaVu Sans&quot;, sans-serif" font-size="100">♣</text></g><g transform="translate(1420.32,1023.61) scale(0.2662,0.2697)"><text font-family="&quot;DejaVu Sans&quot;, sans-serif" font-size="100">●</text></g><g transform="translate(1543.03,981.80) scale(0.4926,0.4658)"><text font-family="&quot;DejaVu Sans&quot;, sans-serif" font-size="100">♣</text></g><g transform="translate(1548.51,1024.10) scale(0.5086,0.4589)"><text font-family="&quot;DejaVu Sans&quot;, sans-serif" font-size="100">♠</text></g><g transform="translate(611.40,1269.05) scale(0.4911,0.4583)"><text font-family="&quot;DejaVu Sans&quot;, sans-serif" font-size="100">♦</text></g><g transform="translate(734.13,1234.70) scale(0.4926,0.4658)"><text font-family="&quot;DejaVu Sans&quot;, sans-serif" font-size="100">♣</text></g><g transform="translate(773.54,1234.20) scale(0.4236,0.4521)"><text font-family="&quot;DejaVu Sans&quot;, sans-serif" font-size="100">♥</text></g><g transform="translate(834.81,1249.70) scale(0.5086,0.4589)"><text font-family="&quot;DejaVu Sans&quot;, sans-serif" font-size="100">♠</text></g><g transform="translate(886.14,1204.40) scale(0.4236,0.4521)"><text font-family="&quot;DejaVu Sans&quot;, sans-serif" font-size="100">♥</text></g><g transform="translate(1052.03,1216.35) scale(0.4926,0.4658)"><text font-family="&quot;DejaVu Sans&quot;, sans-serif" font-size="100">♣</text></g><g transform="translate(1063.62,1241.61) scale(0.2662,0.2697)"><text font-family="&quot;DejaVu Sans&quot;, sans-serif" font-size="100">●</text></g><g transform="translate(1171.61,1250.65) scale(0.5086,0.4589)"><text font-family="&quot;DejaVu Sans&quot;, sans-serif" font-size="100">♠</text></g><g transform="translate(1324.43,1215.95) scale(0.4926,0.4658)"><text font-family="&quot;DejaVu Sans&quot;, sans-serif" font-size="100">♣</text></g><g transform="translate(1318.60,1259.50) scale(0.4911,0.4583)"><text font-family="&quot;DejaVu Sans&quot;, sans-serif" font-size="100">♦</text></g><g transform="translate(1399.83,1171.05) scale(0.4926,0.4658)"><text font-family="&quot;DejaVu Sans&quot;, sans-serif" font-size="100">♣</text></g><g transform="translate(1415.52,1200.66) scale(0.2662,0.2697)"><text font-family="&quot;DejaVu Sans&quot;, sans-serif" font-size="100">●</text></g><g transform="translate(1543.93,1175.90) scale(0.4926,0.4658)"><text font-family="&quot;DejaVu Sans&quot;, sans-serif" font-size="100">♣</text></g><g transform="translate(1557.21,1214.65) scale(0.5086,0.4589)"><text font-family="&quot;DejaVu Sans&quot;, sans-serif" font-size="100">♠</text></g><g transform="translate(1697.44,1257.80) scale(0.4236,0.4521)"><text font-family="&quot;DejaVu Sans&quot;, sans-serif" font-size="100">♥</text></g><g transform="translate(604.20,1413.65) scale(0.4911,0.4583)"><text font-family="&quot;DejaVu Sans&quot;, sans-serif" font-size="100">♦</text></g><g transform="translate(727.63,1376.30) scale(0.4926,0.4658)"><text font-family="&quot;DejaVu Sans&quot;, sans-serif" font-size="100">♣</text></g><g transform="translate(777.24,1379.50) scale(0.4236,0.4521)"><text font-family="&quot;DejaVu Sans&quot;, sans-serif" font-size="100">♥</text></g><g transform="translate(832.91,1392.65) scale(0.5086,0.4589)"><text font-family="&quot;DejaVu Sans&quot;, sans-serif" font-size="100">♠</text></g><g transform="translate(890.54,1336.25) scale(0.4236,0.4521)"><text font-family="&quot;DejaVu Sans&quot;, sans-serif" font-size="100">♥</text></g><g transform="translate(1058.13,1379.10) scale(0.4926,0.4658)"><text font-family="&quot;DejaVu Sans&quot;, sans-serif" font-size="100">♣</text></g><g transform="translate(1064.02,1408.01) scale(0.2662,0.2697)"><text font-family="&quot;DejaVu Sans&quot;, sans-serif" font-size="100">●</text></g><g transform="translate(1174.61,1410.05) scale(0.5086,0.4589)"><text font-family="&quot;DejaVu Sans&quot;, sans-serif" font-size="100">♠</text></g><g transform="translate(1318.13,1388.65) scale(0.4926,0.4658)"><text font-family="&quot;DejaVu Sans&quot;, sans-serif" font-size="100">♣</text></g><g transform="translate(1314.30,1422.70) scale(0.4911,0.4583)"><text font-family="&quot;DejaVu Sans&quot;, sans-serif" font-size="100">♦</text></g><g transform="translate(1410.43,1334.65) scale(0.4926,0.4658)"><text font-family="&quot;DejaVu Sans&quot;, sans-serif" font-size="100">♣</text></g><g transform="translate(1420.22,1360.01) scale(0.2662,0.2697)"><text font-family="&quot;DejaVu Sans&quot;, sans-serif" font-size="100">●</text></g><g transform="translate(1546.03,1342.05) scale(0.4926,0.4658)"><text font-family="&quot;DejaVu Sans&quot;, sans-serif" font-size="100">♣</text></g><g transform="translate(1550.41,1383.40) scale(0.5086,0.4589)"><text font-family="&quot;DejaVu Sans&quot;, sans-serif" font-size="100">♠</text></g><g transform="translate(1695.34,1409.35) scale(0.4236,0.4521)"><text font-family="&quot;DejaVu Sans&quot;, sans-serif" font-size="100">♥</text></g><g transform="translate(736.59,2286.40) scale(0.5735,0.5000)"><text font-family="&quot;DejaVu Sans&quot;, sans-serif" font-size="100">♣</text></g><g transform="translate(866.59,2138.55) scale(0.5735,0.5000)"><text font-family="&quot;DejaVu Sans&quot;, sans-serif" font-size="100">♣</text></g><g transform="translate(1061.69,2326.75) scale(0.5735,0.5000)"><text font-family="&quot;DejaVu Sans&quot;, sans-serif" font-size="100">♣</text></g><g transform="translate(1074.35,2341.14) scale(0.3091,0.3132)"><text font-family="&quot;DejaVu Sans&quot;, sans-serif" font-size="100">●</text></g><g transform="translate(1334.79,2313.55) scale(0.5735,0.5000)"><text font-family="&quot;DejaVu Sans&quot;, sans-serif" font-size="100">♣</text></g><g transform="translate(1330.59,2355.55) scale(0.5536,0.5139)"><text font-family="&quot;DejaVu Sans&quot;, sans-serif" font-size="100">♦</text></g><g transform="translate(1425.59,2292.45) scale(0.5735,0.5000)"><text font-family="&quot;DejaVu Sans&quot;, sans-serif" font-size="100">♣</text></g><g transform="translate(1437.95,2311.24) scale(0.3091,0.3132)"><text font-family="&quot;DejaVu Sans&quot;, sans-serif" font-size="100">●</text></g><g transform="translate(1562.89,2259.05) scale(0.5735,0.5000)"><text font-family="&quot;DejaVu Sans&quot;, sans-serif" font-size="100">♣</text></g><g transform="translate(1565.53,2304.70) scale(0.5948,0.5068)"><text font-family="&quot;DejaVu Sans&quot;, sans-serif" font-size="100">♠</text></g><g transform="translate(736.59,2511.95) scale(0.5735,0.5000)"><text font-family="&quot;DejaVu Sans&quot;, sans-serif" font-size="100">♣</text></g><g transform="translate(1067.49,2511.95) scale(0.5735,0.5000)"><text font-family="&quot;DejaVu Sans&quot;, sans-serif" font-size="100">♣</text></g><g transform="translate(1073.25,2540.19) scale(0.3091,0.3132)"><text font-family="&quot;DejaVu Sans&quot;, sans-serif" font-size="100">●</text></g><g transform="translate(1339.49,2495.60) scale(0.5735,0.5000)"><text font-family="&quot;DejaVu Sans&quot;, sans-serif" font-size="100">♣</text></g><g transform="translate(1335.69,2537.65) scale(0.5536,0.5139)"><text font-family="&quot;DejaVu Sans&quot;, sans-serif" font-size="100">♦</text></g><g transform="translate(1421.89,2501.80) scale(0.5735,0.5000)"><text font-family="&quot;DejaVu Sans&quot;, sans-serif" font-size="100">♣</text></g><g transform="translate(1434.25,2516.14) scale(0.3091,0.3132)"><text font-family="&quot;DejaVu Sans&quot;, sans-serif" font-size="100">●</text></g><g transform="translate(1564.69,2467.30) scale(0.5735,0.5000)"><text font-family="&quot;DejaVu Sans&quot;, sans-serif" font-size="100">♣</text></g><g transform="translate(1562.63,2511.85) scale(0.5948,0.5068)"><text font-family="&quot;DejaVu Sans&quot;, sans-serif" font-size="100">♠</text></g><g transform="translate(628.49,2728.35) scale(0.5536,0.5139)"><text font-family="&quot;DejaVu Sans&quot;, sans-serif" font-size="100">♦</text></g><g transform="translate(738.39,2695.20) scale(0.5735,0.5000)"><text font-family="&quot;DejaVu Sans&quot;, sans-serif" font-size="100">♣</text></g><g transform="translate(790.62,2726.70) scale(0.4861,0.4863)"><text font-family="&quot;DejaVu Sans&quot;, sans-serif" font-size="100">♥</text></g><g transform="translate(846.43,2723.45) scale(0.5948,0.5068)"><text font-family="&quot;DejaVu Sans&quot;, sans-serif" font-size="100">♠</text></g><g transform="translate(909.42,2725.40) scale(0.4861,0.4863)"><text font-family="&quot;DejaVu Sans&quot;, sans-serif" font-size="100">♥</text></g><g transform="translate(1065.69,2672.00) scale(0.5735,0.5000)"><text font-family="&quot;DejaVu Sans&quot;, sans-serif" font-size="100">♣</text></g><g transform="translate(1087.85,2699.84) scale(0.3091,0.3132)"><text font-family="&quot;DejaVu Sans&quot;, sans-serif" font-size="100">●</text></g><g transform="translate(1339.49,2671.60) scale(0.5735,0.5000)"><text font-family="&quot;DejaVu Sans&quot;, sans-serif" font-size="100">♣</text></g><g transform="translate(1335.69,2713.25) scale(0.5536,0.5139)"><text font-family="&quot;DejaVu Sans&quot;, sans-serif" font-size="100">♦</text></g><g transform="translate(1427.39,2646.90) scale(0.5735,0.5000)"><text font-family="&quot;DejaVu Sans&quot;, sans-serif" font-size="100">♣</text></g><g transform="translate(1451.75,2676.94) scale(0.3091,0.3132)"><text font-family="&quot;DejaVu Sans&quot;, sans-serif" font-size="100">●</text></g><g transform="translate(1578.49,2647.30) scale(0.5735,0.5000)"><text font-family="&quot;DejaVu Sans&quot;, sans-serif" font-size="100">♣</text></g><g transform="translate(1573.53,2685.30) scale(0.5948,0.5068)"><text font-family="&quot;DejaVu Sans&quot;, sans-serif" font-size="100">♠</text></g><g transform="translate(623.39,2902.35) scale(0.5536,0.5139)"><text font-family="&quot;DejaVu Sans&quot;, sans-serif" font-size="100">♦</text></g><g transform="translate(734.39,2864.70) scale(0.5735,0.5000)"><text font-family="&quot;DejaVu Sans&quot;, sans-serif" font-size="100">♣</text></g><g transform="translate(783.33,2876.55) scale(0.4861,0.4863)"><text font-family="&quot;DejaVu Sans&quot;, sans-serif" font-size="100">♥</text></g><g transform="translate(845.63,2884.20) scale(0.5948,0.5068)"><text font-family="&quot;DejaVu Sans&quot;, sans-serif" font-size="100">♠</text></g><g transform="translate(908.73,2844.20) scale(0.4861,0.4863)"><text font-family="&quot;DejaVu Sans&quot;, sans-serif" font-size="100">♥</text></g><g transform="translate(1062.79,2868.30) scale(0.5735,0.5000)"><text font-family="&quot;DejaVu Sans&quot;, sans-serif" font-size="100">♣</text></g><g transform="translate(1095.85,2876.69) scale(0.3091,0.3132)"><text font-family="&quot;DejaVu Sans&quot;, sans-serif" font-size="100">●</text></g><g transform="translate(1189.73,2888.50) scale(0.5948,0.5068)"><text font-family="&quot;DejaVu Sans&quot;, sans-serif" font-size="100">♠</text></g><g transform="translate(1331.79,2844.80) scale(0.5735,0.5000)"><text font-family="&quot;DejaVu Sans&quot;, sans-serif" font-size="100">♣</text></g><g transform="translate(1336.09,2890.40) scale(0.5536,0.5139)"><text font-family="&quot;DejaVu Sans&quot;, sans-serif" font-size="100">♦</text></g><g transform="translate(1438.65,2803.99) scale(0.3091,0.3132)"><text font-family="&quot;DejaVu Sans&quot;, sans-serif" font-size="100">●</text></g><g transform="translate(1427.59,2862.20) scale(0.5735,0.5000)"><text font-family="&quot;DejaVu Sans&quot;, sans-serif" font-size="100">♣</text></g><g transform="translate(1562.79,2847.80) scale(0.5735,0.5000)"><text font-family="&quot;DejaVu Sans&quot;, sans-serif" font-size="100">♣</text></g><g transform="translate(1582.93,2881.95) scale(0.5948,0.5068)"><text font-family="&quot;DejaVu Sans&quot;, sans-serif" font-size="100">♠</text></g><g transform="translate(1728.53,2901.55) scale(0.4861,0.4863)"><text font-family="&quot;DejaVu Sans&quot;, sans-serif" font-size="100">♥</text></g><g transform="translate(626.69,3064.15) scale(0.5536,0.5139)"><text font-family="&quot;DejaVu Sans&quot;, sans-serif" font-size="100">♦</text></g><g transform="translate(734.79,3036.70) scale(0.5735,0.5000)"><text font-family="&quot;DejaVu Sans&quot;, sans-serif" font-size="100">♣</text></g><g transform="translate(791.73,3016.15) scale(0.4861,0.4863)"><text font-family="&quot;DejaVu Sans&quot;, sans-serif" font-size="100">♥</text></g><g transform="translate(840.93,3030.35) scale(0.5948,0.5068)"><text font-family="&quot;DejaVu Sans&quot;, sans-serif" font-size="100">♠</text></g><g transform="translate(910.52,2993.65) scale(0.4861,0.4863)"><text font-family="&quot;DejaVu Sans&quot;, sans-serif" font-size="100">♥</text></g><g transform="translate(1062.79,3026.85) scale(0.5735,0.5000)"><text font-family="&quot;DejaVu Sans&quot;, sans-serif" font-size="100">♣</text></g><g transform="translate(1096.95,3035.29) scale(0.3091,0.3132)"><text font-family="&quot;DejaVu Sans&quot;, sans-serif" font-size="100">●</text></g><g transform="translate(1186.83,3049.25) scale(0.5948,0.5068)"><text font-family="&quot;DejaVu Sans&quot;, sans-serif" font-size="100">♠</text></g><g transform="translate(1339.49,3016.75) scale(0.5735,0.5000)"><text font-family="&quot;DejaVu Sans&quot;, sans-serif" font-size="100">♣</text></g><g transform="translate(1335.69,3049.25) scale(0.5536,0.5139)"><text font-family="&quot;DejaVu Sans&quot;, sans-serif" font-size="100">♦</text></g><g transform="translate(1421.69,2980.30) scale(0.5735,0.5000)"><text font-family="&quot;DejaVu Sans&quot;, sans-serif" font-size="100">♣</text></g><g transform="translate(1443.75,3009.44) scale(0.3091,0.3132)"><text font-family="&quot;DejaVu Sans&quot;, sans-serif" font-size="100">●</text></g><g transform="translate(1568.29,2994.90) scale(0.5735,0.5000)"><text font-family="&quot;DejaVu Sans&quot;, sans-serif" font-size="100">♣</text></g><g transform="translate(1588.53,3030.35) scale(0.5948,0.5068)"><text font-family="&quot;DejaVu Sans&quot;, sans-serif" font-size="100">♠</text></g><g transform="translate(1723.42,3056.50) scale(0.4861,0.4863)"><text font-family="&quot;DejaVu Sans&quot;, sans-serif" font-size="100">♥</text></g></svg></body></html>
